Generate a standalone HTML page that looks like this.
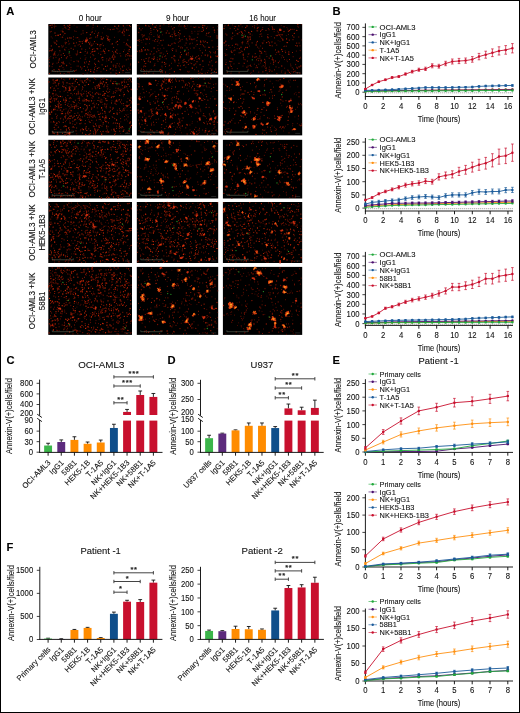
<!DOCTYPE html>
<html><head><meta charset="utf-8"><style>
html,body{margin:0;padding:0;background:#fff;}
body{width:520px;height:713px;overflow:hidden;}
.wrap{position:relative;width:520px;height:713px;box-sizing:border-box;border:1px solid #000;background:#fff;}
svg{position:absolute;left:-1px;top:-1px;will-change:transform;}
svg text{font-family:"Liberation Sans", sans-serif;stroke:#111;stroke-width:0.1px;}
</style></head><body><div class="wrap">
<svg width="520" height="713" viewBox="0 0 520 713" font-family='"Liberation Sans", sans-serif'>
<text x="6.30" y="15.00" font-size="11.2" text-anchor="start" font-weight="bold" fill="#000" >A</text>
<text x="332.60" y="15.30" font-size="11.2" text-anchor="start" font-weight="bold" fill="#000" >B</text>
<text x="6.40" y="363.80" font-size="11.2" text-anchor="start" font-weight="bold" fill="#000" >C</text>
<text x="167.40" y="364.20" font-size="11.2" text-anchor="start" font-weight="bold" fill="#000" >D</text>
<text x="332.60" y="363.80" font-size="11.2" text-anchor="start" font-weight="bold" fill="#000" >E</text>
<text x="6.60" y="550.80" font-size="11.2" text-anchor="start" font-weight="bold" fill="#000" >F</text>
<text x="90.15" y="21.00" font-size="8.4" text-anchor="middle" font-weight="normal" fill="#111" textLength="23.0" lengthAdjust="spacingAndGlyphs">0 hour</text>
<text x="177.50" y="21.00" font-size="8.4" text-anchor="middle" font-weight="normal" fill="#111" textLength="23.1" lengthAdjust="spacingAndGlyphs">9 hour</text>
<text x="262.55" y="21.00" font-size="8.4" text-anchor="middle" font-weight="normal" fill="#111" textLength="26.8" lengthAdjust="spacingAndGlyphs">16 hour</text>
<text x="0" y="0" font-size="9.6" text-anchor="middle" fill="#111" textLength="38.2" lengthAdjust="spacingAndGlyphs" transform="translate(36.1,49.30) rotate(-90)">OCI-AML3</text>
<text x="0" y="0" font-size="9.6" text-anchor="middle" fill="#111" textLength="56.5" lengthAdjust="spacingAndGlyphs" transform="translate(35.0,106.45) rotate(-90)">OCI-AML3 +NK</text>
<text x="0" y="0" font-size="9.6" text-anchor="middle" fill="#111" textLength="17.0" lengthAdjust="spacingAndGlyphs" transform="translate(45.2,106.45) rotate(-90)">IgG1</text>
<text x="0" y="0" font-size="9.6" text-anchor="middle" fill="#111" textLength="56.5" lengthAdjust="spacingAndGlyphs" transform="translate(35.0,169.15) rotate(-90)">OCI-AML3 +NK</text>
<text x="0" y="0" font-size="9.6" text-anchor="middle" fill="#111" textLength="20.3" lengthAdjust="spacingAndGlyphs" transform="translate(45.2,169.15) rotate(-90)">T-1A5</text>
<text x="0" y="0" font-size="9.6" text-anchor="middle" fill="#111" textLength="56.5" lengthAdjust="spacingAndGlyphs" transform="translate(35.0,232.50) rotate(-90)">OCI-AML3 +NK</text>
<text x="0" y="0" font-size="9.6" text-anchor="middle" fill="#111" textLength="36.2" lengthAdjust="spacingAndGlyphs" transform="translate(45.2,232.50) rotate(-90)">HEK5-1B3</text>
<text x="0" y="0" font-size="9.6" text-anchor="middle" fill="#111" textLength="56.5" lengthAdjust="spacingAndGlyphs" transform="translate(35.0,300.90) rotate(-90)">OCI-AML3 +NK</text>
<text x="0" y="0" font-size="9.6" text-anchor="middle" fill="#111" textLength="18.6" lengthAdjust="spacingAndGlyphs" transform="translate(45.2,300.90) rotate(-90)">58B1</text>
<rect x="48.30" y="24.00" width="83.70" height="50.60" fill="#000"/>
<g fill="none"><path d="M59.9 66.5h0M82.2 41.6h0M62.6 37.2h0M66.4 58.0h0M124.1 35.1h0M86.7 38.2h0M115.5 51.4h0M52.1 25.0h0M130.1 46.7h0M76.7 54.8h0M129.2 35.4h0M62.0 62.5h0M104.9 53.2h0M89.5 61.5h0M77.7 37.6h0M102.8 59.9h0M63.1 63.7h0M75.0 45.9h0M52.6 64.1h0M92.3 31.9h0M113.6 59.4h0M116.8 49.9h0M127.3 45.0h0M91.9 45.2h0M49.5 73.6h0M102.1 64.8h0M55.8 35.6h0M88.8 64.2h0M51.3 45.9h0M112.2 57.6h0M130.0 69.5h0M89.8 38.3h0M103.5 50.2h0M74.0 61.6h0M54.2 54.6h0M116.7 73.9h0M51.9 27.6h0M55.0 33.0h0M65.0 27.2h0M64.9 33.5h0M127.8 53.3h0M95.4 64.5h0M80.5 46.2h0M59.4 58.8h0M111.3 62.0h0M108.4 39.3h0M126.5 30.0h0M58.3 35.4h0" stroke="rgb(145,24,4)" stroke-width="1.3" stroke-linecap="round"/><path d="M58.6 62.2h0M114.0 29.2h0M84.6 62.3h0M126.5 43.4h0M97.5 26.2h0M88.6 42.6h0M88.0 25.7h0M80.1 41.7h0M73.3 49.3h0M115.9 52.4h0M79.2 41.4h0M117.1 63.7h0M108.9 40.4h0M49.7 66.0h0M60.3 73.3h0M89.7 48.2h0M59.0 60.1h0M61.4 65.8h0M91.0 37.9h0M78.2 61.2h0M64.5 55.5h0M108.2 39.7h0M105.3 49.0h0M56.7 44.3h0M123.6 51.6h0M130.2 26.5h0M127.9 53.5h0M65.3 43.8h0M91.1 45.9h0M49.5 50.9h0M55.1 55.0h0M110.0 58.8h0M67.8 25.8h0M113.8 58.1h0M92.9 54.7h0M71.1 48.3h0M98.9 67.7h0M69.5 37.9h0M113.7 47.4h0M63.3 53.5h0M127.8 40.0h0M108.0 36.4h0M61.5 57.6h0M127.9 55.7h0M101.2 36.7h0M94.5 69.6h0M110.8 68.5h0M50.7 25.5h0M117.2 53.4h0M65.0 50.0h0M48.9 59.4h0M113.7 54.8h0" stroke="rgb(175,32,6)" stroke-width="1.0" stroke-linecap="round"/><path d="M70.8 64.3h0M123.3 26.0h0M127.6 70.5h0M91.9 44.0h0M102.3 32.9h0M86.8 37.9h0M91.7 52.3h0M51.5 71.3h0M57.9 55.5h0M128.8 67.9h0M95.5 31.0h0M60.0 51.8h0M79.0 39.2h0M49.8 57.8h0M69.1 25.5h0M130.3 65.2h0M50.8 56.6h0M106.8 61.0h0M92.1 29.0h0M58.7 54.3h0M103.4 38.3h0M128.2 50.7h0M96.0 43.5h0M123.6 25.7h0M90.4 42.2h0M76.9 60.8h0M102.4 43.2h0M86.0 57.7h0M114.4 26.0h0M52.3 38.1h0M77.7 54.5h0M124.9 28.0h0M119.5 66.8h0M124.3 49.9h0M83.3 40.3h0M123.8 33.7h0M65.7 27.8h0M69.7 25.0h0M94.3 51.0h0M131.1 58.5h0M53.5 55.5h0M61.1 37.2h0M71.1 60.2h0M105.1 26.5h0M101.1 51.7h0M63.3 35.2h0M102.9 51.5h0M100.0 46.6h0M118.2 31.9h0M124.7 32.2h0M69.3 63.2h0M69.7 43.6h0M66.1 47.5h0M99.7 61.9h0M103.6 51.5h0M81.4 69.4h0M111.2 44.2h0M125.5 55.0h0M50.0 48.7h0M68.9 49.6h0M120.9 69.9h0M74.1 25.2h0M66.0 28.6h0M66.8 57.9h0M122.3 33.6h0" stroke="rgb(85,10,2)" stroke-width="1.0" stroke-linecap="round"/><path d="M108.8 50.7h0M94.5 41.6h0M110.3 68.9h0M97.4 68.3h0M87.6 39.8h0M102.4 39.1h0M129.6 55.8h0M74.5 71.1h0M97.6 35.3h0M97.7 48.9h0M117.3 41.4h0M110.3 29.6h0M54.0 69.8h0M58.0 35.2h0M101.3 38.9h0M69.7 27.7h0M94.2 51.4h0M92.5 49.3h0M89.7 44.0h0M85.6 70.3h0M55.0 43.0h0M130.4 47.4h0M100.9 44.7h0M90.7 71.4h0M118.6 26.0h0M86.8 32.6h0M105.6 66.4h0M103.7 68.9h0M90.4 34.7h0M88.5 69.8h0M107.5 38.6h0M92.3 51.4h0M123.1 70.4h0M71.0 38.0h0M112.4 43.8h0M66.6 65.6h0M59.0 46.7h0M67.7 38.1h0M63.4 62.1h0M122.3 32.4h0M80.2 52.4h0M129.4 25.6h0M102.7 57.4h0M114.9 56.9h0M80.8 52.3h0M112.5 56.1h0M54.6 53.2h0M104.4 51.6h0M60.3 34.5h0M58.9 69.4h0M108.8 60.1h0M119.5 72.5h0M64.2 25.3h0M122.5 66.8h0M52.4 49.4h0M97.0 48.6h0M97.6 44.5h0M114.9 26.3h0M129.3 49.6h0M98.4 61.1h0M69.9 25.2h0M73.8 43.2h0M115.8 67.1h0M62.9 31.8h0M84.3 66.3h0" stroke="rgb(175,32,6)" stroke-width="1.3" stroke-linecap="round"/><path d="M64.2 73.7h0M63.0 67.5h0M65.3 42.4h0M69.1 29.5h0M71.0 67.5h0M122.7 31.5h0M61.7 45.7h0M91.4 32.7h0M129.0 55.1h0M120.0 53.5h0M113.5 66.5h0M75.4 70.6h0M76.1 53.9h0M74.7 30.9h0M92.1 52.2h0M116.3 70.4h0M115.9 73.0h0M93.8 71.4h0M128.2 59.0h0M79.3 44.4h0M117.8 28.9h0M109.5 58.2h0M123.6 30.3h0M114.0 55.4h0M106.6 35.7h0M59.2 59.7h0M71.1 57.6h0M126.0 44.8h0M57.0 63.1h0M57.5 71.7h0M69.8 55.5h0M93.7 55.5h0M106.7 58.8h0M52.5 50.2h0M95.7 66.4h0M81.2 34.2h0M123.9 29.2h0M65.1 42.3h0M83.1 74.0h0M68.2 29.4h0M59.5 70.3h0" stroke="rgb(85,10,2)" stroke-width="1.3" stroke-linecap="round"/><path d="M90.8 69.6h0M83.1 33.1h0M88.9 42.2h0M94.3 33.5h0M86.3 61.9h0M67.3 56.7h0M123.2 25.4h0M55.1 51.8h0M107.7 40.1h0M103.5 37.4h0M126.6 43.9h0M64.2 63.8h0M87.6 67.1h0M125.7 56.2h0M126.5 69.3h0M63.1 31.9h0M68.4 41.1h0M87.5 52.2h0M96.9 70.8h0M110.9 72.8h0M87.1 53.3h0M95.5 37.1h0M64.5 49.3h0M50.8 50.5h0M55.9 26.2h0M77.4 53.0h0M113.7 52.9h0M59.9 50.5h0M130.7 64.0h0M120.4 68.8h0M129.1 51.4h0M116.1 42.7h0M66.5 42.7h0M90.4 57.2h0M73.6 36.8h0M56.6 40.8h0M116.0 65.8h0M94.4 63.3h0M113.0 70.0h0M99.8 45.1h0M85.2 51.4h0M62.6 31.1h0M109.3 41.2h0M77.6 51.1h0M66.5 65.3h0M98.0 33.9h0M56.4 44.3h0M51.9 50.8h0M76.6 42.8h0M83.0 30.8h0M116.8 28.2h0M119.9 31.1h0M51.7 50.7h0M98.7 32.7h0M94.6 67.9h0M54.3 24.9h0M65.3 39.2h0" stroke="rgb(145,24,4)" stroke-width="1.0" stroke-linecap="round"/><path d="M56.0 57.4h0M86.7 25.9h0M114.6 37.3h0M85.7 49.6h0M124.4 66.0h0M54.2 26.5h0M55.2 71.6h0M63.5 46.0h0M54.0 42.1h0M63.0 28.9h0M73.5 39.4h0M122.9 72.1h0M85.0 55.4h0M54.6 27.8h0M101.4 38.2h0M78.7 61.8h0M77.1 66.1h0M122.3 66.6h0M123.7 26.3h0M76.1 37.8h0M69.6 72.9h0M119.6 39.6h0M123.0 65.7h0M87.2 73.1h0M51.2 36.9h0M119.5 63.9h0M116.1 74.0h0M52.1 66.7h0M98.6 53.3h0M90.7 53.6h0M78.1 45.1h0M108.0 29.0h0M93.0 27.4h0M100.3 48.3h0M95.4 58.5h0M49.2 25.5h0M76.1 31.4h0M51.4 31.4h0M95.5 51.1h0M115.1 65.2h0M101.0 71.8h0M127.1 25.4h0M93.3 43.9h0M103.6 28.3h0M68.3 26.5h0M61.1 31.0h0M80.4 58.3h0M78.3 66.1h0M53.1 63.3h0M118.8 65.9h0M77.0 27.1h0M76.5 70.1h0M124.0 42.4h0M64.0 69.3h0M49.6 62.4h0M86.6 42.1h0M68.9 44.1h0M84.9 63.4h0" stroke="rgb(115,16,3)" stroke-width="1.0" stroke-linecap="round"/><path d="M112.5 51.3h0M80.5 67.0h0M128.7 45.9h0M50.3 31.8h0M103.4 45.6h0M82.4 43.4h0M62.2 46.9h0M107.5 65.9h0M113.3 65.2h0M70.9 69.8h0M100.7 54.5h0M97.2 36.9h0M93.9 48.8h0M93.9 72.4h0M131.1 56.0h0M126.3 59.8h0M108.0 37.3h0M53.4 54.1h0M81.9 68.1h0M69.1 53.7h0M112.9 29.4h0M61.1 54.9h0M120.7 55.9h0M128.1 30.1h0M124.3 31.5h0M117.7 44.6h0M93.2 25.0h0M85.3 59.2h0M53.4 57.9h0M57.0 41.1h0M94.6 59.2h0M101.6 57.8h0M81.8 49.0h0M109.8 39.4h0M106.6 70.4h0M68.0 72.2h0M126.3 54.6h0" stroke="rgb(115,16,3)" stroke-width="1.3" stroke-linecap="round"/><path d="M69.3 51.9h0" stroke="rgb(40,150,40)" stroke-width="1.3" stroke-linecap="round"/><path d="M86.1 40.1h0M85.7 41.4h0M86.8 40.5h0" stroke="rgb(200,45,15)" stroke-width="1.9" stroke-linecap="round"/></g>
<path d="M52.3 70.0V71.4H73.3V70.0" fill="none" stroke="#6f7a68" stroke-width="0.5"/>
<line x1="125.0" y1="72.6" x2="130.0" y2="72.6" stroke="#444" stroke-width="0.5"/>
<rect x="136.80" y="24.00" width="81.40" height="50.60" fill="#000"/>
<g fill="none"><path d="M214.2 71.5h0M181.1 46.6h0M162.4 34.8h0M217.5 29.8h0M141.9 42.4h0M144.0 71.8h0M149.5 26.3h0M160.3 48.7h0M157.9 45.5h0M149.4 43.6h0M195.9 46.0h0M208.2 70.6h0M190.6 48.3h0M162.1 67.9h0M194.9 31.4h0M149.9 54.1h0M149.8 38.5h0M213.6 52.3h0M199.9 31.1h0M157.6 57.7h0M168.8 26.4h0M197.0 59.4h0M185.4 26.4h0M191.0 26.2h0M203.4 28.1h0M179.4 36.1h0M189.3 71.3h0M165.4 72.9h0M171.8 36.4h0M169.7 69.6h0M187.3 25.9h0M191.2 57.6h0M173.1 29.2h0M211.1 73.8h0M169.1 66.0h0M161.8 52.8h0M149.8 70.2h0M156.0 41.6h0M155.0 63.5h0M153.0 40.6h0M145.6 24.9h0M149.8 39.1h0M217.7 26.6h0M142.5 28.5h0M153.9 66.1h0M153.1 54.7h0M208.1 36.6h0M207.6 26.9h0M170.9 69.2h0" stroke="rgb(85,10,2)" stroke-width="1.0" stroke-linecap="round"/><path d="M166.3 32.9h0M217.7 56.2h0M175.3 35.7h0M143.8 35.8h0M186.4 38.9h0M157.7 30.6h0M145.0 50.1h0M194.0 47.9h0M198.4 71.1h0M141.6 49.3h0M197.0 61.7h0M169.1 33.2h0M172.7 28.8h0M180.8 47.8h0M142.0 51.0h0M138.6 62.2h0M186.8 62.5h0M174.0 56.2h0M180.5 69.7h0M174.2 27.6h0M162.2 62.2h0M148.3 61.1h0M202.4 52.8h0M179.4 38.3h0M171.9 57.7h0M160.1 28.7h0M189.8 39.0h0M217.1 38.0h0M172.9 48.6h0M200.1 64.7h0M142.1 34.8h0M170.1 45.6h0M154.7 65.2h0M197.2 44.4h0M174.3 55.7h0M139.6 50.8h0" stroke="rgb(145,24,4)" stroke-width="1.3" stroke-linecap="round"/><path d="M157.5 35.0h0M171.4 68.3h0M156.3 25.7h0M178.3 42.3h0M176.4 35.5h0M200.4 41.4h0M198.0 31.3h0M179.4 24.6h0M156.7 29.4h0M162.2 56.3h0M212.2 66.0h0M194.6 69.7h0M179.4 69.5h0M210.1 68.4h0M176.1 50.0h0M153.7 58.1h0M178.2 34.9h0M201.4 55.7h0M212.0 40.7h0M162.7 70.4h0M157.4 41.5h0M146.8 70.2h0M164.4 56.6h0M178.4 65.8h0M151.2 34.5h0M139.8 51.9h0M196.5 67.2h0M185.9 67.2h0M160.0 53.0h0M210.8 56.5h0M175.5 43.3h0M159.8 26.0h0M153.9 36.5h0M202.0 68.9h0M143.7 66.8h0M171.6 63.3h0M149.0 37.0h0M175.1 33.8h0M210.7 52.1h0M200.2 50.6h0M207.7 56.2h0M205.3 73.2h0M159.2 43.0h0M175.9 39.1h0M144.5 70.6h0M171.8 49.2h0M192.3 43.2h0M180.5 40.1h0M171.3 26.7h0M212.3 65.7h0M209.5 51.6h0M141.1 40.4h0M212.0 69.1h0M181.0 26.1h0M151.0 30.6h0M149.5 33.9h0M174.9 56.5h0M200.2 72.9h0M145.6 38.8h0M199.2 27.4h0M203.2 29.4h0M163.3 54.2h0M185.0 45.2h0M195.3 58.2h0M172.1 43.7h0M204.1 42.4h0M190.2 63.1h0M190.2 43.3h0M203.9 41.4h0M164.8 64.5h0" stroke="rgb(115,16,3)" stroke-width="1.0" stroke-linecap="round"/><path d="M207.3 42.6h0M200.8 42.0h0M150.3 61.9h0M207.8 55.1h0M162.2 72.0h0M145.8 25.7h0M202.6 27.5h0M174.8 60.2h0M159.3 37.1h0M180.1 33.8h0M202.9 25.4h0M202.0 31.3h0M214.3 30.1h0M150.7 28.3h0M138.0 40.4h0M164.5 62.6h0M155.6 27.2h0M184.6 51.2h0M185.0 61.6h0M199.4 58.9h0M153.6 59.4h0M158.3 36.9h0M174.4 71.7h0M146.7 54.2h0M144.5 61.3h0M202.0 73.6h0M217.1 56.5h0M152.6 24.6h0M202.8 60.9h0M170.4 36.2h0M168.4 45.1h0M210.7 57.6h0M146.9 38.8h0M192.4 68.2h0M186.4 54.7h0M160.9 40.6h0M183.1 62.1h0M216.4 72.3h0M194.1 64.9h0M154.1 48.0h0" stroke="rgb(175,32,6)" stroke-width="1.3" stroke-linecap="round"/><path d="M217.3 46.6h0M179.0 63.2h0M217.3 36.0h0M154.0 53.7h0M160.7 72.1h0M184.4 65.1h0M147.6 39.2h0M158.0 40.0h0M206.2 35.1h0M174.1 32.8h0M169.5 65.3h0M180.1 56.1h0M214.5 30.8h0M200.3 40.9h0M141.2 51.6h0M215.9 69.1h0M214.7 32.3h0M207.4 72.6h0M205.6 41.3h0M192.1 39.8h0M145.2 63.6h0M141.6 59.6h0M162.3 57.3h0M198.7 58.5h0M145.9 63.4h0M150.4 54.0h0M215.5 51.7h0M194.2 60.3h0M210.6 52.8h0M153.9 29.5h0M163.2 40.2h0M183.0 60.5h0M144.2 35.1h0M143.6 69.7h0M174.6 34.3h0M165.6 66.5h0M154.2 56.7h0M191.8 57.9h0M197.3 37.4h0M203.1 66.5h0M161.0 53.1h0M183.5 65.4h0M174.9 33.6h0M158.0 61.4h0M215.1 53.3h0M217.3 49.3h0M172.1 34.5h0M172.4 36.8h0M143.8 59.9h0M146.4 73.2h0M203.1 40.9h0M180.6 65.9h0M142.7 36.9h0M161.0 69.6h0M157.9 48.8h0M186.0 28.6h0M168.9 24.5h0M137.9 25.6h0M198.4 55.7h0M173.8 58.9h0" stroke="rgb(145,24,4)" stroke-width="1.0" stroke-linecap="round"/><path d="M190.0 36.9h0M177.6 65.7h0M209.6 47.4h0M148.9 72.1h0M157.6 31.0h0M198.0 34.0h0M187.0 47.8h0M158.9 50.6h0M172.6 50.5h0M208.2 33.4h0M215.9 56.0h0M159.4 70.2h0M215.5 62.2h0M180.2 57.7h0M211.7 70.2h0M166.8 51.2h0M165.9 63.9h0M206.6 33.3h0M204.9 47.0h0M149.1 57.7h0M141.3 69.1h0M192.1 67.9h0M137.4 51.3h0M154.3 27.1h0M182.5 47.9h0M205.6 50.2h0M154.5 41.0h0M186.8 53.3h0M186.1 43.1h0M203.6 30.4h0M145.4 49.8h0M206.6 28.3h0M156.8 51.8h0M141.5 50.2h0M178.8 46.3h0M188.6 52.8h0M165.7 55.9h0M157.2 59.8h0M146.1 58.5h0M190.7 56.7h0M196.9 40.7h0M178.4 32.5h0M143.4 47.5h0M210.5 56.3h0M162.1 45.2h0M198.9 73.4h0M180.7 52.4h0M208.6 47.3h0M147.4 49.8h0M209.0 32.6h0M181.6 54.5h0M178.5 60.1h0M152.1 58.7h0M154.5 58.2h0M166.2 58.8h0M160.4 69.5h0M144.1 73.7h0M167.6 53.6h0M194.8 27.5h0M159.5 59.2h0M214.4 71.6h0M145.7 66.3h0M211.2 73.5h0M203.6 45.9h0M184.5 25.6h0M192.7 56.2h0M155.7 39.5h0M212.9 47.1h0" stroke="rgb(175,32,6)" stroke-width="1.0" stroke-linecap="round"/><path d="M159.3 35.7h0M213.2 27.5h0M189.8 59.2h0M188.4 49.7h0M161.9 66.2h0M188.8 72.1h0M151.5 51.5h0M201.5 69.7h0M176.2 51.2h0M189.8 44.0h0M195.8 26.8h0M187.1 40.2h0M143.5 39.7h0M148.5 26.0h0M171.7 44.2h0M216.6 35.9h0M148.6 58.9h0M188.5 60.9h0M141.7 50.5h0M191.8 31.3h0M139.4 41.4h0M191.4 39.1h0M161.7 31.4h0M163.8 48.2h0M188.7 60.2h0M188.2 55.0h0M153.3 73.1h0M137.9 45.4h0M198.7 27.2h0M192.0 33.2h0M188.3 52.8h0M211.6 60.7h0M187.7 71.5h0M202.4 44.7h0M184.1 26.1h0M182.1 39.4h0M178.8 25.9h0M199.4 48.6h0M163.9 24.7h0M145.9 44.0h0M194.7 39.0h0M154.8 70.1h0" stroke="rgb(85,10,2)" stroke-width="1.3" stroke-linecap="round"/><path d="M167.3 30.8h0M209.8 62.0h0M204.7 25.7h0M139.2 39.7h0M150.9 32.3h0M169.8 73.9h0M139.5 28.5h0M191.6 63.6h0M174.4 31.1h0M175.0 61.8h0M141.0 29.9h0M149.5 39.3h0M184.0 59.5h0M215.2 52.6h0M174.3 43.0h0M210.3 36.7h0M180.6 56.7h0M184.4 36.3h0M196.8 56.7h0M205.2 55.0h0M160.3 25.9h0M188.4 64.4h0M165.5 72.0h0M214.6 30.2h0M199.7 58.1h0M179.7 30.3h0M144.2 65.9h0M148.7 50.1h0M195.7 63.8h0M193.1 39.2h0M184.4 26.8h0M159.9 58.8h0M208.7 64.8h0M189.3 36.1h0M146.6 39.1h0M151.2 69.7h0M195.6 57.6h0M216.6 61.9h0M191.5 59.5h0M205.3 55.4h0M193.9 27.2h0M138.7 32.5h0M191.6 39.3h0M144.0 66.1h0M179.9 41.2h0M200.3 44.3h0" stroke="rgb(115,16,3)" stroke-width="1.3" stroke-linecap="round"/><path d="M185.0 50.2h0M160.8 32.2h0M160.1 55.9h0" stroke="rgb(40,150,40)" stroke-width="1.3" stroke-linecap="round"/><path d="M191.1 58.8h0M192.4 58.6h0M192.1 58.9h0" stroke="rgb(200,45,15)" stroke-width="1.9" stroke-linecap="round"/></g>
<path d="M140.8 70.0V71.4H161.8V70.0" fill="none" stroke="#6f7a68" stroke-width="0.5"/>
<line x1="211.2" y1="72.6" x2="216.2" y2="72.6" stroke="#444" stroke-width="0.5"/>
<rect x="222.90" y="24.00" width="79.30" height="50.60" fill="#000"/>
<g fill="none"><path d="M242.0 51.5h0M272.4 27.8h0M270.0 70.1h0M256.4 65.8h0M272.0 71.2h0M285.1 73.5h0M274.6 37.9h0M229.7 61.3h0M259.8 56.0h0M226.2 45.0h0M284.1 26.8h0M299.7 66.9h0M248.1 40.1h0M257.0 30.8h0M285.7 52.6h0M272.2 45.9h0M242.4 33.4h0M299.1 43.1h0M289.5 72.5h0M293.0 39.7h0M239.1 52.8h0M266.0 30.4h0M237.9 33.9h0M248.1 69.4h0M299.9 58.6h0M283.7 57.3h0M239.0 63.3h0M225.4 55.2h0M289.6 59.5h0M278.2 51.2h0M252.1 42.9h0M228.1 25.6h0M239.1 72.8h0M265.4 63.1h0M286.2 46.2h0M250.4 65.2h0M282.1 34.8h0M294.1 71.6h0M293.6 69.4h0M276.9 73.7h0M257.5 28.3h0M227.2 72.2h0M224.0 42.9h0M265.0 66.9h0M259.7 51.2h0M264.5 62.5h0M248.9 53.8h0M224.3 43.0h0M258.0 58.3h0M260.4 31.4h0M228.6 25.0h0M292.4 35.7h0M268.3 28.7h0M286.9 42.6h0M261.8 53.2h0M236.9 44.1h0M288.3 31.5h0M244.5 49.7h0M226.9 35.0h0M255.2 53.7h0M275.3 61.0h0M273.3 64.2h0M262.5 48.3h0M256.4 59.8h0M247.3 61.1h0M274.6 69.8h0M292.6 52.5h0" stroke="rgb(175,32,6)" stroke-width="1.0" stroke-linecap="round"/><path d="M243.7 36.1h0M241.6 32.0h0M247.0 26.0h0M245.7 27.6h0M251.6 31.4h0M273.1 60.0h0M297.3 68.1h0M250.1 37.0h0M282.9 40.1h0M232.9 58.8h0M289.3 30.5h0M243.2 54.2h0M230.9 61.6h0M284.0 31.6h0M261.1 60.2h0M231.9 52.3h0M225.8 64.3h0M247.3 47.5h0M286.6 38.9h0M297.2 45.9h0M297.8 24.6h0M288.8 54.4h0M247.8 36.8h0M298.1 61.4h0M247.8 41.7h0M256.1 45.0h0M297.2 72.8h0M294.3 33.3h0M242.7 42.1h0M252.6 56.8h0M232.6 33.1h0M272.8 29.2h0M296.8 30.4h0M258.0 27.3h0M277.1 35.5h0M260.8 51.3h0M248.8 32.5h0M266.7 42.6h0M281.7 49.5h0M224.0 28.6h0M278.8 51.9h0M296.7 60.3h0M268.0 37.7h0M250.4 39.2h0M287.5 42.6h0" stroke="rgb(175,32,6)" stroke-width="1.3" stroke-linecap="round"/><path d="M265.8 51.8h0M254.3 64.2h0M292.2 29.3h0M230.3 64.2h0M266.5 70.2h0M299.5 58.4h0M244.6 63.5h0M232.8 36.6h0M261.1 30.5h0M286.9 60.0h0M226.2 62.6h0M269.3 67.1h0M284.7 68.2h0M298.5 66.9h0M249.6 46.1h0M273.8 61.3h0M276.5 52.6h0M284.6 59.5h0M231.2 37.9h0M287.3 61.6h0M290.7 64.1h0M279.5 61.2h0M296.4 67.2h0M234.6 47.3h0M234.3 54.7h0M249.9 39.9h0M242.2 26.9h0M269.2 25.1h0M285.2 51.0h0M243.0 66.1h0M257.1 28.7h0M296.3 51.1h0M262.8 27.5h0M233.7 50.8h0M234.3 26.4h0M248.2 54.1h0M248.3 44.0h0M237.1 48.6h0M274.1 31.6h0M247.8 56.7h0M245.4 31.0h0M288.6 34.4h0M258.9 48.2h0M241.0 31.4h0M225.6 41.9h0M298.4 27.1h0M300.3 57.3h0M280.7 34.8h0M250.5 73.9h0M252.7 26.6h0M260.7 46.0h0M269.3 43.7h0M275.8 54.4h0M258.8 64.2h0M255.2 56.7h0M242.0 32.4h0M281.6 72.0h0" stroke="rgb(115,16,3)" stroke-width="1.0" stroke-linecap="round"/><path d="M281.4 57.8h0M278.1 40.7h0M225.0 45.7h0M301.6 39.9h0M300.0 50.3h0M281.2 25.6h0M293.6 69.1h0M275.3 50.5h0M286.9 27.5h0M242.8 55.2h0M260.4 63.0h0M270.7 63.3h0M259.5 36.7h0M286.3 35.6h0M275.7 60.9h0M284.0 26.7h0M288.9 71.7h0M266.5 67.6h0M278.3 34.7h0M258.8 60.9h0M231.8 71.3h0M291.9 71.4h0M269.6 58.3h0M261.4 29.9h0M225.1 53.5h0M226.0 59.9h0M272.1 41.7h0M231.6 58.3h0M297.7 26.6h0M301.5 24.6h0M230.1 47.6h0M232.6 24.9h0M260.2 53.6h0M231.5 39.3h0M281.9 70.6h0M251.2 72.4h0M280.0 41.3h0M224.7 26.7h0M252.5 55.9h0M241.4 34.4h0M244.4 48.4h0M284.4 46.0h0M244.2 34.5h0M255.4 67.8h0M300.6 50.7h0M228.0 66.9h0M252.1 35.1h0M234.8 35.4h0M262.0 66.8h0M278.0 52.4h0M241.4 37.4h0M235.7 44.0h0M266.1 54.1h0M241.1 50.6h0M246.9 39.6h0M262.2 42.5h0M271.2 36.5h0" stroke="rgb(85,10,2)" stroke-width="1.0" stroke-linecap="round"/><path d="M243.6 57.8h0M279.3 35.0h0M235.6 26.6h0M237.3 33.7h0M274.3 29.3h0M281.8 66.0h0M266.0 68.6h0M296.7 43.1h0M275.0 43.1h0M234.9 50.1h0M293.9 37.1h0M264.7 59.3h0M282.7 39.2h0M282.5 51.4h0M225.8 41.2h0M288.8 51.9h0M290.7 29.5h0M273.7 62.3h0M254.9 57.3h0M250.1 34.0h0M237.9 29.3h0M239.5 48.7h0M299.9 73.1h0M245.7 47.5h0M248.2 37.9h0M246.9 67.1h0M278.4 62.7h0M228.8 45.6h0M257.2 67.5h0M238.8 25.9h0M228.4 68.0h0M289.3 40.1h0M243.0 37.6h0M272.2 59.3h0M300.8 66.0h0M231.3 51.2h0M241.0 47.2h0M262.9 71.8h0M257.4 41.5h0" stroke="rgb(145,24,4)" stroke-width="1.3" stroke-linecap="round"/><path d="M269.1 69.3h0M259.5 50.3h0M246.9 43.2h0M267.2 73.4h0M295.6 64.5h0M231.8 61.6h0M293.2 56.7h0M284.1 31.3h0M237.7 29.0h0M232.2 68.5h0M237.4 68.6h0M225.8 33.9h0M234.0 63.8h0M277.8 31.2h0M230.7 58.3h0M287.8 29.1h0M248.5 54.3h0M272.1 26.5h0M288.2 70.7h0M245.3 59.7h0M281.6 66.1h0M231.0 73.1h0M262.5 43.6h0M278.4 32.7h0M294.1 29.4h0M239.3 32.4h0M230.2 28.5h0M264.0 40.8h0M225.0 25.6h0M278.9 67.6h0M272.8 28.6h0M279.8 54.3h0" stroke="rgb(85,10,2)" stroke-width="1.3" stroke-linecap="round"/><path d="M290.5 73.7h0M276.2 35.6h0M235.6 44.4h0M232.1 38.5h0M254.5 25.8h0M288.8 54.0h0M256.5 56.7h0M260.1 34.3h0M272.5 58.0h0M293.5 72.1h0M253.4 71.0h0M265.2 61.1h0M271.9 42.1h0M258.4 60.3h0M267.6 36.7h0M232.4 45.3h0M244.1 63.2h0M257.2 24.6h0M262.6 29.4h0M257.7 30.8h0" stroke="rgb(115,16,3)" stroke-width="1.3" stroke-linecap="round"/><path d="M226.9 55.0h0M297.7 72.7h0M271.6 55.9h0M259.9 58.2h0M298.8 37.0h0M248.1 66.0h0M250.0 65.6h0M269.6 45.4h0M265.3 65.0h0M261.6 52.8h0M269.3 42.4h0M276.0 66.9h0M230.7 65.9h0M275.6 49.7h0M266.9 56.6h0M226.7 49.5h0M251.0 66.5h0M267.9 34.5h0M265.6 70.6h0M257.7 47.1h0M240.9 24.6h0M242.3 43.8h0M285.2 72.2h0M261.1 33.9h0M295.2 71.1h0M282.2 55.8h0M237.8 45.0h0M292.2 67.8h0M240.6 52.4h0M281.7 38.2h0M264.6 51.4h0M261.8 36.3h0M263.2 65.7h0M284.0 46.5h0M258.8 72.1h0M231.5 66.5h0M235.8 30.6h0M263.1 43.0h0M290.9 65.9h0M244.5 30.6h0M280.5 36.8h0M234.3 28.5h0M269.3 71.6h0M287.9 70.0h0M268.3 41.5h0M241.9 42.7h0M270.3 45.6h0M269.1 29.8h0M269.1 58.1h0M295.7 45.5h0M256.5 42.9h0M254.5 27.8h0M242.7 37.3h0M300.0 45.8h0M243.5 55.7h0M261.3 61.1h0M244.0 59.3h0M276.8 45.1h0M282.0 34.7h0" stroke="rgb(145,24,4)" stroke-width="1.0" stroke-linecap="round"/><path d="M252.3 59.8h0M245.4 36.2h0M242.1 35.2h0M270.5 55.9h0" stroke="rgb(40,150,40)" stroke-width="1.3" stroke-linecap="round"/><path d="M280.7 30.0h0M279.9 30.0h0M280.0 29.4h0" stroke="rgb(200,45,15)" stroke-width="1.9" stroke-linecap="round"/></g>
<path d="M226.9 70.0V71.4H247.9V70.0" fill="none" stroke="#6f7a68" stroke-width="0.5"/>
<line x1="295.2" y1="72.6" x2="300.2" y2="72.6" stroke="#444" stroke-width="0.5"/>
<rect x="48.30" y="77.50" width="83.70" height="57.90" fill="#000"/>
<g fill="none"><path d="M86.2 109.9h0M49.6 112.7h0M120.2 110.6h0M128.0 84.4h0M65.6 87.7h0M58.1 104.8h0M102.5 110.1h0M86.3 113.6h0M92.9 117.1h0M61.1 107.4h0M86.8 130.4h0M131.4 125.4h0M106.3 121.7h0M94.2 116.0h0M98.7 84.5h0M59.1 103.2h0M95.7 133.0h0M119.4 123.9h0M112.6 83.3h0M52.9 131.9h0M119.7 95.3h0M64.8 116.8h0M57.1 79.8h0M82.4 82.1h0M74.2 116.2h0M89.0 134.6h0M75.3 81.1h0M68.8 127.7h0M74.3 106.4h0M101.7 83.1h0M87.1 100.4h0M81.9 111.8h0M85.8 134.5h0M104.1 95.2h0M99.4 86.0h0M78.3 108.6h0M94.8 129.0h0M131.3 89.5h0M115.8 123.1h0M126.2 105.4h0M74.7 119.9h0M53.1 133.1h0M54.9 109.6h0M101.0 102.2h0M104.8 103.9h0M113.8 129.6h0M99.4 127.2h0M67.0 82.8h0M80.0 123.7h0M48.9 81.9h0M79.5 98.3h0M53.1 79.9h0M61.0 104.7h0M102.6 117.0h0M71.1 110.7h0M90.4 130.7h0M87.7 114.6h0M95.9 131.7h0M57.5 132.3h0M70.1 123.0h0M86.4 99.4h0M108.7 132.0h0M62.6 113.6h0M106.0 117.3h0M105.3 117.4h0" stroke="rgb(175,32,6)" stroke-width="1.3" stroke-linecap="round"/><path d="M86.2 126.7h0M98.0 100.5h0M55.3 80.7h0M83.6 129.5h0M87.1 108.8h0M70.0 78.6h0M86.2 82.2h0M77.6 82.7h0M111.5 103.0h0M58.9 83.3h0M69.0 106.4h0M117.0 113.0h0M57.6 80.1h0M112.0 96.6h0M82.3 89.1h0M87.6 78.6h0M76.7 115.5h0M127.0 101.9h0M79.3 100.2h0M74.6 89.2h0M101.5 134.5h0M85.8 99.8h0M102.6 84.0h0M123.6 108.9h0M98.4 104.7h0M117.0 84.7h0M57.0 123.1h0M116.2 100.6h0M90.3 94.8h0M98.4 94.2h0M130.5 79.9h0M103.2 122.6h0M63.2 122.4h0M85.9 128.1h0M119.5 99.7h0M93.0 103.6h0M70.1 90.5h0M129.8 78.2h0M62.0 113.4h0M73.1 101.6h0M91.2 116.6h0M64.0 126.7h0M58.8 96.4h0M51.5 98.0h0M104.6 93.4h0M69.5 129.8h0M50.5 87.9h0M67.8 112.2h0M93.2 96.7h0M77.4 118.0h0M80.9 93.8h0M56.1 98.7h0M114.2 131.0h0M56.7 123.2h0M60.7 110.1h0M109.5 118.5h0M100.0 101.0h0M82.4 133.0h0M53.5 121.4h0M99.8 116.9h0M96.3 125.9h0M80.0 118.8h0M54.2 88.2h0M86.5 105.7h0M126.8 86.7h0M122.0 82.3h0M60.4 101.5h0M55.3 105.7h0M114.6 134.7h0M113.6 96.9h0M104.7 85.0h0M59.0 108.0h0M62.6 133.3h0M62.6 86.2h0M119.3 128.2h0M53.0 93.9h0M117.4 123.4h0M89.3 105.4h0M90.1 133.7h0M56.8 118.1h0M105.5 121.4h0M94.3 78.1h0M85.0 85.3h0M105.1 113.0h0M110.5 110.9h0M82.5 86.9h0M56.9 80.7h0M84.6 80.9h0M107.1 86.3h0M72.1 106.7h0M87.6 107.1h0M100.1 94.2h0M56.3 106.5h0" stroke="rgb(205,42,8)" stroke-width="1.0" stroke-linecap="round"/><path d="M88.1 112.9h0M66.5 130.7h0M69.2 83.7h0M130.3 121.8h0M128.1 105.5h0M114.4 130.1h0M80.9 119.8h0M128.1 116.9h0M82.7 128.8h0M71.1 104.9h0M106.8 128.0h0M122.3 85.5h0M114.3 96.4h0M58.3 84.1h0M82.0 80.9h0M119.6 108.8h0M54.9 129.5h0M55.3 82.7h0M55.8 114.1h0M103.2 91.5h0M123.7 103.6h0M77.9 113.0h0M127.1 132.8h0M78.5 117.1h0M102.9 78.7h0M116.7 100.0h0M76.0 130.9h0M65.3 104.6h0M108.5 122.8h0M121.8 127.9h0M50.8 87.8h0M65.0 125.7h0M120.7 118.6h0M113.8 123.0h0M50.3 106.2h0M90.0 115.0h0M68.7 128.6h0M91.6 109.2h0M68.2 114.0h0M72.3 118.0h0M124.0 129.9h0M100.7 113.3h0M54.1 81.9h0M105.3 93.5h0M116.4 128.4h0M71.0 93.4h0M76.1 79.5h0M103.1 124.1h0M113.1 107.9h0M129.0 130.6h0M127.8 90.5h0M53.8 90.6h0M131.3 81.8h0M66.1 99.0h0M102.0 126.2h0M73.6 90.2h0M74.5 108.2h0M87.9 79.8h0M65.4 118.0h0M106.5 91.3h0M131.0 98.0h0M119.8 131.2h0M124.4 86.2h0M68.4 117.9h0M101.8 133.2h0M83.1 101.1h0M124.6 82.5h0M65.9 115.7h0M93.4 133.8h0M90.0 80.9h0M76.7 128.0h0M56.7 80.5h0M73.6 78.9h0M83.0 100.2h0" stroke="rgb(175,32,6)" stroke-width="1.0" stroke-linecap="round"/><path d="M73.9 83.2h0M102.6 113.5h0M86.6 93.8h0M118.8 100.0h0M88.4 115.2h0M113.2 123.3h0M81.3 123.1h0M127.0 106.0h0M65.4 113.7h0M65.7 125.8h0M96.7 85.7h0M106.8 121.3h0M116.2 104.4h0M55.1 90.1h0M54.1 109.1h0M73.9 86.8h0M129.5 123.2h0M116.7 126.1h0M104.7 120.5h0M95.7 79.5h0M121.5 89.5h0M83.1 87.6h0M124.6 82.2h0M110.4 107.7h0M94.8 104.9h0M76.7 133.8h0M60.1 91.7h0M124.7 120.0h0M131.0 103.2h0M74.3 108.2h0M58.5 85.0h0M104.1 97.6h0M79.5 98.8h0M116.8 91.0h0M118.3 89.9h0M82.1 94.3h0M85.6 129.1h0M127.9 98.3h0M105.8 100.1h0M57.3 95.4h0M99.1 125.3h0M93.7 102.9h0M52.6 100.8h0M53.5 96.2h0M58.5 105.1h0M92.4 88.8h0M108.9 96.2h0M130.4 127.7h0M131.0 89.2h0M89.6 116.1h0M112.2 116.7h0" stroke="rgb(85,10,2)" stroke-width="1.3" stroke-linecap="round"/><path d="M53.7 88.8h0M91.7 114.4h0M51.3 110.0h0M120.3 133.5h0M72.0 130.2h0M54.5 101.4h0M106.8 132.8h0M88.7 119.6h0M123.3 127.6h0M80.2 78.7h0M66.2 85.7h0M87.1 115.1h0M93.2 123.0h0M71.4 106.3h0M90.4 112.4h0M123.7 105.4h0M78.1 90.0h0M118.8 83.7h0M69.6 121.0h0M90.3 115.2h0M100.8 78.5h0M100.4 83.8h0M76.8 106.1h0M104.4 106.1h0M128.0 114.4h0M129.0 81.4h0M111.1 79.0h0M55.1 95.4h0M68.4 110.1h0M127.7 121.0h0M64.8 80.1h0M117.5 88.6h0M70.6 110.3h0M76.1 107.6h0M102.5 102.0h0M65.5 114.0h0M108.6 126.7h0M50.5 96.3h0M52.2 86.6h0M51.4 118.2h0M72.2 127.3h0M63.3 79.5h0M63.9 79.3h0M91.6 97.8h0M121.3 82.1h0M106.2 104.5h0M120.8 121.8h0M71.9 85.6h0M65.2 101.6h0M84.6 91.1h0M113.0 84.8h0M57.8 101.5h0M59.1 110.3h0M127.1 110.3h0M78.4 102.5h0M94.1 100.7h0M81.6 90.8h0M55.7 85.9h0M49.3 119.9h0M80.0 103.5h0M61.0 118.0h0M126.6 115.4h0M74.4 127.6h0M105.7 107.6h0M81.2 129.1h0M70.3 107.7h0M95.3 131.7h0M85.4 123.7h0M102.8 104.5h0M57.3 98.1h0M130.3 113.4h0M84.9 101.2h0M105.6 131.6h0M73.9 104.4h0M71.9 107.7h0M123.4 92.3h0M107.2 104.0h0M127.5 89.0h0M59.4 81.1h0M84.8 115.2h0M69.5 88.1h0M101.5 79.5h0M98.4 127.1h0M53.2 122.4h0M97.8 93.3h0M72.4 94.9h0" stroke="rgb(85,10,2)" stroke-width="1.0" stroke-linecap="round"/><path d="M113.1 96.6h0M129.9 100.6h0M63.5 109.8h0M54.9 83.1h0M63.3 119.0h0M63.4 99.0h0M103.1 117.3h0M51.3 112.2h0M107.6 132.1h0M93.4 131.9h0M59.5 122.3h0M59.0 107.0h0M123.5 96.0h0M56.8 125.4h0M55.2 107.3h0M125.7 87.1h0M51.0 122.0h0M126.3 119.1h0M58.6 127.0h0M101.2 120.9h0M111.3 129.9h0M101.0 99.2h0M85.5 120.5h0M115.9 90.6h0M115.1 102.0h0M68.3 118.8h0M53.2 110.5h0M66.0 108.9h0M125.5 85.9h0M76.3 94.7h0M69.8 108.7h0M78.0 106.5h0M58.6 101.1h0M107.6 89.2h0M122.9 88.3h0M63.6 119.8h0M80.6 130.9h0M123.8 110.4h0M67.8 92.4h0M80.1 80.8h0M64.0 109.3h0M78.8 93.6h0M110.1 107.1h0M66.0 101.4h0M65.5 121.7h0M122.5 110.2h0M80.4 129.8h0M129.6 86.5h0M70.6 83.9h0M90.0 114.8h0M117.3 110.3h0M65.4 113.3h0M80.8 116.7h0M67.3 119.1h0M104.2 78.2h0M69.7 88.7h0M74.4 107.3h0M97.9 93.1h0M66.3 120.3h0M82.2 96.3h0M57.8 134.2h0M120.4 89.2h0M87.3 105.8h0M57.4 115.4h0M104.0 86.9h0M91.0 95.6h0M69.2 101.6h0M97.5 87.7h0M107.8 79.8h0M119.5 112.7h0M68.1 103.8h0M92.4 98.2h0M121.5 83.8h0M56.2 129.2h0M128.0 79.4h0M65.4 90.0h0M109.9 89.6h0M85.3 80.6h0M128.2 131.0h0M98.7 126.1h0M111.9 100.8h0M125.9 114.7h0M67.4 118.5h0M69.5 89.3h0M122.1 82.3h0M72.7 123.9h0M114.0 128.5h0M120.9 90.9h0" stroke="rgb(115,16,3)" stroke-width="1.0" stroke-linecap="round"/><path d="M107.3 95.9h0M113.2 93.4h0M58.4 101.9h0M57.1 134.3h0M56.4 85.9h0M97.6 130.6h0M90.0 91.7h0M121.6 99.9h0M52.2 118.3h0M107.9 88.2h0M94.3 115.1h0M61.7 78.7h0M118.6 88.3h0M95.9 88.9h0M49.7 92.7h0M74.6 108.2h0M82.6 116.9h0M109.5 91.6h0M113.7 113.6h0M84.2 99.0h0M72.2 86.1h0M85.0 123.7h0M69.3 98.6h0M76.5 93.6h0M76.8 104.1h0M107.4 130.1h0M75.3 100.2h0M85.3 128.9h0M100.6 131.6h0M98.9 86.9h0M74.4 93.6h0M92.6 92.8h0M60.1 105.2h0M124.3 110.1h0M106.3 107.9h0M96.4 103.8h0M67.9 95.4h0M121.9 111.6h0M84.8 116.0h0M100.3 81.1h0M113.9 81.5h0M83.4 82.9h0M65.7 99.8h0M71.0 98.5h0M103.9 86.4h0M120.4 90.9h0M58.7 106.0h0M106.7 79.3h0M89.8 111.3h0M122.1 82.1h0M101.9 99.9h0M120.4 127.5h0M107.8 84.7h0M63.0 81.8h0M95.8 93.6h0M67.6 105.4h0M95.0 86.6h0M63.5 84.0h0M124.9 108.1h0M117.4 123.4h0M115.9 88.2h0M95.1 134.6h0M79.2 97.0h0M50.1 99.3h0M74.9 106.3h0M53.2 83.3h0M58.2 127.4h0M93.2 125.8h0M65.5 97.7h0M96.4 92.6h0M58.8 121.5h0M69.4 79.2h0M104.0 94.3h0M88.9 93.5h0M126.8 106.8h0M57.2 110.2h0M128.1 79.8h0M117.7 101.2h0M97.2 107.9h0M64.1 91.2h0M76.8 123.0h0M126.4 82.1h0M55.5 90.7h0M62.1 96.8h0M88.8 128.8h0M95.3 117.1h0M83.3 108.7h0M68.2 111.2h0M124.8 79.3h0M112.9 117.5h0M87.4 117.3h0M84.7 100.7h0M74.9 113.5h0M89.2 117.6h0M67.2 113.3h0M124.5 116.5h0M78.2 98.5h0" stroke="rgb(145,24,4)" stroke-width="1.0" stroke-linecap="round"/><path d="M50.1 101.3h0M50.1 99.0h0M55.0 109.1h0M65.2 102.5h0M86.4 79.4h0M83.7 93.7h0M115.7 81.6h0M66.8 134.8h0M115.4 92.7h0M99.2 119.3h0M115.1 103.5h0M72.9 121.2h0M69.1 87.2h0M60.8 129.7h0M56.6 116.6h0M130.4 107.4h0M121.8 103.7h0M86.4 101.0h0M99.7 114.4h0M120.5 102.0h0M56.0 94.2h0M106.6 118.0h0M89.3 121.3h0M95.7 129.9h0M91.8 120.3h0M106.3 117.1h0M100.3 125.3h0M129.3 104.8h0M54.6 100.2h0M97.9 111.8h0M58.0 88.6h0M112.5 109.3h0M92.8 96.0h0M66.0 89.9h0M73.0 117.5h0M119.2 83.9h0M63.1 82.7h0M115.4 83.6h0M106.9 131.4h0M75.0 87.6h0M86.4 91.3h0M93.5 82.5h0M131.5 101.8h0M60.5 118.7h0M79.2 119.4h0M129.5 131.2h0M115.2 133.7h0M114.7 118.5h0M113.7 91.9h0M96.5 120.1h0M50.8 99.3h0M114.9 103.3h0M85.5 110.7h0" stroke="rgb(115,16,3)" stroke-width="1.3" stroke-linecap="round"/><path d="M66.2 100.4h0M63.9 86.8h0M69.4 88.8h0M65.1 132.1h0M80.4 107.6h0M70.0 118.6h0M101.6 107.7h0M70.0 116.2h0M66.0 126.4h0M91.5 100.8h0M123.3 131.2h0M101.6 108.1h0M58.3 106.8h0M116.2 101.1h0M94.3 106.9h0M79.1 84.7h0M67.1 133.1h0M104.8 111.3h0M69.1 90.5h0M88.9 100.9h0M106.2 82.7h0M119.6 126.1h0M130.0 122.9h0M50.1 114.2h0M117.2 114.1h0M51.7 112.0h0M116.6 120.0h0M69.9 87.1h0M105.0 118.8h0M103.4 81.8h0M129.9 100.2h0M53.6 109.3h0M60.4 96.4h0M122.2 126.7h0M84.9 104.6h0M63.8 100.1h0M106.7 126.1h0M87.2 96.0h0M113.0 83.4h0M76.0 105.8h0M106.9 100.6h0M74.1 102.3h0M50.8 102.1h0M127.3 106.0h0M88.5 84.4h0M124.2 94.5h0M73.2 126.9h0M99.7 88.4h0M80.5 120.3h0M76.6 79.3h0M100.2 83.1h0M114.0 113.6h0M106.8 79.6h0M83.3 129.7h0" stroke="rgb(205,42,8)" stroke-width="1.3" stroke-linecap="round"/><path d="M128.4 91.6h0M101.7 134.5h0M85.7 113.8h0M66.4 129.2h0M75.0 88.9h0M97.3 85.8h0M65.4 116.8h0M65.9 88.5h0M52.9 93.5h0M95.2 94.1h0M110.7 80.9h0M98.5 114.4h0M113.1 108.2h0M79.3 115.2h0M106.3 106.2h0M98.0 129.3h0M95.3 88.0h0M61.4 113.7h0M70.0 89.4h0M100.3 119.4h0M124.5 87.6h0M98.5 85.0h0M105.5 98.7h0M109.3 112.0h0M103.1 131.5h0M102.6 95.4h0M54.1 122.2h0M93.8 126.5h0M62.1 111.3h0M95.6 124.0h0M105.8 115.9h0M88.4 92.6h0M55.3 124.9h0M81.7 120.1h0M108.0 92.3h0M54.1 98.7h0M78.1 93.9h0M90.1 122.4h0M124.1 81.1h0M54.2 127.5h0M70.2 97.6h0M65.0 134.6h0M81.4 95.0h0M91.8 108.0h0M78.3 92.0h0M115.6 131.7h0M75.0 124.6h0M94.2 126.6h0M76.3 86.6h0M130.3 127.0h0M105.8 98.7h0M93.0 115.6h0M95.2 130.3h0M72.3 83.5h0M57.8 133.9h0M69.8 112.7h0M50.2 101.7h0M56.3 99.6h0M54.3 133.6h0M75.7 119.3h0M111.4 97.5h0M130.8 110.4h0M119.9 90.0h0M98.8 97.8h0M71.3 116.0h0" stroke="rgb(145,24,4)" stroke-width="1.3" stroke-linecap="round"/><path d="M129.3 128.9h0M116.9 83.5h0" stroke="rgb(40,150,40)" stroke-width="1.3" stroke-linecap="round"/><path d="M69.6 132.8h0M69.1 133.5h0M69.5 133.8h0" stroke="rgb(200,45,15)" stroke-width="1.9" stroke-linecap="round"/></g>
<path d="M52.3 130.8V132.2H73.3V130.8" fill="none" stroke="#6f7a68" stroke-width="0.5"/>
<line x1="125.0" y1="133.4" x2="130.0" y2="133.4" stroke="#444" stroke-width="0.5"/>
<rect x="136.80" y="77.50" width="81.40" height="57.90" fill="#000"/>
<g fill="none"><path d="M175.5 115.4h0M187.1 134.0h0M150.4 104.4h0M199.1 106.0h0M182.0 80.4h0M186.1 83.8h0M171.3 123.9h0M185.0 111.4h0M168.7 133.0h0M142.4 86.6h0M151.5 125.0h0M208.4 83.0h0M150.1 83.0h0M171.6 80.4h0M214.8 113.9h0M189.4 105.4h0M185.8 127.8h0M186.3 102.7h0M203.6 113.7h0M158.9 105.3h0M151.3 116.7h0M177.1 93.3h0M170.9 108.9h0M192.0 106.3h0M177.2 102.1h0M164.8 79.8h0M202.7 100.3h0M163.9 81.7h0M175.6 129.2h0M151.8 94.7h0M205.1 132.2h0M153.7 114.8h0M207.9 100.2h0M168.8 88.1h0M200.1 117.9h0M165.5 89.7h0M206.0 94.3h0M196.3 93.7h0M167.0 90.6h0M196.2 108.4h0M152.3 115.4h0M145.3 123.5h0M139.0 84.1h0" stroke="rgb(115,16,3)" stroke-width="1.3" stroke-linecap="round"/><path d="M168.0 134.7h0M203.2 115.7h0M181.9 106.9h0M178.6 99.0h0M188.7 91.1h0M159.7 131.7h0M198.4 101.8h0M194.4 88.8h0M187.3 85.1h0M166.7 79.7h0M176.3 81.2h0M165.5 119.7h0M209.3 114.0h0M149.2 92.8h0M170.5 113.2h0M177.9 114.2h0M191.1 78.7h0M157.6 101.8h0M213.2 112.0h0M206.3 86.1h0M188.6 114.3h0M197.1 95.6h0M147.1 125.3h0M200.9 92.8h0M205.0 82.8h0M216.9 90.5h0M204.2 79.1h0M166.1 83.3h0M209.4 131.0h0M172.6 123.4h0M150.0 102.9h0M144.7 128.6h0M170.6 82.5h0M205.3 130.5h0M171.7 88.6h0M213.8 87.4h0M206.7 96.7h0M157.0 130.6h0M167.1 106.7h0M186.8 124.4h0M145.3 120.9h0M199.1 130.1h0M174.2 134.8h0M204.8 99.5h0M175.7 79.8h0M210.1 115.8h0M214.0 122.3h0M148.0 134.0h0M189.5 83.7h0M146.0 118.1h0M204.5 123.2h0M140.3 127.0h0M216.3 105.2h0M203.1 85.8h0M153.6 122.2h0M181.2 107.2h0M149.2 116.2h0M156.8 85.2h0M179.5 120.0h0M151.4 111.1h0M172.6 118.1h0M183.5 80.9h0M194.0 84.1h0M165.7 89.3h0M197.3 84.5h0M216.5 105.4h0" stroke="rgb(175,32,6)" stroke-width="1.0" stroke-linecap="round"/><path d="M192.8 112.2h0M215.9 98.9h0M213.4 84.4h0M146.5 91.4h0M175.6 132.6h0M174.7 109.2h0M151.7 123.2h0M188.6 99.9h0M174.3 122.7h0M150.4 118.7h0M148.7 85.0h0M142.5 97.4h0M168.8 104.5h0M192.8 107.6h0M173.7 108.2h0M162.0 83.3h0M181.0 126.2h0M189.9 125.0h0M211.1 91.6h0M190.4 105.3h0M180.2 100.2h0M205.3 116.6h0M172.2 100.3h0M189.6 86.2h0M156.0 119.6h0M149.2 133.6h0M196.3 86.0h0M178.4 123.1h0M158.5 119.0h0M164.5 79.2h0M196.7 90.9h0M212.9 122.0h0M162.9 87.8h0M139.0 130.8h0M180.4 108.8h0M206.5 118.3h0M142.5 120.8h0M186.6 107.7h0M183.5 94.0h0M143.7 92.7h0M210.3 98.7h0M177.6 102.1h0M198.6 78.2h0M156.5 122.5h0M149.0 110.9h0M177.9 94.0h0M138.0 83.6h0M199.2 87.3h0M142.7 117.4h0M197.4 86.7h0M151.7 112.5h0M217.1 116.1h0M210.5 124.2h0M202.7 130.0h0M206.4 104.4h0M157.9 109.5h0M167.8 107.1h0M196.4 131.6h0M166.6 126.3h0M157.9 83.6h0M212.2 130.4h0M138.5 120.1h0M172.0 86.7h0M172.4 82.2h0M184.2 87.0h0" stroke="rgb(115,16,3)" stroke-width="1.0" stroke-linecap="round"/><path d="M142.0 124.6h0M188.8 82.7h0M197.9 90.6h0M210.6 78.4h0M194.0 90.2h0M139.6 78.2h0M200.8 111.0h0M192.4 86.1h0M161.1 107.4h0M190.6 133.3h0M171.8 98.8h0M151.0 89.7h0M205.9 128.8h0M172.3 97.4h0M204.7 115.9h0M151.2 109.2h0M167.7 95.6h0M191.5 87.8h0M142.7 117.1h0M165.9 95.4h0M167.8 108.1h0M172.4 79.2h0M139.3 123.3h0M217.6 122.3h0M209.1 107.4h0M149.4 82.5h0M203.5 122.6h0M210.8 134.8h0M137.5 89.2h0M137.8 104.3h0M175.2 114.5h0M205.2 131.1h0M142.1 132.0h0M167.7 88.7h0M158.7 105.6h0M198.1 112.8h0M215.9 83.9h0M195.4 101.0h0M163.4 104.3h0M178.1 102.6h0M165.8 117.9h0M168.1 133.8h0M158.3 95.0h0M166.7 116.1h0M209.9 83.5h0M160.8 115.7h0M181.6 101.9h0M182.0 120.7h0M192.5 86.3h0M211.6 88.6h0M177.2 127.1h0M194.6 129.4h0M162.6 109.2h0M150.6 95.2h0M190.5 78.1h0M214.9 127.0h0M193.6 131.4h0M165.8 122.3h0M162.0 84.4h0M178.4 99.0h0M161.4 86.8h0M143.1 89.2h0M178.4 118.9h0M143.6 131.9h0M176.4 96.4h0M159.9 109.7h0M199.6 128.3h0M139.0 86.1h0" stroke="rgb(145,24,4)" stroke-width="1.0" stroke-linecap="round"/><path d="M192.1 123.4h0M180.7 128.2h0M139.6 124.8h0M155.2 102.3h0M140.3 93.7h0M209.2 87.2h0M171.1 91.7h0M180.3 122.9h0M184.0 82.1h0M155.4 109.0h0M216.2 122.0h0M181.4 132.8h0M204.8 85.4h0M139.8 117.1h0M140.7 96.7h0M206.9 87.3h0M158.1 101.5h0M200.4 85.2h0M146.0 113.1h0M189.6 98.7h0M165.9 80.3h0M161.3 127.6h0M153.5 101.4h0M157.4 100.4h0M191.3 116.3h0M210.9 79.4h0M175.6 78.2h0M208.5 121.5h0M158.7 81.4h0M198.0 130.2h0M202.5 94.0h0M173.7 113.7h0M180.1 130.2h0M198.7 113.6h0M151.6 124.4h0M197.3 121.7h0M194.9 93.7h0M192.3 121.7h0M203.3 98.5h0M164.6 106.9h0M182.3 78.7h0M213.0 96.3h0M162.0 113.9h0M158.3 98.8h0M154.9 91.8h0M164.7 78.2h0M187.5 109.9h0M217.0 131.5h0M173.8 126.6h0M203.7 95.7h0M153.0 108.8h0M214.3 121.6h0M144.7 92.9h0M187.0 88.3h0M199.3 132.3h0M180.0 121.7h0M206.5 121.8h0" stroke="rgb(85,10,2)" stroke-width="1.0" stroke-linecap="round"/><path d="M191.0 104.7h0M156.5 96.6h0M204.3 90.0h0M179.9 118.8h0M163.7 134.2h0M195.5 113.6h0M144.5 115.0h0M162.4 95.0h0M198.1 133.6h0M154.2 133.1h0M141.4 119.8h0M216.3 116.4h0M181.3 101.0h0M154.0 124.9h0M193.2 78.3h0M162.4 131.1h0M138.1 110.8h0M197.1 112.1h0M148.9 116.5h0M196.0 93.0h0M150.0 96.6h0M195.3 108.0h0M180.0 102.5h0M162.2 92.8h0M172.2 110.4h0M156.0 98.5h0M144.4 113.4h0M179.6 127.3h0M144.1 131.7h0M143.0 107.7h0M213.9 128.3h0M144.6 96.9h0M195.9 127.3h0M158.6 109.8h0M154.0 124.9h0M152.9 93.5h0M200.3 109.2h0M190.0 129.8h0" stroke="rgb(85,10,2)" stroke-width="1.3" stroke-linecap="round"/><path d="M166.0 98.7h0M139.2 96.3h0M182.3 113.5h0M168.6 127.7h0M179.3 81.0h0M216.1 130.1h0M139.0 86.8h0M174.4 97.2h0M201.6 100.2h0M213.9 134.1h0M164.8 128.6h0M208.8 131.5h0M156.5 107.9h0M179.4 122.2h0M183.1 117.9h0M153.9 132.3h0M197.0 134.5h0M162.8 80.9h0M139.0 99.0h0M152.2 113.7h0M200.7 92.6h0M206.1 107.3h0M158.6 94.5h0M179.0 91.1h0M207.4 123.9h0M138.9 104.1h0M138.1 110.0h0M175.5 87.0h0M177.7 123.5h0M152.1 111.2h0M162.1 84.1h0M178.7 125.0h0M152.2 130.8h0M155.1 103.2h0M194.8 90.3h0M171.5 115.9h0M191.8 131.6h0" stroke="rgb(145,24,4)" stroke-width="1.3" stroke-linecap="round"/><path d="M176.7 98.1h0M210.0 123.4h0M162.3 88.2h0M214.8 98.9h0M170.1 117.8h0M173.4 108.0h0M192.8 132.4h0M164.6 99.7h0M182.5 125.9h0M197.7 94.2h0M187.2 125.0h0M155.8 96.5h0M150.8 134.3h0M151.0 109.8h0M207.4 134.1h0M150.5 129.8h0M172.1 102.9h0M199.6 86.4h0M160.3 89.7h0M155.8 80.5h0M161.2 85.7h0M163.3 101.7h0M161.8 124.6h0M214.1 124.5h0M182.4 87.1h0M205.7 130.7h0M161.4 130.8h0M214.3 120.9h0M213.6 110.9h0M185.5 85.0h0M163.4 120.8h0M147.6 101.0h0M193.1 81.6h0M172.8 115.0h0M138.8 112.9h0M163.7 81.9h0M177.8 91.6h0M169.2 109.3h0" stroke="rgb(175,32,6)" stroke-width="1.3" stroke-linecap="round"/><path d="M205.2 83.3h0M162.6 102.5h0" stroke="rgb(40,150,40)" stroke-width="1.3" stroke-linecap="round"/><path d="M185.3 102.7h0M185.0 103.9h0M185.8 103.4h0M162.9 132.3h0M162.9 132.8h0M162.5 132.4h0M199.9 119.7h0M199.9 119.4h0M199.5 118.5h0M211.3 118.9h0M211.3 119.6h0M211.2 118.5h0M160.8 132.9h0M160.1 132.4h0M161.1 132.5h0M145.3 120.3h0M145.1 119.9h0M145.5 121.2h0M175.5 106.4h0M176.1 105.0h0M175.3 106.1h0M139.7 99.2h0M139.3 98.2h0M140.3 99.1h0M193.6 133.6h0M194.2 133.7h0M193.7 133.2h0M215.5 117.4h0M215.3 118.5h0M215.0 118.3h0" stroke="rgb(200,45,15)" stroke-width="1.9" stroke-linecap="round"/><path d="M170.1 81.3h0M168.7 79.5h0M169.1 81.6h0M170.1 79.1h0M168.8 81.7h0M168.6 80.3h0M168.8 80.7h0M169.6 80.7h0M169.2 79.0h0M150.5 83.6h0M149.3 84.5h0M148.8 83.2h0M150.2 84.2h0M151.3 84.4h0M150.7 83.6h0M149.9 84.4h0M149.2 83.0h0M149.3 83.4h0M170.1 125.2h0M169.1 127.0h0M170.6 127.4h0M169.8 126.0h0M169.5 126.7h0M169.3 126.8h0M170.4 126.7h0M170.9 127.0h0M169.8 126.7h0" stroke="rgb(190,38,12)" stroke-width="1.2" stroke-linecap="round"/><path d="M169.4 80.4h0M169.6 79.5h0M169.3 80.7h0M149.7 83.7h0M149.6 83.6h0M150.3 84.5h0M169.7 126.3h0M170.5 127.1h0M169.6 126.2h0" stroke="rgb(225,62,18)" stroke-width="1.1" stroke-linecap="round"/><path d="M199.6 86.3h0M199.4 85.0h0M200.8 85.6h0M199.2 84.8h0M200.2 86.6h0M200.0 85.5h0M200.6 85.3h0M200.5 86.3h0M193.4 100.8h0M193.4 101.5h0M193.7 100.7h0M193.2 101.8h0M193.1 101.9h0M192.3 101.1h0M192.4 102.1h0M192.3 101.0h0M200.6 98.5h0M199.1 97.4h0M199.9 97.7h0M198.8 98.7h0M200.0 97.7h0M199.2 98.6h0M199.9 98.7h0M199.6 97.7h0M157.8 113.2h0M156.2 113.0h0M157.4 114.4h0M156.2 113.0h0M157.3 112.7h0M156.3 113.6h0M157.0 111.7h0M157.3 114.2h0M140.3 111.5h0M140.2 111.4h0M141.6 111.7h0M141.0 111.9h0M141.6 110.8h0M141.1 110.3h0M141.7 112.1h0M141.3 111.3h0M166.2 115.4h0M164.7 114.6h0M165.9 114.9h0M165.4 114.8h0M165.5 113.4h0M165.8 113.8h0M165.1 114.0h0M165.7 114.5h0" stroke="rgb(190,38,12)" stroke-width="1.1" stroke-linecap="round"/><path d="M199.1 86.9h0M199.2 86.7h0M199.7 85.8h0M193.5 100.9h0M192.5 101.5h0M192.4 101.6h0M199.8 98.8h0M199.8 98.9h0M199.5 98.4h0M156.9 113.2h0M157.3 112.5h0M157.1 112.8h0M141.2 111.3h0M140.3 110.6h0M140.9 111.1h0M165.5 114.9h0M165.2 114.4h0M165.4 114.7h0" stroke="rgb(225,62,18)" stroke-width="1.0" stroke-linecap="round"/><path d="M180.2 105.7h0M181.0 106.5h0M178.3 108.0h0M179.5 105.7h0M178.2 105.8h0M180.6 106.0h0M180.5 106.6h0M179.9 104.9h0M178.6 108.0h0M190.2 104.9h0M190.8 105.5h0M189.6 105.4h0M190.9 106.6h0M191.8 107.2h0M191.3 107.8h0M190.0 107.1h0M191.3 105.9h0M190.7 104.9h0" stroke="rgb(190,38,12)" stroke-width="1.4" stroke-linecap="round"/><path d="M178.4 106.9h0M178.8 106.7h0M178.4 106.9h0M190.6 106.6h0M190.6 106.6h0M190.7 106.7h0" stroke="rgb(225,62,18)" stroke-width="1.2" stroke-linecap="round"/><path d="M210.3 119.5h0M209.4 119.3h0M211.0 119.2h0M210.2 118.4h0M210.1 118.9h0M210.4 118.7h0M209.8 119.9h0M209.4 119.9h0M170.7 116.5h0M171.0 117.3h0M171.8 117.0h0M171.6 116.9h0M170.7 115.6h0M170.1 117.0h0M170.4 117.2h0M172.2 117.3h0M165.1 95.5h0M164.5 96.3h0M165.0 96.7h0M164.0 95.9h0M164.6 95.6h0M164.3 95.6h0M164.6 95.4h0M164.1 96.1h0" stroke="rgb(190,38,12)" stroke-width="1.0" stroke-linecap="round"/><path d="M210.3 119.1h0M210.5 119.0h0M210.4 119.1h0M170.5 116.4h0M170.6 116.5h0M170.6 116.5h0M164.7 96.5h0M164.2 95.3h0M164.4 95.9h0" stroke="rgb(225,62,18)" stroke-width="0.9" stroke-linecap="round"/></g>
<path d="M140.8 130.8V132.2H161.8V130.8" fill="none" stroke="#6f7a68" stroke-width="0.5"/>
<line x1="211.2" y1="133.4" x2="216.2" y2="133.4" stroke="#444" stroke-width="0.5"/>
<rect x="222.90" y="77.50" width="79.30" height="57.90" fill="#000"/>
<g fill="none"><path d="M243.7 117.0h0M274.5 115.9h0M277.5 109.5h0M264.1 115.4h0M294.1 128.9h0M286.2 90.2h0M243.8 99.2h0M225.5 108.3h0M272.6 95.8h0M264.0 107.6h0M299.0 92.5h0M228.1 123.4h0M280.1 79.6h0M259.8 80.0h0M230.0 121.5h0M283.2 126.8h0M282.6 92.7h0M280.0 127.4h0M226.8 131.3h0M231.1 131.9h0M235.8 110.9h0" stroke="rgb(115,16,3)" stroke-width="1.3" stroke-linecap="round"/><path d="M233.6 108.2h0M301.1 125.5h0M257.9 119.5h0M273.4 87.1h0M292.8 123.7h0M251.5 119.4h0M233.3 95.7h0M269.4 98.2h0M256.9 114.5h0M230.4 131.0h0M301.7 124.0h0M258.6 78.2h0M229.7 90.3h0M230.6 122.1h0M279.0 91.3h0M225.5 133.3h0M275.2 130.4h0M228.9 128.7h0M234.2 101.7h0M238.3 107.3h0M229.3 110.3h0M289.0 132.9h0M261.0 112.3h0M280.7 126.7h0M287.9 124.6h0M229.4 102.2h0M264.2 86.1h0M241.2 94.1h0M276.6 129.8h0M235.1 114.1h0M224.1 107.5h0" stroke="rgb(145,24,4)" stroke-width="1.0" stroke-linecap="round"/><path d="M225.7 85.2h0M275.9 128.6h0M253.9 118.9h0M280.0 90.0h0M299.4 125.0h0M254.5 82.9h0M272.0 125.8h0M280.3 84.1h0M293.2 129.6h0M270.1 81.2h0M294.4 93.9h0M242.5 86.6h0M229.8 108.4h0M235.0 123.2h0M270.8 129.9h0M288.5 81.1h0M283.0 101.2h0M281.0 116.0h0M223.7 84.1h0M254.0 92.3h0M277.4 107.8h0" stroke="rgb(85,10,2)" stroke-width="1.3" stroke-linecap="round"/><path d="M288.1 120.4h0M250.5 111.8h0M266.5 110.2h0M267.6 117.8h0M262.7 129.8h0M271.4 131.6h0M265.2 95.0h0M245.0 90.9h0M231.3 130.0h0M288.5 116.8h0M241.8 116.2h0M225.0 121.8h0M242.3 103.1h0M259.9 118.8h0M260.5 95.4h0M248.0 92.5h0M282.5 127.2h0M282.3 96.9h0M245.2 114.1h0" stroke="rgb(145,24,4)" stroke-width="1.3" stroke-linecap="round"/><path d="M251.3 91.3h0M243.9 93.9h0M233.7 102.5h0M241.0 106.3h0M240.9 89.8h0M256.0 134.5h0M240.2 120.4h0M246.7 113.2h0M282.1 115.3h0M275.0 118.3h0M261.9 109.4h0M257.9 108.5h0M262.9 102.4h0M283.8 78.4h0M223.5 102.1h0M227.3 86.7h0M240.6 98.3h0M270.9 89.7h0M255.5 116.3h0M224.0 125.0h0M234.5 114.6h0M232.1 84.5h0M277.5 116.3h0" stroke="rgb(175,32,6)" stroke-width="1.3" stroke-linecap="round"/><path d="M239.3 107.7h0M262.3 133.2h0M256.7 124.9h0M274.6 95.4h0M250.6 83.7h0M264.1 130.4h0M295.3 80.3h0M255.4 86.8h0M242.5 108.2h0M284.1 127.9h0M286.4 107.2h0M300.9 125.8h0M242.6 94.0h0M231.8 120.2h0M286.0 100.7h0M288.7 111.8h0M293.8 80.4h0M257.2 110.3h0M240.8 115.7h0M239.4 80.1h0M254.9 127.8h0M230.1 133.1h0M237.3 81.8h0M280.7 99.7h0M271.8 92.0h0M266.7 132.8h0M253.8 94.6h0M287.3 106.3h0M264.7 80.2h0M298.9 104.6h0M272.4 98.2h0M267.7 127.1h0M268.3 104.4h0M299.0 96.8h0M264.5 84.8h0M270.6 127.7h0M263.0 94.8h0M292.2 129.9h0M298.6 116.0h0M249.1 107.5h0M240.5 87.6h0" stroke="rgb(175,32,6)" stroke-width="1.0" stroke-linecap="round"/><path d="M238.5 122.8h0M290.1 80.0h0M249.5 94.5h0M235.0 81.0h0M248.7 128.8h0M301.4 104.8h0M238.6 99.4h0M225.7 129.5h0M269.7 92.6h0M278.1 80.8h0M227.0 128.9h0M256.4 85.9h0M251.3 96.7h0M254.7 82.6h0M281.6 128.7h0M254.7 113.0h0M245.1 123.6h0M298.7 115.9h0M276.4 134.7h0M247.0 82.4h0M224.2 131.8h0M242.9 127.3h0M225.2 95.9h0M289.3 113.9h0M274.3 127.2h0M231.7 89.7h0M276.5 133.2h0M281.8 100.0h0M290.9 98.8h0M255.9 87.8h0M280.7 103.2h0M295.7 109.4h0M266.7 79.1h0M298.3 103.3h0M266.1 79.5h0M229.4 88.0h0M243.0 131.0h0M243.3 101.8h0M297.6 107.2h0M269.2 118.4h0M227.0 90.5h0" stroke="rgb(115,16,3)" stroke-width="1.0" stroke-linecap="round"/><path d="M236.5 102.4h0M240.5 95.3h0M226.8 108.4h0M233.2 78.3h0M292.7 106.3h0M295.9 92.6h0M264.5 134.5h0M264.7 94.0h0M294.9 116.9h0M283.4 131.0h0M300.6 103.5h0M296.5 94.8h0M290.2 86.8h0M289.1 82.8h0M272.3 83.7h0M233.2 118.5h0M283.6 126.7h0M297.3 123.4h0M228.7 122.4h0M253.8 117.7h0M292.5 125.8h0M231.3 80.0h0M281.8 105.7h0M297.8 86.8h0M260.4 116.9h0M246.6 117.3h0M265.0 129.8h0M298.2 119.0h0M285.5 126.2h0M293.5 110.4h0M250.4 113.0h0M276.2 80.6h0" stroke="rgb(85,10,2)" stroke-width="1.0" stroke-linecap="round"/><path d="M281.7 94.5h0M264.6 90.5h0" stroke="rgb(40,150,40)" stroke-width="1.3" stroke-linecap="round"/><path d="M262.8 124.7h0M261.4 123.4h0M261.5 123.9h0M259.4 91.3h0M259.1 91.1h0M258.3 91.1h0M253.2 98.4h0M252.6 97.6h0M254.1 98.5h0M289.2 101.3h0M290.8 100.4h0M289.2 101.4h0" stroke="rgb(200,45,15)" stroke-width="1.9" stroke-linecap="round"/><path d="M236.8 84.6h0M237.0 82.1h0M237.7 82.1h0M236.6 82.0h0M239.1 84.1h0M236.4 85.2h0M237.6 83.2h0M238.0 81.9h0M236.6 84.6h0M238.6 85.2h0M236.9 84.2h0M268.7 103.2h0M267.5 101.8h0M266.8 103.6h0M267.4 103.3h0M269.0 103.7h0M268.0 105.3h0M269.2 103.4h0M267.0 102.4h0M267.1 104.7h0M267.1 103.6h0M269.8 102.8h0M243.9 112.7h0M243.2 113.0h0M243.8 111.3h0M244.5 111.4h0M245.3 114.7h0M244.1 111.0h0M244.6 112.7h0M243.4 112.8h0M242.4 112.5h0M244.5 112.5h0M244.0 112.3h0" stroke="rgb(205,50,14)" stroke-width="1.8" stroke-linecap="round"/><path d="M238.0 84.0h0M237.9 84.7h0M238.0 83.6h0M267.8 103.5h0M268.2 102.9h0M268.4 102.5h0M243.9 112.2h0M243.9 112.2h0M243.9 112.3h0" stroke="rgb(240,95,20)" stroke-width="1.6" stroke-linecap="round"/><path d="M237.6 84.3h0M268.4 103.0h0M244.6 112.4h0" stroke="rgb(255,160,35)" stroke-width="1.1" stroke-linecap="round"/><path d="M257.4 80.6h0M257.6 79.4h0M258.9 78.9h0M257.8 79.8h0M258.6 79.3h0M259.0 79.6h0M257.9 79.7h0M258.4 78.5h0M256.8 79.8h0M230.0 98.5h0M231.0 100.3h0M231.5 98.5h0M231.2 100.3h0M231.4 97.9h0M230.2 98.2h0M230.6 99.5h0M228.8 98.2h0M231.3 99.8h0M291.7 112.3h0M291.6 110.1h0M292.1 112.0h0M291.1 111.9h0M291.1 110.7h0M291.4 111.3h0M290.5 110.6h0M292.4 111.0h0M290.3 112.2h0M254.2 119.1h0M254.2 119.8h0M253.2 118.5h0M253.8 117.6h0M255.1 119.2h0M253.6 119.0h0M254.4 117.8h0M255.3 118.3h0M253.7 118.6h0" stroke="rgb(205,50,14)" stroke-width="1.4" stroke-linecap="round"/><path d="M257.2 79.9h0M257.4 79.7h0M258.1 78.9h0M231.1 99.1h0M231.1 99.1h0M230.1 98.9h0M291.2 111.6h0M291.0 111.8h0M291.2 111.6h0M253.3 120.0h0M253.4 119.8h0M254.0 119.0h0" stroke="rgb(240,95,20)" stroke-width="1.3" stroke-linecap="round"/><path d="M257.4 78.9h0M281.2 86.5h0M230.4 99.0h0M291.6 112.0h0M253.8 119.0h0" stroke="rgb(255,160,35)" stroke-width="0.9" stroke-linecap="round"/><path d="M282.0 87.0h0M282.8 85.9h0M282.5 85.5h0M280.9 87.7h0M280.9 86.2h0M282.5 87.2h0M283.1 86.2h0M279.6 86.9h0M281.7 85.2h0M283.0 85.6h0" stroke="rgb(205,50,14)" stroke-width="1.5" stroke-linecap="round"/><path d="M282.3 86.3h0M281.7 86.7h0M281.3 87.0h0M289.9 107.3h0M289.8 107.2h0M291.1 108.3h0M279.3 118.3h0M278.9 119.5h0M279.5 117.7h0M254.6 126.7h0M254.6 126.7h0M254.8 126.7h0" stroke="rgb(240,95,20)" stroke-width="1.4" stroke-linecap="round"/><path d="M289.7 107.7h0M290.5 109.3h0M289.7 108.0h0M291.6 108.8h0M290.1 107.6h0M292.3 108.0h0M290.6 109.0h0M289.6 107.2h0M289.8 105.7h0M290.1 107.9h0M279.9 119.3h0M279.2 116.9h0M279.5 120.6h0M278.9 117.2h0M280.9 117.4h0M278.8 120.3h0M279.7 118.1h0M277.6 119.6h0M278.5 118.0h0M278.6 117.1h0M253.0 126.3h0M254.8 125.9h0M254.4 127.8h0M253.9 125.8h0M253.1 125.5h0M253.6 126.0h0M253.4 128.0h0M254.1 127.0h0M254.4 127.8h0M253.2 126.9h0" stroke="rgb(205,50,14)" stroke-width="1.6" stroke-linecap="round"/><path d="M290.1 107.6h0M279.3 118.2h0M254.7 126.7h0" stroke="rgb(255,160,35)" stroke-width="1.0" stroke-linecap="round"/><path d="M246.1 126.3h0M246.5 127.2h0M244.8 128.2h0M245.4 126.7h0M245.6 127.3h0M246.0 126.2h0M244.8 128.3h0M246.3 127.6h0M245.7 126.3h0" stroke="rgb(205,50,14)" stroke-width="1.3" stroke-linecap="round"/><path d="M246.4 126.8h0M245.9 127.3h0M245.4 127.7h0" stroke="rgb(240,95,20)" stroke-width="1.1" stroke-linecap="round"/><path d="M245.7 126.9h0" stroke="rgb(255,160,35)" stroke-width="0.8" stroke-linecap="round"/><path d="M267.4 123.5h0M267.1 123.2h0M266.2 124.3h0M268.2 123.4h0M267.3 123.7h0M267.5 124.2h0M266.6 124.4h0M268.3 122.8h0M295.4 129.5h0M295.4 129.4h0M293.0 129.6h0M294.7 129.7h0M295.6 129.2h0M293.8 128.5h0M293.6 129.4h0M293.7 129.3h0" stroke="rgb(205,50,14)" stroke-width="1.2" stroke-linecap="round"/><path d="M266.8 123.9h0M267.8 123.7h0M267.4 123.8h0M294.8 129.0h0M294.3 129.0h0M294.8 129.0h0" stroke="rgb(240,95,20)" stroke-width="1.0" stroke-linecap="round"/><path d="M267.5 123.8h0M294.0 129.1h0" stroke="rgb(255,160,35)" stroke-width="0.7" stroke-linecap="round"/></g>
<path d="M226.9 130.8V132.2H247.9V130.8" fill="none" stroke="#6f7a68" stroke-width="0.5"/>
<line x1="295.2" y1="133.4" x2="300.2" y2="133.4" stroke="#444" stroke-width="0.5"/>
<rect x="48.30" y="139.80" width="83.70" height="58.70" fill="#000"/>
<g fill="none"><path d="M62.4 180.1h0M60.3 177.8h0M102.7 176.5h0M90.6 194.9h0M109.7 182.5h0M67.6 182.7h0M106.1 157.6h0M115.5 179.9h0M76.1 151.1h0M95.1 187.7h0M131.2 145.1h0M124.2 145.2h0M96.3 161.3h0M105.5 158.5h0M106.6 197.8h0M125.8 176.6h0M84.1 185.4h0M56.0 176.0h0M51.5 168.3h0M114.8 181.1h0M119.9 172.1h0M101.4 150.3h0M50.2 144.8h0M86.2 157.9h0M59.5 193.1h0M118.1 157.6h0M49.1 182.1h0M98.6 180.0h0M129.6 159.0h0M107.7 164.6h0M111.3 159.2h0M73.0 172.0h0M63.7 164.2h0M111.3 194.7h0M125.3 186.9h0M94.2 148.0h0M109.9 170.4h0M96.0 151.3h0M71.2 156.0h0M79.7 182.9h0M75.4 148.4h0M82.1 184.5h0M92.7 156.6h0M70.3 189.6h0M64.8 142.7h0M55.6 176.6h0M66.2 152.2h0M128.4 175.3h0M62.0 166.2h0M50.3 185.3h0M105.6 179.7h0M124.3 147.6h0M118.0 195.7h0M123.0 156.4h0M79.0 188.1h0M109.7 168.4h0M59.1 176.4h0" stroke="rgb(175,32,6)" stroke-width="1.3" stroke-linecap="round"/><path d="M118.5 197.4h0M130.6 144.4h0M121.7 175.0h0M123.4 167.8h0M80.9 190.2h0M63.3 181.4h0M56.3 150.4h0M50.4 169.2h0M121.8 154.4h0M125.3 191.3h0M61.4 169.0h0M122.4 144.4h0M69.5 151.8h0M83.8 159.0h0M90.2 164.1h0M70.5 187.9h0M107.1 168.5h0M93.4 145.2h0M95.8 154.4h0M92.5 162.0h0M52.8 177.0h0M114.0 168.5h0M122.3 166.8h0M118.9 172.8h0M69.6 195.7h0M63.0 173.8h0M115.9 193.1h0M82.8 177.5h0M70.7 167.6h0M117.3 169.8h0M84.6 177.1h0M67.0 174.8h0M61.8 179.1h0M77.0 147.2h0M64.3 175.1h0M78.0 149.0h0M106.3 193.6h0M101.5 166.8h0M110.9 147.4h0M86.5 193.7h0M51.5 181.6h0M86.3 176.3h0M49.3 186.6h0M74.2 163.6h0M101.4 168.8h0M63.4 143.7h0M117.3 143.4h0M60.8 176.3h0M129.4 195.6h0M83.7 166.3h0M81.9 143.4h0M125.8 169.5h0M71.6 161.4h0M55.1 147.2h0M84.1 149.2h0M89.8 183.9h0M124.1 172.5h0M87.0 161.4h0M88.7 178.2h0M67.8 196.0h0M112.3 169.4h0M72.0 156.6h0M99.5 196.6h0M92.8 152.1h0M116.0 180.3h0M108.2 141.9h0M72.8 193.6h0M129.0 160.6h0M82.6 161.1h0M79.1 174.9h0M72.9 153.8h0M101.9 176.9h0M55.8 185.7h0M115.2 162.8h0M100.8 150.1h0M82.2 182.8h0M55.5 176.1h0M68.9 167.3h0M97.8 190.2h0M130.4 184.4h0M88.8 186.8h0M100.2 154.9h0M118.0 179.3h0M58.0 174.7h0M92.1 155.9h0M75.2 154.0h0M123.0 164.4h0M120.6 186.3h0M70.1 141.2h0M97.5 191.3h0M122.9 190.4h0M79.0 186.3h0M108.1 143.1h0M79.2 177.3h0M109.0 174.8h0" stroke="rgb(205,42,8)" stroke-width="1.0" stroke-linecap="round"/><path d="M64.0 170.7h0M106.2 177.7h0M61.9 181.6h0M96.1 158.7h0M107.6 190.7h0M87.7 169.9h0M67.6 193.1h0M80.7 175.8h0M131.0 192.9h0M98.3 180.3h0M79.8 154.7h0M125.6 151.8h0M71.1 179.4h0M72.6 183.6h0M114.5 175.6h0M83.0 162.9h0M123.6 194.1h0M120.9 197.2h0M56.0 175.2h0M116.3 184.2h0M124.5 190.9h0M74.9 181.0h0M96.8 155.9h0M123.3 151.7h0M55.4 185.9h0M116.2 170.8h0M68.4 140.9h0M90.0 154.4h0M50.5 145.3h0M87.7 143.8h0M90.5 167.2h0M83.0 196.9h0M79.8 175.2h0M85.4 172.7h0M89.9 173.4h0M120.9 154.5h0M97.1 170.6h0M90.4 187.6h0M82.9 195.9h0M102.2 149.4h0M114.9 182.9h0M124.6 181.2h0M94.5 195.2h0M94.8 181.2h0M117.7 197.9h0M102.2 155.9h0M86.4 173.1h0M105.9 165.5h0M58.7 178.4h0M76.7 182.8h0M54.6 163.4h0M96.0 167.4h0M96.5 176.8h0M56.1 180.0h0M95.0 192.5h0M129.9 150.8h0M76.8 147.6h0M131.0 155.1h0M85.1 193.3h0" stroke="rgb(85,10,2)" stroke-width="1.3" stroke-linecap="round"/><path d="M79.5 174.1h0M61.3 178.7h0M50.0 160.3h0M71.6 184.6h0M127.7 141.7h0M111.0 187.2h0M67.4 143.1h0M127.5 158.9h0M84.9 175.9h0M104.0 176.2h0M52.1 160.6h0M93.4 187.3h0M108.3 174.1h0M50.4 177.4h0M100.8 147.4h0M113.0 181.8h0M90.4 149.7h0M123.1 150.8h0M90.1 180.8h0M65.7 149.6h0M63.1 173.4h0M118.8 176.2h0M118.0 178.3h0M65.6 150.7h0M87.2 142.7h0M82.2 195.9h0M81.9 146.4h0M64.6 186.3h0M110.2 156.0h0M69.0 178.7h0M129.8 194.5h0M61.6 196.0h0M123.1 155.4h0M105.5 182.1h0M60.7 143.8h0M90.9 155.3h0M64.9 175.9h0M96.8 162.4h0M61.1 195.0h0M92.9 174.4h0M52.7 166.1h0M72.4 150.7h0M112.2 175.7h0M59.2 189.8h0M50.5 155.7h0M125.0 188.2h0M108.3 174.8h0M54.2 166.5h0M70.6 174.4h0M114.6 169.2h0M58.4 150.8h0M127.9 194.1h0M78.6 169.4h0M71.5 144.4h0M117.2 149.4h0M86.0 147.1h0M122.7 153.4h0M81.1 149.2h0M81.1 196.5h0M87.1 195.2h0M130.3 163.7h0M86.5 156.2h0M127.7 148.5h0M111.9 189.3h0M51.4 147.5h0M128.0 145.1h0M77.9 170.9h0M113.4 179.9h0M103.9 151.9h0M51.6 184.8h0M130.7 154.8h0M104.8 185.1h0M101.0 176.1h0M85.1 152.2h0M122.1 158.7h0M88.9 166.2h0M94.3 145.5h0M114.1 191.8h0M94.8 156.6h0M80.0 197.4h0M66.2 144.8h0M104.6 185.9h0M97.0 162.7h0M102.7 146.7h0M53.4 173.6h0M77.7 192.5h0" stroke="rgb(115,16,3)" stroke-width="1.0" stroke-linecap="round"/><path d="M125.0 180.3h0M99.7 142.3h0M86.3 172.2h0M82.7 161.4h0M62.8 193.6h0M126.2 154.5h0M53.1 155.2h0M119.2 174.0h0M56.6 145.7h0M59.3 171.4h0M122.2 176.1h0M71.6 174.3h0M86.5 153.9h0M106.6 179.7h0M108.0 149.4h0M122.8 161.7h0M92.6 143.1h0M53.7 142.4h0M50.5 161.6h0M123.9 196.3h0M63.1 155.6h0M69.7 165.1h0M73.3 188.3h0M90.1 166.9h0M60.6 163.5h0M111.2 149.9h0M108.3 165.6h0M56.6 182.0h0M129.0 185.4h0M75.2 146.2h0M54.6 147.1h0M75.2 189.0h0M105.7 188.4h0M114.7 164.7h0M127.2 149.8h0M120.3 147.8h0M92.5 177.0h0M49.5 175.3h0M105.1 149.5h0M82.4 142.3h0M56.7 150.5h0M67.2 143.3h0M49.5 197.4h0M60.7 196.6h0M84.8 184.5h0M55.9 186.4h0M130.9 193.6h0M127.1 193.2h0M50.4 189.7h0M61.3 193.7h0M128.7 166.2h0M109.9 162.8h0M77.2 165.0h0M106.6 189.9h0M54.1 191.0h0M125.3 161.1h0M85.8 162.3h0M104.2 193.3h0M94.7 146.2h0M90.0 156.9h0M128.3 158.2h0M100.0 190.8h0M79.1 159.8h0M93.1 174.7h0M76.8 185.5h0M70.4 190.0h0M131.0 147.6h0M74.2 193.6h0M71.2 152.0h0M117.9 141.1h0M121.2 178.4h0M57.5 161.0h0M100.6 142.8h0M60.8 146.6h0M53.5 144.3h0M122.3 193.9h0M78.3 181.0h0M117.3 175.8h0M80.9 195.3h0M104.5 188.0h0M54.8 193.4h0M59.0 166.7h0M110.4 154.6h0M126.5 163.5h0M116.6 152.2h0M126.7 144.6h0M119.9 143.8h0M112.4 146.6h0M49.5 160.3h0M55.7 152.8h0M83.6 173.1h0M115.7 149.4h0M88.6 159.6h0M104.2 142.3h0M66.9 159.4h0M90.2 181.9h0M65.9 160.9h0M63.8 150.1h0M122.2 197.6h0M102.4 183.9h0M48.9 162.4h0M89.1 154.6h0M121.4 194.5h0" stroke="rgb(175,32,6)" stroke-width="1.0" stroke-linecap="round"/><path d="M61.6 187.5h0M75.1 168.3h0M77.5 174.8h0M89.3 173.4h0M54.2 178.3h0M126.8 183.1h0M79.6 173.9h0M61.4 149.2h0M79.2 151.5h0M67.1 146.7h0M111.1 148.9h0M79.7 190.2h0M112.5 170.3h0M106.1 169.4h0M91.9 181.9h0M73.5 184.4h0M95.0 184.7h0M70.4 180.3h0M108.4 179.2h0M94.2 186.2h0M96.4 148.8h0M70.5 158.6h0M59.7 174.8h0M65.5 161.4h0M61.0 190.7h0M89.3 175.5h0M77.7 181.4h0M115.9 160.4h0M100.1 155.8h0M124.7 196.8h0M95.5 189.8h0M104.0 168.6h0M104.0 181.9h0M87.4 146.1h0M87.5 156.7h0M114.8 186.0h0M103.3 170.7h0M77.2 160.1h0M106.0 192.2h0M60.2 197.2h0M116.5 195.8h0M112.5 162.3h0M53.0 175.3h0M100.1 148.1h0M110.3 183.1h0M83.9 150.7h0M81.3 158.8h0M58.0 197.2h0M119.0 186.6h0M115.7 165.1h0M129.9 195.1h0M123.4 156.1h0M95.2 176.7h0M61.3 145.0h0M89.0 189.0h0M102.0 166.7h0M75.2 188.3h0M93.4 180.7h0M130.1 157.9h0M102.9 194.3h0M101.4 155.0h0M105.1 152.6h0M104.5 186.8h0M84.5 141.4h0M119.6 141.3h0M128.7 160.8h0M126.4 151.3h0M110.5 170.0h0M75.1 197.5h0M62.3 196.6h0M72.8 164.3h0M107.6 159.4h0M118.9 140.4h0M102.0 157.4h0M70.6 140.8h0M65.8 196.9h0M79.6 186.3h0M52.4 167.9h0M117.5 143.5h0M85.2 177.2h0M76.6 185.4h0" stroke="rgb(85,10,2)" stroke-width="1.0" stroke-linecap="round"/><path d="M55.0 151.7h0M117.2 151.9h0M82.5 197.4h0M65.5 183.2h0M108.9 197.5h0M113.3 176.5h0M85.3 166.2h0M61.9 146.3h0M105.1 177.7h0M102.3 149.6h0M125.5 170.5h0M73.3 149.6h0M60.6 142.2h0M57.4 175.9h0M51.5 192.3h0M103.0 141.5h0M51.6 169.1h0M108.8 143.0h0M62.9 140.9h0M118.9 168.1h0M100.8 170.9h0M98.3 174.8h0M58.0 163.5h0M70.3 142.6h0M106.3 168.2h0M79.7 179.4h0M59.5 151.7h0M54.4 174.4h0M126.8 192.8h0M88.0 172.6h0M71.1 167.6h0M65.4 162.8h0M78.4 167.8h0M97.9 146.7h0M84.4 170.7h0M103.2 154.1h0M114.9 171.3h0M89.7 171.6h0M70.7 172.7h0M71.3 196.0h0M98.5 152.3h0M126.5 183.9h0M109.3 165.7h0M66.7 178.3h0M67.0 170.6h0M115.2 147.4h0M76.8 167.4h0M125.8 151.3h0M107.6 149.1h0M60.1 182.0h0M80.9 192.5h0M85.1 193.3h0M62.9 149.6h0M117.2 162.3h0M105.9 162.5h0M127.9 170.6h0M101.3 152.0h0M74.0 195.8h0M113.6 141.3h0M113.5 196.9h0M92.7 185.3h0M123.6 186.3h0M67.9 170.9h0M93.5 181.3h0M97.5 185.9h0M111.1 187.0h0M67.0 171.9h0M78.8 192.8h0M68.2 152.9h0M79.4 183.9h0" stroke="rgb(205,42,8)" stroke-width="1.3" stroke-linecap="round"/><path d="M89.5 172.1h0M79.8 179.7h0M69.4 163.1h0M51.1 152.5h0M72.9 176.3h0M88.5 168.7h0M62.2 152.0h0M54.8 165.4h0M115.5 192.6h0M130.2 183.0h0M101.8 184.8h0M88.3 142.6h0M104.4 141.9h0M65.9 169.0h0M64.2 149.1h0M97.2 168.4h0M120.6 159.7h0M76.0 191.7h0M51.1 173.6h0M120.9 191.9h0M67.6 187.7h0M86.9 180.3h0M79.2 169.8h0M53.5 179.5h0M120.2 146.3h0M126.2 162.2h0M80.2 160.1h0M67.6 155.3h0M67.3 193.5h0M120.9 142.2h0M73.8 146.9h0M50.2 191.9h0M63.7 156.7h0M121.1 186.2h0M65.7 192.4h0M61.2 157.5h0M72.7 175.0h0M82.3 165.2h0M113.3 147.0h0M94.5 190.3h0M58.7 193.3h0M74.0 190.6h0M90.0 153.4h0M67.2 145.4h0M51.0 152.0h0M61.5 152.4h0M121.2 163.2h0M128.0 187.8h0M93.1 152.1h0M58.9 190.3h0M64.5 167.9h0M79.0 188.6h0M125.4 146.5h0M58.3 177.4h0M124.0 144.4h0M86.8 143.1h0M78.6 187.2h0M61.3 142.9h0M97.1 186.8h0M128.0 174.8h0M106.0 173.1h0M106.4 171.8h0M65.2 174.5h0M67.7 172.2h0M120.5 160.3h0M88.4 154.4h0M118.4 173.8h0M69.0 157.0h0M50.1 184.3h0M115.3 166.2h0M68.2 148.7h0M64.8 161.8h0M89.8 143.6h0" stroke="rgb(115,16,3)" stroke-width="1.3" stroke-linecap="round"/><path d="M63.7 150.1h0M115.4 185.0h0M130.1 183.3h0M113.8 144.4h0M74.7 142.7h0M130.7 149.9h0M123.2 169.6h0M61.0 196.4h0M56.9 188.1h0M126.3 186.1h0M124.1 154.1h0M51.7 187.8h0M110.5 154.7h0M106.6 187.2h0M72.7 161.7h0M81.0 186.5h0M100.7 167.6h0M119.1 195.9h0M71.9 140.6h0M118.8 148.1h0M49.1 159.9h0M56.9 193.9h0M75.8 182.3h0M110.5 182.4h0M83.8 171.2h0M107.6 196.2h0M72.2 182.6h0M63.9 195.7h0M102.1 188.1h0M74.7 188.8h0M63.4 183.6h0M50.3 177.7h0M104.3 156.5h0M65.9 187.6h0M80.6 158.5h0M96.0 187.5h0M98.4 142.4h0M66.5 153.6h0M117.1 166.1h0M49.5 186.1h0M106.8 186.7h0M65.6 159.6h0M131.1 144.4h0M108.9 167.3h0M57.4 149.5h0M113.3 171.6h0M49.7 154.3h0M131.1 180.8h0M88.4 181.1h0M75.6 179.6h0M65.6 151.0h0M111.8 189.4h0M75.0 140.8h0M125.1 145.5h0M55.6 185.9h0M67.3 186.6h0M112.0 161.4h0M123.7 159.6h0M52.2 186.3h0M79.5 166.4h0M73.8 160.2h0M58.8 166.4h0M83.1 140.6h0M71.7 151.8h0M107.0 188.1h0M82.2 185.5h0M57.2 141.4h0M97.5 183.4h0M49.7 166.8h0M98.4 164.7h0M101.4 153.2h0M65.7 180.2h0M125.7 150.4h0M65.2 142.3h0M87.3 145.3h0M117.2 158.5h0M111.5 165.7h0M125.6 163.5h0M92.7 180.3h0M76.2 146.4h0" stroke="rgb(145,24,4)" stroke-width="1.0" stroke-linecap="round"/><path d="M90.8 182.7h0M54.1 187.3h0M51.6 187.1h0M100.1 167.5h0M94.7 185.1h0M79.7 177.0h0M112.9 192.4h0M89.3 149.8h0M88.7 142.5h0M121.5 154.5h0M103.0 165.1h0M97.0 178.0h0M87.1 192.7h0M99.8 140.8h0M125.5 148.5h0M93.0 183.7h0M52.1 196.0h0M105.4 141.8h0M92.0 185.9h0M77.5 167.7h0M54.6 196.2h0M84.1 155.6h0M54.3 159.6h0M85.5 197.0h0M130.9 172.9h0M111.8 190.8h0M50.7 190.4h0M59.1 172.9h0M54.2 140.5h0M115.4 151.6h0M124.4 182.7h0M128.3 174.3h0M110.0 177.3h0M126.8 164.8h0M88.6 195.8h0M98.2 153.3h0M101.4 198.0h0M127.2 160.7h0M51.0 182.4h0M93.8 141.2h0M123.6 162.5h0M71.8 155.2h0M111.9 193.9h0M126.5 170.9h0M89.6 150.7h0M79.5 178.5h0M89.9 159.4h0M91.6 178.5h0M97.6 171.2h0M114.1 181.3h0M128.9 172.2h0M67.2 150.7h0M112.6 185.3h0M90.9 160.4h0M51.9 177.3h0M122.2 184.3h0M119.4 145.5h0M66.2 146.1h0M73.2 189.5h0M108.9 171.4h0M66.5 183.2h0M121.6 163.5h0M94.1 188.3h0" stroke="rgb(145,24,4)" stroke-width="1.3" stroke-linecap="round"/><path d="M78.1 143.2h0M63.3 186.0h0M105.1 179.8h0" stroke="rgb(40,150,40)" stroke-width="1.3" stroke-linecap="round"/><path d="M83.6 176.1h0M85.3 176.1h0M84.6 176.3h0M112.5 164.4h0M113.5 165.0h0M112.3 164.3h0" stroke="rgb(200,45,15)" stroke-width="1.9" stroke-linecap="round"/></g>
<path d="M52.3 193.9V195.3H73.3V193.9" fill="none" stroke="#6f7a68" stroke-width="0.5"/>
<line x1="125.0" y1="196.5" x2="130.0" y2="196.5" stroke="#444" stroke-width="0.5"/>
<rect x="136.80" y="139.80" width="81.40" height="58.70" fill="#000"/>
<g fill="none"><path d="M214.3 148.4h0M163.5 159.6h0M171.0 154.8h0M151.1 171.8h0M158.1 147.2h0M140.0 152.0h0M141.3 180.0h0M162.9 142.0h0M156.1 171.1h0M158.5 155.3h0M166.4 195.3h0M142.7 150.6h0M141.5 153.8h0M211.7 157.5h0M214.4 161.9h0M197.7 172.4h0M217.3 187.6h0M209.3 165.3h0M139.0 193.4h0M180.5 174.1h0M185.7 154.2h0M150.6 197.8h0M144.1 169.2h0M213.9 184.5h0M146.1 167.1h0M175.0 153.1h0M210.8 179.7h0M198.2 184.4h0M172.9 186.6h0M145.2 146.8h0M156.2 165.2h0M174.9 177.8h0M144.3 160.7h0M186.3 165.7h0M185.3 174.6h0M159.0 159.7h0M165.8 153.3h0M216.6 187.9h0M154.1 168.0h0M209.3 158.8h0M193.0 165.4h0M144.5 180.0h0M179.9 145.5h0M165.4 167.9h0M147.3 181.7h0M202.1 152.1h0M139.8 158.3h0M153.3 165.1h0M142.6 188.0h0M158.4 182.6h0M148.4 151.3h0M186.3 188.9h0M206.5 193.4h0M179.4 191.6h0M151.3 169.5h0M185.1 187.9h0M154.0 197.9h0M199.5 164.7h0M142.4 179.7h0M208.1 167.0h0M189.2 179.2h0" stroke="rgb(115,16,3)" stroke-width="1.0" stroke-linecap="round"/><path d="M152.1 147.3h0M192.5 186.9h0M196.7 166.2h0M191.0 166.3h0M180.5 159.1h0M180.8 193.6h0M158.5 173.2h0M150.0 195.3h0M149.5 187.1h0M196.6 140.9h0M176.0 165.1h0M139.3 158.0h0M217.0 143.5h0M214.5 159.8h0M159.0 144.5h0M146.0 196.0h0M211.5 174.4h0M149.9 192.2h0M202.1 184.2h0M145.9 164.9h0M204.8 148.9h0M204.2 188.7h0M208.3 167.9h0M150.7 173.4h0M150.0 147.8h0M162.4 188.2h0M140.1 176.4h0M138.1 167.2h0" stroke="rgb(115,16,3)" stroke-width="1.3" stroke-linecap="round"/><path d="M201.0 144.9h0M208.2 174.3h0M152.2 143.1h0M171.7 145.5h0M178.5 163.4h0M210.4 176.6h0M190.0 146.1h0M203.9 193.4h0M185.3 180.7h0M215.1 160.6h0M180.3 168.4h0M159.5 145.9h0M157.3 153.6h0M140.7 168.4h0M215.6 151.3h0M168.4 178.1h0M144.2 193.4h0M191.9 140.5h0M150.1 156.7h0M178.6 152.9h0M182.6 186.0h0M189.0 155.9h0M184.0 153.4h0M178.2 193.3h0M167.3 177.7h0M212.9 169.6h0M145.1 142.0h0M190.2 164.8h0M204.2 166.5h0M179.5 191.3h0M154.3 182.7h0M204.0 147.1h0M210.5 151.8h0M160.9 147.2h0M176.4 167.1h0M163.5 155.7h0M145.2 149.4h0M156.8 167.8h0M207.1 163.7h0M168.0 197.1h0M179.3 143.0h0M162.3 190.1h0M155.8 173.6h0M196.9 174.1h0M168.7 195.1h0M212.1 163.5h0M215.0 149.8h0M157.6 174.5h0M155.6 169.4h0M213.8 169.7h0M142.7 154.3h0M208.4 192.5h0M174.5 181.4h0M212.3 142.8h0M179.4 184.1h0M150.8 180.6h0M148.2 171.3h0M201.6 161.9h0M170.8 158.0h0M215.9 176.4h0M163.2 188.6h0M180.2 166.0h0M162.6 143.8h0" stroke="rgb(85,10,2)" stroke-width="1.0" stroke-linecap="round"/><path d="M163.0 175.0h0M196.2 165.1h0M162.4 185.4h0M182.4 170.7h0M197.1 167.6h0M169.7 147.1h0M158.1 196.3h0M181.6 161.2h0M199.0 141.6h0M210.4 164.1h0M181.4 158.9h0M164.6 162.3h0M149.1 192.5h0M182.5 192.4h0M186.8 178.9h0M196.9 141.5h0M201.1 164.1h0M195.8 195.4h0M160.9 179.2h0M144.8 167.8h0M161.5 142.9h0M200.5 169.1h0M194.8 150.9h0M153.1 175.1h0M180.0 176.7h0M177.1 151.3h0M186.8 194.3h0M205.9 194.0h0M165.4 192.5h0M201.0 185.1h0M173.4 143.0h0M156.2 161.2h0" stroke="rgb(145,24,4)" stroke-width="1.3" stroke-linecap="round"/><path d="M151.8 146.7h0M199.5 195.8h0M178.7 156.4h0M169.2 193.6h0M167.4 173.9h0M177.4 170.5h0M194.7 195.4h0M188.3 160.0h0M204.4 142.5h0M212.1 173.0h0M154.6 187.1h0M167.8 177.2h0M178.9 196.2h0M141.4 176.8h0M202.7 158.0h0M163.5 149.9h0M214.9 148.3h0M162.1 185.1h0M158.3 147.3h0M186.7 161.3h0M206.0 162.7h0M217.1 151.4h0M201.1 176.7h0M166.1 155.9h0M149.4 178.2h0M163.0 147.9h0M155.6 143.2h0M140.9 149.4h0M156.0 147.6h0M215.6 142.9h0M168.4 160.8h0M161.3 156.4h0M198.1 164.5h0M178.3 174.0h0M180.4 150.4h0M165.3 176.9h0M173.2 152.6h0M207.8 141.3h0M161.3 173.3h0M176.2 186.4h0M205.0 150.5h0M212.4 141.5h0M146.7 176.5h0M160.8 140.4h0M203.0 171.1h0M187.3 155.6h0M208.6 177.3h0M173.4 195.7h0M163.7 176.0h0M140.3 141.6h0M137.3 176.8h0M139.6 156.7h0M216.5 162.0h0M189.1 159.0h0" stroke="rgb(145,24,4)" stroke-width="1.0" stroke-linecap="round"/><path d="M172.0 163.5h0M180.4 186.2h0M204.7 169.7h0M146.4 192.6h0M154.1 180.0h0M149.7 166.5h0M158.4 190.4h0M174.3 186.9h0M155.7 150.7h0M188.6 195.4h0M148.2 148.1h0M168.7 154.6h0M197.7 182.0h0M176.2 195.0h0M178.7 147.8h0M196.7 190.2h0M191.4 154.7h0M188.1 171.0h0M142.2 180.5h0M140.5 176.9h0M140.8 190.1h0M189.1 165.9h0M206.3 149.3h0M190.7 178.0h0M144.9 141.6h0M163.6 177.8h0M157.1 182.4h0M139.0 157.3h0M211.8 153.3h0M152.9 194.9h0" stroke="rgb(85,10,2)" stroke-width="1.3" stroke-linecap="round"/><path d="M173.0 190.6h0M172.2 187.2h0M212.5 156.8h0M172.7 165.0h0" stroke="rgb(40,150,40)" stroke-width="1.3" stroke-linecap="round"/><path d="M193.1 189.9h0M193.3 190.4h0M194.1 190.1h0M158.0 192.7h0M157.8 191.4h0M157.7 191.6h0M176.9 151.5h0M178.3 149.9h0M176.5 149.8h0M145.6 143.3h0M146.5 141.9h0M146.1 143.0h0" stroke="rgb(200,45,15)" stroke-width="1.9" stroke-linecap="round"/><path d="M148.6 141.2h0M146.1 141.1h0M146.5 140.0h0M148.7 141.3h0M148.2 142.3h0M148.3 140.8h0M148.1 143.2h0M146.9 140.9h0M147.8 141.8h0M147.4 139.9h0M158.2 145.4h0M157.9 146.4h0M159.2 145.3h0M157.0 146.7h0M157.2 146.8h0M158.9 147.0h0M157.4 147.7h0M156.5 146.7h0M157.6 145.9h0M158.2 147.5h0M187.0 166.1h0M186.0 163.7h0M186.9 165.3h0M184.3 165.1h0M184.3 165.4h0M185.2 165.6h0M184.2 166.2h0M184.1 164.1h0M185.8 164.6h0M185.7 164.4h0M150.4 188.9h0M147.6 189.3h0M148.2 188.9h0M150.8 189.4h0M149.8 188.7h0M149.1 189.6h0M147.7 189.6h0M148.5 188.2h0M149.4 189.0h0M149.5 187.9h0" stroke="rgb(215,62,14)" stroke-width="1.5" stroke-linecap="round"/><path d="M147.6 141.8h0M148.0 142.3h0M146.8 140.8h0M169.2 142.9h0M169.5 141.6h0M169.2 142.7h0M157.8 146.5h0M158.5 145.5h0M157.3 147.1h0M175.7 167.7h0M176.1 168.4h0M175.6 167.3h0M186.6 164.9h0M184.5 165.2h0M185.7 165.0h0M183.8 182.0h0M185.1 182.2h0M183.8 182.0h0M186.7 185.7h0M187.7 187.5h0M187.5 187.2h0M204.4 181.7h0M204.4 182.7h0M204.4 182.9h0M149.6 189.4h0M148.3 188.7h0M149.5 189.4h0" stroke="rgb(248,125,24)" stroke-width="1.4" stroke-linecap="round"/><path d="M147.3 141.3h0M157.7 146.4h0M166.5 161.2h0M185.9 165.1h0M149.1 188.7h0" stroke="rgb(255,195,55)" stroke-width="0.9" stroke-linecap="round"/><path d="M169.5 142.6h0M169.1 141.2h0M170.0 144.1h0M169.4 140.8h0M169.5 142.2h0M169.6 140.9h0M169.4 143.6h0M169.3 140.3h0M170.5 142.1h0M168.9 143.0h0M175.4 168.4h0M176.2 169.7h0M176.0 169.0h0M175.4 169.2h0M176.3 165.9h0M175.3 168.4h0M175.1 168.3h0M175.0 166.8h0M175.0 168.2h0M175.6 167.0h0M184.7 181.1h0M184.0 181.6h0M186.0 181.4h0M184.6 180.8h0M184.4 181.2h0M183.4 182.9h0M183.3 182.7h0M185.2 181.5h0M184.7 182.6h0M185.7 181.3h0M187.3 187.1h0M186.9 186.8h0M188.3 188.1h0M187.2 185.2h0M187.4 188.0h0M186.9 186.8h0M186.7 185.2h0M186.8 186.7h0M188.2 186.3h0M188.6 187.2h0M203.3 182.9h0M203.1 183.8h0M204.4 182.7h0M205.7 181.0h0M203.2 183.5h0M204.6 184.0h0M205.6 182.9h0M204.1 182.8h0M203.4 183.0h0M204.5 180.8h0" stroke="rgb(215,62,14)" stroke-width="1.6" stroke-linecap="round"/><path d="M169.3 141.9h0M176.3 168.3h0M184.5 182.5h0M187.5 186.9h0M204.5 182.7h0" stroke="rgb(255,195,55)" stroke-width="1.0" stroke-linecap="round"/><path d="M146.9 159.6h0M146.4 159.4h0M145.6 158.1h0M147.1 159.1h0M148.0 160.5h0M147.8 160.2h0M146.9 159.3h0M146.2 159.9h0M145.4 159.7h0M147.9 158.8h0M149.2 158.8h0M209.3 162.2h0M207.2 163.8h0M206.1 164.5h0M208.2 162.0h0M208.9 164.2h0M207.1 162.6h0M208.3 163.4h0M208.2 162.6h0M207.5 162.8h0M207.9 162.5h0M207.7 164.3h0M210.8 169.2h0M210.3 171.1h0M212.0 169.6h0M210.9 171.2h0M212.7 170.6h0M212.8 170.2h0M211.4 169.6h0M213.5 169.9h0M212.7 170.6h0M212.2 169.2h0M213.1 169.0h0M162.3 181.4h0M161.4 180.6h0M161.1 181.9h0M161.2 182.9h0M161.4 182.4h0M163.0 180.9h0M163.2 181.2h0M163.5 181.7h0M161.0 179.4h0M160.9 178.9h0M159.9 180.3h0" stroke="rgb(215,62,14)" stroke-width="1.8" stroke-linecap="round"/><path d="M148.4 159.5h0M146.8 159.0h0M147.1 159.1h0M207.9 163.2h0M207.3 163.4h0M206.9 163.5h0M210.8 170.7h0M211.7 170.3h0M210.8 170.7h0M161.8 181.6h0M161.5 181.3h0M161.0 180.7h0" stroke="rgb(248,125,24)" stroke-width="1.6" stroke-linecap="round"/><path d="M147.5 158.9h0M207.5 163.1h0M212.1 170.1h0M161.1 180.9h0" stroke="rgb(255,195,55)" stroke-width="1.1" stroke-linecap="round"/><path d="M165.1 162.2h0M165.9 161.4h0M166.1 160.4h0M167.5 161.9h0M166.0 162.3h0M165.3 161.5h0M167.6 161.6h0M166.5 162.6h0M166.8 161.3h0M174.1 165.8h0M173.9 166.0h0M173.8 163.8h0M175.2 165.0h0M174.9 164.8h0M175.9 164.0h0M174.0 164.7h0M174.7 164.2h0M173.8 163.5h0" stroke="rgb(215,62,14)" stroke-width="1.4" stroke-linecap="round"/><path d="M165.7 161.7h0M166.4 161.4h0M167.1 161.1h0" stroke="rgb(248,125,24)" stroke-width="1.3" stroke-linecap="round"/><path d="M174.7 163.8h0M173.7 165.1h0M173.7 165.2h0" stroke="rgb(248,125,24)" stroke-width="1.2" stroke-linecap="round"/><path d="M174.3 164.6h0M186.8 158.2h0" stroke="rgb(255,195,55)" stroke-width="0.8" stroke-linecap="round"/><path d="M186.5 157.9h0M186.9 158.6h0M186.9 158.2h0M186.1 157.9h0M187.6 158.3h0M186.5 157.7h0M185.9 158.2h0M186.9 158.8h0M187.6 157.7h0" stroke="rgb(215,62,14)" stroke-width="1.3" stroke-linecap="round"/><path d="M187.2 158.5h0M186.9 158.2h0M187.7 159.1h0" stroke="rgb(248,125,24)" stroke-width="1.1" stroke-linecap="round"/><path d="M213.2 147.0h0M214.0 146.8h0M214.0 145.3h0M214.3 147.2h0M215.6 146.1h0M212.8 146.8h0M213.9 146.9h0M214.0 146.3h0M140.5 146.4h0M139.0 146.6h0M139.8 146.2h0M138.2 147.1h0M139.4 145.9h0M139.7 146.5h0M139.3 147.9h0M140.7 146.6h0" stroke="rgb(215,62,14)" stroke-width="1.2" stroke-linecap="round"/><path d="M214.2 146.2h0M213.8 146.6h0M214.7 145.7h0M139.5 146.5h0M139.1 147.0h0M139.0 147.1h0" stroke="rgb(248,125,24)" stroke-width="1.0" stroke-linecap="round"/><path d="M213.8 146.0h0M139.3 146.9h0" stroke="rgb(255,195,55)" stroke-width="0.7" stroke-linecap="round"/></g>
<path d="M140.8 193.9V195.3H161.8V193.9" fill="none" stroke="#6f7a68" stroke-width="0.5"/>
<line x1="211.2" y1="196.5" x2="216.2" y2="196.5" stroke="#444" stroke-width="0.5"/>
<rect x="222.90" y="139.80" width="79.30" height="58.70" fill="#000"/>
<g fill="none"><path d="M295.8 195.0h0M295.3 174.5h0M225.2 187.0h0M238.8 194.2h0M282.1 163.5h0M239.1 172.9h0M237.7 141.4h0M292.8 196.9h0M293.8 176.7h0M280.7 144.4h0M288.8 168.5h0M275.9 175.6h0M279.6 195.2h0M262.6 197.1h0M249.7 172.8h0M286.2 192.8h0M224.7 172.9h0M264.4 155.3h0M299.6 180.0h0M223.6 161.7h0M231.9 198.0h0M266.4 178.7h0M254.5 173.3h0M286.6 150.4h0M242.4 145.6h0M278.3 184.2h0M229.5 195.1h0M266.5 142.9h0M288.4 157.4h0M243.8 168.7h0M284.6 144.4h0" stroke="rgb(85,10,2)" stroke-width="1.3" stroke-linecap="round"/><path d="M224.7 158.0h0M245.4 196.5h0M273.7 150.8h0M245.4 174.3h0M286.4 195.0h0M266.0 187.2h0M281.8 171.8h0M283.8 172.4h0M279.8 150.6h0M252.9 141.3h0M246.2 158.7h0M282.9 146.2h0M230.6 189.7h0M269.5 164.2h0M253.3 143.6h0M270.9 171.0h0M260.7 194.3h0M274.0 194.6h0M224.1 169.0h0M265.8 177.3h0M224.0 179.8h0M277.8 165.7h0M274.4 142.3h0M264.5 190.3h0M293.3 165.0h0M248.4 180.2h0M247.4 156.0h0M237.8 190.6h0M232.5 183.5h0M267.6 148.9h0M251.8 183.5h0M251.1 167.4h0M274.6 178.5h0M231.3 187.8h0M226.9 145.1h0M237.8 185.5h0M286.1 185.7h0M283.0 159.4h0M282.9 168.4h0" stroke="rgb(115,16,3)" stroke-width="1.0" stroke-linecap="round"/><path d="M233.6 151.4h0M276.1 170.3h0M265.9 191.9h0M285.7 168.7h0M229.6 172.7h0M244.7 159.8h0M237.0 166.2h0M244.8 194.0h0M251.3 197.0h0M265.3 152.4h0M226.6 182.8h0M291.8 181.8h0M282.2 187.1h0M282.8 173.1h0M247.5 188.8h0M289.1 183.7h0M264.3 171.3h0M259.4 149.5h0M252.6 142.1h0M236.2 191.7h0M259.7 185.3h0M297.7 180.7h0M282.7 144.9h0M232.5 143.9h0M291.4 156.7h0M238.6 158.1h0M286.5 155.1h0M289.8 197.5h0M232.5 152.2h0M237.5 188.3h0M230.1 150.5h0M286.4 192.2h0M283.4 191.5h0M283.9 148.0h0M263.2 187.1h0M260.6 187.7h0M247.9 185.7h0M268.8 192.1h0M275.4 168.0h0M278.7 196.8h0M235.8 182.3h0M287.2 166.3h0M298.7 179.6h0M230.7 162.4h0M284.8 174.7h0M254.1 167.7h0M273.9 195.3h0M278.5 141.6h0M259.7 169.1h0M286.2 153.2h0M251.5 162.1h0M260.2 140.7h0M245.0 166.5h0M248.2 191.8h0M291.2 148.1h0M250.1 156.7h0M292.6 190.5h0M232.6 180.2h0M267.3 144.2h0" stroke="rgb(85,10,2)" stroke-width="1.0" stroke-linecap="round"/><path d="M272.0 192.3h0M252.3 150.2h0M251.8 184.1h0M231.1 142.5h0M261.8 142.4h0M231.9 176.7h0M280.5 165.1h0M256.3 156.3h0M256.3 187.4h0M270.8 142.7h0M301.1 184.0h0M290.7 165.5h0M261.9 160.5h0M300.2 166.6h0M285.9 147.1h0M249.9 182.9h0M268.0 192.3h0M295.5 196.2h0M232.4 165.1h0M284.2 182.8h0M255.0 178.8h0M250.0 171.6h0M227.4 161.9h0M231.3 179.0h0M239.5 172.9h0M281.8 156.6h0M279.4 180.9h0M263.8 180.7h0M266.8 150.2h0M247.9 173.8h0M256.6 146.7h0M239.4 149.2h0M234.9 193.8h0M270.4 168.1h0M224.7 173.0h0M284.7 161.8h0M233.5 154.6h0M294.6 154.0h0M257.2 173.3h0M270.3 187.1h0M295.3 162.5h0M224.3 158.1h0M263.8 170.6h0M234.5 150.8h0M238.7 185.9h0M259.7 156.8h0M296.9 146.3h0M242.3 169.6h0M252.3 176.4h0" stroke="rgb(145,24,4)" stroke-width="1.0" stroke-linecap="round"/><path d="M262.4 141.4h0M258.6 142.2h0M282.0 160.3h0M293.8 145.3h0M292.6 171.4h0M252.5 176.1h0M267.7 165.8h0M273.1 142.8h0M237.5 169.7h0M296.4 157.3h0M240.6 172.7h0M226.1 157.4h0M295.3 196.9h0M284.7 158.3h0M262.0 171.8h0M243.8 193.8h0M273.2 148.3h0M279.1 148.8h0M254.8 183.0h0M280.2 182.2h0M285.0 172.0h0M271.1 153.4h0M261.9 158.8h0M284.8 182.4h0M291.4 147.3h0M235.7 192.3h0M293.6 159.9h0M282.3 177.2h0M290.3 168.9h0M255.7 191.4h0M229.0 194.4h0M299.8 179.0h0M301.4 159.3h0M226.4 169.7h0M296.0 187.5h0M248.1 192.8h0" stroke="rgb(115,16,3)" stroke-width="1.3" stroke-linecap="round"/><path d="M251.5 143.6h0M237.3 168.2h0M243.6 146.5h0M230.6 172.4h0M236.3 141.0h0M293.3 187.3h0M286.9 144.3h0M292.8 195.6h0M240.4 155.5h0M284.7 146.7h0M246.3 144.8h0M268.0 184.8h0M287.7 173.5h0M250.8 194.7h0M296.1 164.7h0M284.5 148.4h0M229.6 145.0h0M244.7 173.4h0M223.9 193.4h0M234.3 174.0h0M289.1 155.7h0M225.3 189.8h0M234.9 189.4h0M272.4 195.9h0M264.9 170.5h0M286.9 173.2h0M250.9 193.7h0M293.5 188.3h0M291.3 187.1h0M224.4 161.2h0M257.8 153.5h0M261.6 145.4h0M288.1 177.0h0M231.3 160.4h0M291.5 179.3h0M280.4 162.8h0M261.8 182.8h0M244.3 179.5h0M232.5 176.2h0M233.2 153.1h0M250.0 174.0h0M272.9 161.4h0M240.7 160.5h0M261.9 160.9h0M299.5 154.0h0M292.6 174.8h0M251.3 161.9h0" stroke="rgb(145,24,4)" stroke-width="1.3" stroke-linecap="round"/><path d="M270.4 156.7h0M245.7 193.5h0M269.8 171.9h0M277.0 182.9h0" stroke="rgb(40,150,40)" stroke-width="1.3" stroke-linecap="round"/><path d="M237.7 184.5h0M237.4 186.2h0M238.4 186.0h0M262.4 177.3h0M262.7 176.6h0M263.5 176.9h0M226.2 186.5h0M226.9 186.4h0M226.9 186.8h0" stroke="rgb(200,45,15)" stroke-width="1.9" stroke-linecap="round"/><path d="M237.4 145.0h0M238.8 143.0h0M238.5 143.2h0M237.1 144.3h0M237.3 142.7h0M237.5 143.2h0M236.6 145.6h0M239.1 144.9h0M238.2 143.8h0M236.7 145.0h0M278.5 171.0h0M279.9 170.8h0M279.2 173.4h0M279.3 173.7h0M278.1 172.3h0M279.3 171.0h0M278.8 172.2h0M279.5 170.3h0M281.0 172.8h0M279.7 172.8h0" stroke="rgb(215,62,14)" stroke-width="1.5" stroke-linecap="round"/><path d="M237.9 145.4h0M238.1 143.5h0M238.1 143.6h0M249.0 168.1h0M248.0 167.9h0M249.0 168.2h0M279.8 173.0h0M279.6 172.8h0M279.2 172.0h0M287.5 183.0h0M287.5 183.0h0M287.9 183.8h0" stroke="rgb(248,125,24)" stroke-width="1.4" stroke-linecap="round"/><path d="M238.1 144.2h0M279.2 172.3h0M255.9 196.5h0" stroke="rgb(255,195,55)" stroke-width="0.9" stroke-linecap="round"/><path d="M228.3 158.0h0M227.4 157.1h0M229.1 157.3h0M229.4 156.8h0M228.4 156.4h0M229.7 156.3h0M227.1 159.0h0M227.9 157.2h0M227.7 159.1h0M227.6 158.3h0M229.1 157.4h0M258.5 163.9h0M257.3 165.7h0M257.8 164.1h0M257.3 163.7h0M258.2 165.2h0M256.5 162.7h0M257.6 163.4h0M258.4 163.5h0M257.8 164.4h0M259.8 164.3h0M256.9 163.8h0" stroke="rgb(215,62,14)" stroke-width="1.8" stroke-linecap="round"/><path d="M228.6 157.3h0M228.6 157.3h0M228.4 158.0h0M258.2 164.5h0M257.1 164.3h0M257.1 164.3h0" stroke="rgb(248,125,24)" stroke-width="1.6" stroke-linecap="round"/><path d="M228.5 157.7h0M258.0 164.5h0" stroke="rgb(255,195,55)" stroke-width="1.1" stroke-linecap="round"/><path d="M255.0 158.1h0M255.2 159.7h0M258.5 160.3h0M257.8 159.7h0M254.7 160.0h0M258.6 158.9h0M255.9 160.1h0M258.3 158.9h0M256.6 159.2h0M256.9 160.9h0M255.4 158.9h0M259.4 159.2h0" stroke="rgb(215,62,14)" stroke-width="2.2" stroke-linecap="round"/><path d="M256.0 159.5h0M257.9 160.0h0M257.4 159.9h0" stroke="rgb(248,125,24)" stroke-width="1.9" stroke-linecap="round"/><path d="M257.0 159.7h0" stroke="rgb(255,195,55)" stroke-width="1.3" stroke-linecap="round"/><path d="M249.8 167.3h0M247.5 167.9h0M248.0 168.6h0M246.9 168.1h0M247.3 166.7h0M248.8 168.9h0M247.1 166.4h0M247.1 167.9h0M246.3 168.8h0M246.4 168.2h0M287.6 183.0h0M288.3 185.3h0M287.6 183.9h0M286.6 183.8h0M288.3 182.7h0M287.2 184.1h0M288.0 184.9h0M286.4 182.5h0M289.5 184.8h0M288.1 182.5h0" stroke="rgb(215,62,14)" stroke-width="1.6" stroke-linecap="round"/><path d="M248.0 168.3h0M288.1 183.8h0" stroke="rgb(255,195,55)" stroke-width="1.0" stroke-linecap="round"/><path d="M249.8 173.0h0M249.6 172.8h0M251.9 171.6h0M250.4 170.9h0M250.7 172.1h0M251.7 172.3h0M250.2 173.4h0M250.6 172.3h0M250.4 173.3h0M255.8 196.0h0M254.8 196.1h0M255.4 196.6h0M255.4 196.1h0M256.0 196.2h0M257.2 195.9h0M256.9 196.1h0M254.9 195.0h0M255.0 195.2h0" stroke="rgb(215,62,14)" stroke-width="1.4" stroke-linecap="round"/><path d="M250.6 172.2h0M250.5 172.7h0M250.8 171.4h0" stroke="rgb(248,125,24)" stroke-width="1.2" stroke-linecap="round"/><path d="M251.0 172.2h0M299.1 173.5h0" stroke="rgb(255,195,55)" stroke-width="0.8" stroke-linecap="round"/><path d="M241.7 181.0h0M243.8 182.3h0M245.4 180.7h0M243.7 179.6h0M245.0 183.7h0M243.8 180.7h0M245.7 183.0h0M243.7 180.9h0M243.2 180.6h0M243.0 180.1h0M244.2 179.2h0" stroke="rgb(215,62,14)" stroke-width="1.9" stroke-linecap="round"/><path d="M244.8 182.0h0M244.3 181.5h0M243.6 180.7h0" stroke="rgb(248,125,24)" stroke-width="1.7" stroke-linecap="round"/><path d="M244.2 181.9h0" stroke="rgb(255,195,55)" stroke-width="1.2" stroke-linecap="round"/><path d="M298.3 173.7h0M298.4 174.6h0M300.0 173.4h0M299.7 172.7h0M298.4 174.5h0M299.5 172.2h0M298.8 173.0h0M299.2 174.7h0M299.1 173.9h0" stroke="rgb(215,62,14)" stroke-width="1.3" stroke-linecap="round"/><path d="M298.9 174.0h0M299.0 173.3h0M299.0 173.8h0" stroke="rgb(248,125,24)" stroke-width="1.1" stroke-linecap="round"/><path d="M255.1 196.4h0M254.7 196.8h0M255.2 196.4h0" stroke="rgb(248,125,24)" stroke-width="1.3" stroke-linecap="round"/><path d="M222.9 165.0h0M224.0 164.6h0M225.5 165.7h0M224.6 164.1h0M224.6 164.9h0M223.3 164.8h0M223.2 163.9h0M225.2 165.4h0" stroke="rgb(215,62,14)" stroke-width="1.2" stroke-linecap="round"/><path d="M225.1 164.6h0M225.1 164.6h0M224.4 164.4h0" stroke="rgb(248,125,24)" stroke-width="1.0" stroke-linecap="round"/><path d="M224.4 164.4h0" stroke="rgb(255,195,55)" stroke-width="0.7" stroke-linecap="round"/></g>
<path d="M226.9 193.9V195.3H247.9V193.9" fill="none" stroke="#6f7a68" stroke-width="0.5"/>
<line x1="295.2" y1="196.5" x2="300.2" y2="196.5" stroke="#444" stroke-width="0.5"/>
<rect x="48.30" y="202.00" width="83.70" height="61.00" fill="#000"/>
<g fill="none"><path d="M49.8 209.2h0M114.0 236.2h0M130.0 231.9h0M105.9 237.3h0M73.4 230.9h0M67.4 254.2h0M100.0 214.6h0M124.1 228.2h0M98.2 251.7h0M70.8 249.3h0M119.6 261.0h0M89.2 214.5h0M88.8 221.0h0M72.7 212.6h0M118.9 223.4h0M91.3 212.2h0M93.7 226.2h0M65.4 227.4h0M89.4 234.0h0M121.7 209.6h0M65.3 217.9h0M95.4 241.2h0M105.9 226.0h0M56.8 236.1h0M107.6 215.1h0M91.1 217.7h0M109.4 254.5h0M90.4 208.8h0M119.8 255.8h0M53.9 252.1h0M50.4 241.3h0M105.2 240.7h0M55.4 230.2h0M101.6 228.3h0M115.1 228.9h0M104.1 212.7h0M71.3 212.8h0M82.1 221.3h0M84.4 247.1h0M77.3 244.2h0M83.2 205.3h0M124.4 256.7h0M84.5 206.8h0M111.0 209.4h0M83.0 242.3h0M115.8 254.8h0M122.6 258.7h0M128.1 204.1h0M105.4 208.1h0M127.8 245.6h0M49.7 227.2h0M67.4 221.4h0M119.4 217.8h0M61.4 241.6h0M80.7 217.7h0M96.9 242.5h0M74.5 209.5h0M62.9 238.8h0M85.3 210.0h0M88.0 233.0h0M65.4 234.7h0M111.6 210.8h0M97.8 216.0h0M56.1 217.7h0M60.2 255.8h0M96.0 227.5h0M99.1 222.0h0M113.9 249.9h0M113.9 228.0h0M56.3 244.5h0M52.6 230.9h0M103.9 246.6h0M66.3 204.1h0M71.5 221.4h0M73.2 230.5h0M91.2 226.8h0M122.0 226.5h0M101.2 232.5h0M109.7 231.4h0M103.7 219.1h0M117.2 254.7h0M95.0 212.8h0M90.6 253.2h0M113.7 231.2h0M48.8 258.2h0M95.1 210.7h0M103.3 235.7h0M116.6 249.7h0M94.6 207.9h0M129.8 216.3h0M65.5 227.6h0M71.2 206.8h0M129.0 250.2h0M129.9 246.9h0M71.7 253.9h0M118.4 245.8h0M105.7 222.4h0M78.2 222.8h0M77.6 243.3h0M64.3 223.5h0M119.8 239.7h0M73.5 217.4h0M52.0 244.4h0" stroke="rgb(85,10,2)" stroke-width="1.0" stroke-linecap="round"/><path d="M60.3 209.2h0M67.9 246.4h0M103.6 206.1h0M82.0 251.6h0M103.2 227.6h0M71.7 218.8h0M86.3 210.7h0M64.2 216.1h0M88.2 211.1h0M90.1 242.3h0M109.8 238.0h0M81.9 208.4h0M107.6 240.4h0M123.0 219.3h0M111.1 226.3h0M116.4 262.3h0M92.9 243.5h0M118.4 226.6h0M101.9 241.2h0M94.3 242.9h0M72.4 210.9h0M60.0 234.5h0M73.9 253.8h0M129.7 229.0h0M52.5 227.2h0M109.3 203.7h0M115.6 225.5h0M56.3 254.5h0M71.0 224.5h0M89.6 232.1h0M82.7 254.6h0M60.1 258.8h0M119.3 208.2h0M68.0 229.7h0M95.5 221.5h0M90.8 235.9h0M84.0 211.6h0M89.5 236.3h0M88.9 235.0h0M74.8 214.4h0M114.1 220.0h0M54.8 206.7h0M57.4 215.2h0M97.5 207.5h0M127.1 218.4h0M128.5 210.2h0M109.4 227.9h0M92.4 226.1h0M128.2 221.9h0M94.9 256.3h0M49.3 222.3h0M94.8 243.7h0M85.2 221.0h0M122.6 233.0h0M74.8 232.7h0M73.9 261.0h0M119.0 223.0h0M90.4 205.2h0M70.0 207.5h0M53.8 248.2h0M70.8 221.7h0M71.1 228.7h0M88.6 210.9h0M121.6 215.1h0M51.9 223.8h0M96.2 214.4h0M100.7 260.6h0M106.7 243.0h0M102.1 214.5h0M118.5 242.5h0M53.8 236.7h0M87.8 250.7h0M57.0 211.4h0M107.9 242.2h0M49.5 226.7h0M69.8 249.8h0M57.2 255.1h0M71.7 240.7h0M53.1 209.0h0M110.6 219.6h0M75.7 245.9h0M61.6 253.1h0M128.1 210.4h0M95.3 241.4h0" stroke="rgb(115,16,3)" stroke-width="1.0" stroke-linecap="round"/><path d="M61.0 246.9h0M51.3 246.6h0M124.1 241.5h0M121.0 240.7h0M120.4 205.5h0M114.0 259.3h0M93.2 228.6h0M96.7 226.7h0M52.8 236.7h0M69.3 232.0h0M102.2 212.6h0M88.0 234.5h0M67.3 230.7h0M93.8 258.9h0M84.8 221.8h0M57.5 252.2h0M50.7 230.9h0M71.5 216.2h0M86.0 205.9h0M108.7 212.2h0M80.9 206.9h0M94.3 220.2h0M113.0 226.5h0M106.4 216.9h0M99.5 221.0h0M60.5 244.8h0M118.0 207.1h0M88.0 227.5h0M60.8 211.1h0M118.9 220.4h0M112.3 246.4h0M65.4 261.2h0M64.1 239.8h0M74.9 240.5h0M83.3 234.8h0M104.9 240.4h0M120.7 248.6h0M103.3 235.7h0M52.2 237.8h0M55.3 252.5h0M93.1 230.9h0M85.3 257.6h0M121.8 218.3h0M50.7 219.1h0M100.5 256.1h0M91.5 238.6h0M89.3 220.1h0M74.2 209.2h0M57.0 219.1h0M79.4 242.2h0M54.0 234.4h0M64.5 219.4h0M86.0 230.4h0M101.9 212.0h0M70.1 231.4h0M84.5 208.1h0M95.0 239.2h0M81.9 251.4h0M131.5 208.9h0M92.3 255.7h0M57.5 217.8h0M90.3 257.7h0M107.2 220.3h0M118.8 244.4h0M130.8 228.4h0M108.9 252.1h0M83.9 255.2h0M108.3 240.2h0M99.3 247.4h0M108.4 226.6h0M54.6 242.0h0" stroke="rgb(115,16,3)" stroke-width="1.3" stroke-linecap="round"/><path d="M131.2 208.1h0M58.2 214.7h0M129.3 248.6h0M91.7 254.0h0M50.7 250.7h0M105.4 252.8h0M59.8 255.1h0M87.9 249.0h0M61.9 238.7h0M106.3 240.0h0M81.8 230.4h0M56.0 207.0h0M91.7 239.9h0M124.0 251.4h0M97.0 221.0h0M100.0 256.3h0M87.2 230.2h0M104.3 255.8h0M86.7 218.2h0M77.7 233.1h0M63.8 208.2h0M91.8 257.9h0M105.7 204.2h0M108.2 204.5h0M122.2 223.7h0M97.8 232.2h0M127.4 222.8h0M100.4 254.2h0M49.2 254.4h0M65.6 222.8h0M67.4 240.5h0M76.1 254.2h0M51.3 245.3h0M102.4 230.5h0M60.1 221.6h0M92.9 254.4h0M94.7 239.4h0M121.4 214.5h0M88.7 240.0h0M76.3 237.7h0M85.7 233.0h0M78.8 232.3h0M58.2 236.4h0M108.3 260.3h0M97.0 233.0h0M51.0 222.2h0M85.1 231.9h0M100.8 247.6h0M128.0 239.7h0M109.0 213.5h0M52.4 212.9h0M127.3 203.7h0M63.4 216.3h0M72.4 208.3h0M64.0 247.2h0M120.0 225.9h0M123.7 232.6h0M99.7 213.6h0M106.0 243.6h0M53.6 227.1h0M74.6 248.0h0M89.8 203.7h0M102.7 217.9h0M71.6 257.0h0M117.3 205.3h0M121.4 226.8h0M79.3 222.0h0M74.9 207.2h0M83.2 258.4h0M126.1 253.6h0M103.7 249.2h0M125.8 242.2h0M79.7 257.8h0M78.1 261.0h0M101.1 223.0h0M104.1 246.1h0M92.7 227.6h0M56.2 204.1h0M128.1 221.0h0M107.3 242.8h0M61.0 229.9h0M64.9 232.6h0M127.9 214.0h0M75.8 207.6h0M75.2 229.0h0M58.1 206.7h0M89.2 223.4h0M90.4 230.6h0M68.0 226.5h0M87.8 232.7h0" stroke="rgb(175,32,6)" stroke-width="1.0" stroke-linecap="round"/><path d="M77.0 214.9h0M127.8 215.1h0M85.7 262.1h0M94.7 236.0h0M65.7 255.9h0M94.2 248.9h0M116.4 244.4h0M97.8 248.5h0M84.0 260.5h0M50.2 234.5h0M127.4 230.8h0M54.4 215.5h0M80.4 254.6h0M104.1 226.3h0M76.6 248.3h0M85.2 246.4h0M98.2 210.7h0M68.6 230.1h0M123.3 260.8h0M59.9 213.7h0M114.4 225.2h0M113.7 259.0h0M118.4 203.4h0M96.1 240.9h0M85.0 257.3h0M87.8 257.9h0M84.1 213.8h0M101.8 230.6h0M111.8 255.0h0M123.2 259.1h0M123.5 235.3h0M126.3 255.1h0M50.6 206.6h0M125.7 221.8h0M123.2 243.9h0M96.5 235.2h0M118.3 261.0h0M77.9 241.5h0M57.2 205.0h0M77.1 206.3h0M51.5 252.0h0M49.3 204.9h0M122.3 227.6h0M86.4 212.0h0M85.7 208.1h0M121.1 256.3h0M101.5 248.0h0M62.3 209.9h0M111.6 226.4h0M110.0 250.1h0M50.9 210.6h0M94.2 228.8h0M64.3 217.1h0M55.2 214.2h0M126.5 236.2h0M121.7 231.4h0M80.7 225.2h0M51.6 253.0h0M80.5 251.8h0M84.8 250.6h0M73.6 208.0h0M101.1 247.5h0M111.5 230.6h0M126.1 230.7h0M101.3 256.7h0M101.2 254.4h0M124.3 256.2h0M91.0 235.4h0M122.1 238.4h0M114.3 214.4h0M53.5 238.3h0M50.9 254.8h0M85.4 250.5h0M82.8 258.2h0M103.2 230.1h0M106.8 239.4h0M56.4 214.1h0M75.4 249.7h0M126.7 220.3h0" stroke="rgb(205,42,8)" stroke-width="1.0" stroke-linecap="round"/><path d="M78.2 214.7h0M76.5 245.3h0M88.9 250.3h0M82.0 233.9h0M79.7 235.0h0M81.7 215.3h0M112.1 221.0h0M90.9 222.5h0M128.9 230.5h0M106.8 259.4h0M58.4 232.9h0M121.4 253.1h0M79.6 259.6h0M97.0 205.6h0M126.0 214.5h0M91.8 254.1h0M85.9 237.9h0M117.1 220.3h0M131.1 245.3h0M129.1 203.3h0M50.7 224.5h0M68.8 210.7h0M57.9 217.8h0M58.4 206.7h0M103.4 233.0h0M70.0 258.5h0M61.7 214.7h0M57.9 223.5h0M67.5 204.9h0M65.5 232.1h0M54.5 250.4h0M93.0 223.5h0M111.8 234.7h0M101.0 249.6h0M76.6 213.9h0M71.1 222.6h0M122.6 231.7h0M115.9 257.6h0M120.5 222.3h0M117.5 239.7h0M86.5 243.2h0M125.3 251.2h0M114.3 248.6h0M91.2 221.8h0M52.7 214.1h0M66.6 233.0h0M123.3 242.3h0M105.7 238.6h0M89.7 224.3h0M111.8 209.6h0M129.3 215.8h0M80.5 238.8h0M73.8 222.2h0M79.0 246.8h0M115.2 227.8h0M113.4 243.3h0M88.6 239.1h0M84.5 218.3h0M52.2 257.7h0M75.4 254.1h0M109.4 242.6h0" stroke="rgb(175,32,6)" stroke-width="1.3" stroke-linecap="round"/><path d="M66.0 228.4h0M101.8 215.7h0M73.1 236.8h0M53.6 239.2h0M77.6 203.2h0M74.3 251.7h0M109.4 215.0h0M68.6 221.8h0M106.2 255.8h0M71.4 209.0h0M111.5 242.5h0M68.2 262.1h0M59.2 225.4h0M53.9 238.6h0M74.0 225.8h0M79.4 227.4h0M108.2 255.4h0M77.3 212.1h0M126.4 219.1h0M93.1 223.0h0M112.7 258.5h0M79.5 212.2h0M113.4 261.7h0M111.2 231.4h0M103.5 238.7h0M115.1 244.7h0M106.4 243.5h0M54.8 252.2h0M96.0 262.2h0M101.9 224.3h0M91.0 257.3h0M80.0 211.1h0M64.2 208.6h0M105.0 261.9h0M83.6 225.0h0M99.8 229.1h0M58.7 214.9h0M61.9 213.7h0M115.9 228.4h0M88.6 218.0h0M123.7 225.9h0M114.7 250.3h0M78.1 204.8h0M88.8 213.8h0M58.5 251.6h0M67.1 234.5h0M54.3 260.1h0M108.2 243.7h0M87.7 206.3h0M117.6 228.0h0M96.4 211.0h0M66.8 252.2h0M85.2 215.0h0M111.5 219.6h0M99.7 213.5h0M69.2 217.6h0M79.1 205.5h0M103.4 233.0h0M107.3 232.8h0M93.3 232.1h0M111.3 247.6h0M81.7 262.4h0M100.5 260.9h0M59.8 256.4h0M81.7 220.1h0M67.3 236.9h0M78.5 227.0h0M48.9 232.2h0M63.4 225.0h0M109.2 255.3h0M113.2 214.2h0M55.3 257.6h0M101.7 240.9h0M113.1 239.4h0M86.3 213.0h0M112.1 222.6h0M83.7 205.7h0M49.2 211.1h0M102.8 260.6h0M82.4 214.8h0M49.4 210.7h0M80.6 210.0h0M83.7 253.7h0M111.3 214.6h0M118.5 258.5h0M66.7 260.0h0M113.7 260.0h0M117.9 209.5h0M115.4 232.6h0M89.8 250.6h0M65.4 256.9h0M99.7 216.2h0M57.9 210.5h0M92.4 211.9h0M70.0 231.0h0M106.9 243.0h0M96.5 261.3h0M67.8 243.7h0M74.5 228.5h0M65.9 220.1h0M116.8 218.9h0M108.0 230.0h0M100.6 253.8h0M94.9 216.1h0M106.8 208.2h0M117.0 216.3h0M94.9 208.3h0M113.2 226.8h0M102.8 257.2h0" stroke="rgb(145,24,4)" stroke-width="1.0" stroke-linecap="round"/><path d="M128.3 261.1h0M122.9 236.1h0M79.8 259.9h0M59.0 249.5h0M51.5 239.4h0M68.6 211.0h0M52.8 259.8h0M53.5 236.7h0M77.0 257.6h0M58.4 253.6h0M68.7 243.8h0M128.9 262.3h0M52.7 232.1h0M103.1 252.4h0M78.4 248.9h0M101.9 256.7h0M94.4 262.5h0M112.6 238.0h0M119.2 228.5h0M59.0 235.6h0M104.7 203.4h0M59.2 213.8h0M59.0 261.8h0M127.2 253.5h0M110.9 209.5h0M59.6 231.1h0M64.1 206.0h0M78.0 248.9h0M71.7 260.8h0M89.1 207.3h0M67.4 256.5h0M95.0 209.6h0M120.4 219.5h0M86.7 211.9h0M112.6 229.0h0M77.7 213.8h0M100.6 261.8h0M114.3 254.7h0M103.3 208.0h0M102.6 245.7h0M119.2 233.8h0M86.7 219.1h0M67.2 250.0h0M95.3 256.2h0M126.9 217.3h0M115.1 206.7h0M121.9 228.9h0M82.8 247.5h0M68.9 203.1h0M55.1 256.8h0M131.3 228.5h0M106.4 214.1h0M107.9 230.8h0" stroke="rgb(145,24,4)" stroke-width="1.3" stroke-linecap="round"/><path d="M56.5 214.1h0M58.1 215.5h0M86.1 226.6h0M113.8 206.8h0M75.7 217.5h0M128.0 210.2h0M85.1 217.7h0M106.4 252.2h0M59.9 249.1h0M91.9 253.8h0M84.8 237.9h0M51.4 240.2h0M69.1 245.6h0M95.9 250.2h0M102.6 207.0h0M57.9 216.8h0M75.7 229.7h0M81.2 242.1h0M95.3 247.8h0M60.2 228.0h0M114.0 220.8h0M106.3 259.5h0M90.0 232.5h0M53.9 209.3h0M61.6 218.4h0M120.5 229.5h0M123.4 209.5h0M113.2 253.9h0M58.7 257.0h0M63.6 255.0h0M111.6 208.9h0M81.8 221.3h0M107.6 259.4h0M92.8 209.5h0M54.1 255.2h0M120.0 250.5h0M127.2 235.7h0M100.1 217.0h0M111.4 245.2h0M64.7 226.8h0M101.4 210.6h0M100.4 229.8h0M61.2 219.0h0M79.5 250.5h0M89.3 216.7h0M97.5 245.0h0M76.6 218.1h0M115.6 209.7h0M114.9 260.4h0M61.2 254.8h0M54.7 242.1h0M69.4 244.6h0M129.3 228.6h0M99.6 234.4h0M94.7 251.1h0M130.9 230.3h0M80.0 211.6h0M86.3 224.1h0M110.7 246.7h0M85.3 247.3h0M54.9 223.1h0M64.9 218.2h0M105.0 216.0h0M108.9 248.3h0M77.7 248.6h0M112.6 259.4h0" stroke="rgb(205,42,8)" stroke-width="1.3" stroke-linecap="round"/><path d="M68.9 249.2h0M119.1 242.7h0M95.8 211.4h0M124.8 236.8h0M95.0 245.5h0M84.3 224.0h0M116.4 243.2h0M78.2 236.9h0M49.7 223.9h0M79.9 218.6h0M74.9 251.6h0M118.6 205.7h0M71.3 202.9h0M102.9 217.0h0M49.6 233.8h0M75.8 205.7h0M62.0 230.0h0M76.3 225.5h0M86.8 235.6h0M127.0 213.1h0M70.7 245.7h0M56.5 230.1h0M121.5 210.5h0M127.7 261.2h0M68.9 248.6h0M125.6 220.7h0M78.4 212.7h0M108.0 260.2h0M113.4 253.8h0M94.3 209.4h0M54.5 262.1h0M73.0 237.2h0M94.9 246.9h0M68.3 206.9h0M73.1 243.4h0M112.7 219.3h0M128.6 231.4h0M108.4 223.1h0M127.4 259.5h0M84.6 205.9h0M85.3 224.8h0M100.9 216.7h0M120.5 239.6h0M86.4 214.8h0M95.3 232.2h0M72.8 223.3h0M68.9 260.5h0M83.3 243.1h0M51.9 216.9h0" stroke="rgb(85,10,2)" stroke-width="1.3" stroke-linecap="round"/><path d="M122.6 224.2h0M80.8 243.3h0" stroke="rgb(40,150,40)" stroke-width="1.3" stroke-linecap="round"/><path d="M94.9 226.8h0M93.9 226.7h0M93.3 225.0h0M86.2 215.7h0M86.8 214.8h0M87.5 214.9h0" stroke="rgb(200,45,15)" stroke-width="1.9" stroke-linecap="round"/></g>
<path d="M52.3 258.4V259.8H73.3V258.4" fill="none" stroke="#6f7a68" stroke-width="0.5"/>
<line x1="125.0" y1="261.0" x2="130.0" y2="261.0" stroke="#444" stroke-width="0.5"/>
<rect x="136.80" y="202.00" width="81.40" height="61.00" fill="#000"/>
<g fill="none"><path d="M143.5 215.3h0M164.2 204.6h0M187.0 234.0h0M174.0 207.5h0M208.4 205.4h0M138.2 236.2h0M148.4 260.4h0M137.5 229.3h0M192.3 248.5h0M138.6 260.9h0M195.4 252.5h0M185.1 254.4h0M196.1 218.6h0M166.1 227.2h0M153.2 230.4h0M177.5 208.0h0M137.7 242.7h0M182.1 250.8h0M210.7 211.2h0M148.9 228.8h0M146.0 214.3h0M180.8 257.6h0M207.5 240.3h0M166.9 256.3h0M145.2 222.8h0M208.9 220.9h0M169.9 239.1h0M166.5 225.8h0M205.5 251.9h0M195.6 207.1h0M191.5 243.2h0M178.5 236.7h0M169.5 214.1h0M173.2 203.0h0M190.6 230.5h0M166.0 213.9h0M212.9 229.0h0M184.1 214.4h0M142.8 253.8h0M166.4 216.1h0M167.3 220.0h0M186.3 243.8h0M137.5 210.0h0M209.7 203.6h0M137.6 261.4h0M168.9 241.3h0M183.0 230.0h0M151.0 233.0h0M180.2 233.5h0M145.3 221.4h0M201.4 252.1h0M182.7 250.9h0M141.6 250.0h0M183.8 245.0h0M187.1 233.5h0M195.9 246.2h0M198.7 250.9h0M183.0 226.6h0M165.6 216.2h0M183.8 233.4h0M157.5 253.3h0M201.3 208.9h0M183.7 220.1h0M170.7 212.3h0M163.4 221.2h0M150.9 218.5h0M206.9 224.1h0M169.7 239.8h0M147.3 225.7h0M156.5 217.9h0M181.6 235.4h0" stroke="rgb(115,16,3)" stroke-width="1.0" stroke-linecap="round"/><path d="M177.2 245.7h0M206.7 210.4h0M168.1 237.3h0M137.7 252.3h0M207.4 244.2h0M174.6 242.7h0M170.2 208.6h0M190.8 206.8h0M140.4 256.0h0M149.2 248.9h0M215.9 220.0h0M176.9 246.7h0M140.3 228.1h0M200.6 233.8h0M170.7 224.2h0M169.8 215.4h0M173.3 241.6h0M214.9 211.2h0M174.0 207.8h0M196.3 245.3h0M179.0 244.6h0M205.4 213.6h0M199.4 207.5h0M203.7 247.7h0M191.0 260.4h0M191.3 252.8h0M216.4 229.0h0M194.1 255.5h0M201.7 240.0h0M158.5 261.6h0M147.3 204.3h0M205.0 212.5h0M200.0 244.1h0M197.9 254.4h0M140.5 223.4h0M145.4 247.3h0M214.2 226.3h0M217.2 248.5h0M201.2 212.2h0M178.3 239.0h0M186.2 208.2h0M164.3 230.4h0M168.8 255.9h0M185.0 239.6h0M144.5 227.8h0M152.2 241.1h0M203.0 246.3h0M194.4 258.3h0M180.4 205.4h0M138.3 235.4h0M195.6 250.4h0M186.9 222.1h0M201.6 224.6h0M150.6 227.5h0M152.5 252.2h0M180.7 219.1h0M188.1 233.3h0M161.8 238.4h0M187.6 235.6h0M162.3 237.8h0M145.3 236.1h0M137.3 205.7h0" stroke="rgb(205,42,8)" stroke-width="1.0" stroke-linecap="round"/><path d="M163.9 205.9h0M204.9 219.9h0M182.9 236.3h0M216.9 213.7h0M144.1 233.6h0M160.9 217.4h0M158.3 213.1h0M202.8 230.2h0M184.8 221.7h0M145.5 219.2h0M163.7 238.2h0M213.5 247.3h0M161.0 235.9h0M177.0 211.4h0M197.0 213.4h0M170.3 247.0h0M175.9 254.2h0M207.7 244.2h0M201.9 228.3h0M216.4 241.5h0M160.2 244.8h0M157.4 248.0h0M149.3 248.6h0M201.6 217.8h0M200.3 233.3h0M204.2 206.0h0M180.5 235.4h0M171.0 250.9h0M205.9 237.6h0M170.3 230.2h0M174.4 246.6h0M204.5 224.2h0M150.6 249.8h0M159.6 204.1h0M214.7 251.3h0M179.5 255.9h0M170.0 253.2h0M166.1 238.9h0M186.8 219.3h0M211.2 246.4h0M169.8 228.2h0M188.4 262.4h0M148.2 240.4h0M178.7 227.6h0" stroke="rgb(175,32,6)" stroke-width="1.3" stroke-linecap="round"/><path d="M167.1 202.5h0M179.5 231.6h0M213.8 232.0h0M146.0 202.6h0M200.1 221.4h0M203.3 204.6h0M169.5 213.9h0M146.0 243.4h0M208.6 229.3h0M157.9 245.2h0M213.7 259.6h0M167.0 239.6h0M200.9 203.8h0M199.4 262.0h0M154.0 261.2h0M195.4 240.3h0M198.4 261.7h0M201.3 215.0h0M164.4 261.7h0M213.4 216.7h0M193.3 218.8h0M147.0 218.6h0M168.4 225.8h0M204.5 234.9h0M201.4 231.0h0M206.4 260.4h0M177.2 252.6h0M211.7 228.9h0M217.4 202.8h0M202.6 202.6h0M157.5 216.5h0M145.6 248.4h0M158.5 214.5h0M148.1 234.8h0M141.0 210.0h0M214.5 241.3h0M201.4 213.8h0M158.6 242.5h0M174.1 259.2h0M204.0 245.6h0M199.6 228.5h0M187.8 221.6h0M207.7 231.4h0M139.9 248.2h0M200.2 203.5h0M155.5 220.7h0M157.6 225.6h0M154.3 215.2h0M165.3 241.9h0M195.0 215.0h0M178.7 243.1h0M191.6 233.3h0M156.5 249.7h0M162.6 206.5h0M186.4 204.3h0M156.7 258.7h0M195.0 221.1h0M213.6 245.9h0M196.6 249.3h0" stroke="rgb(115,16,3)" stroke-width="1.3" stroke-linecap="round"/><path d="M204.6 259.7h0M138.0 213.3h0M161.6 225.6h0M148.4 217.4h0M158.4 243.3h0M191.6 248.5h0M155.8 229.0h0M161.8 213.4h0M145.4 259.8h0M165.1 210.8h0M187.7 220.7h0M148.3 229.0h0M213.6 216.0h0M174.0 225.7h0M178.3 213.0h0M202.1 233.6h0M191.2 246.5h0M170.1 203.9h0M141.5 216.1h0M140.5 254.8h0M141.9 228.3h0M185.5 206.8h0M166.3 233.0h0M205.8 242.1h0M170.0 203.4h0M158.7 243.6h0M151.9 210.7h0M149.5 218.3h0M212.3 240.4h0M215.4 218.3h0M213.9 238.0h0M165.4 222.4h0M172.2 246.5h0M212.7 241.4h0M213.9 215.6h0M215.3 230.8h0M182.6 227.9h0M180.3 219.4h0M214.0 229.0h0M189.0 203.4h0M170.3 241.7h0M171.6 250.4h0M174.7 240.4h0M197.8 205.4h0M161.8 240.1h0M139.9 221.7h0M156.2 220.5h0M206.7 239.7h0M143.2 206.9h0M149.8 261.9h0M199.6 218.4h0M190.1 244.5h0M158.2 255.6h0M170.9 235.6h0M197.9 203.2h0M181.1 240.6h0M167.6 227.3h0M151.6 212.5h0M213.1 215.7h0M142.6 223.5h0M146.8 220.9h0M142.3 233.9h0M206.8 248.4h0M142.0 238.9h0M210.5 257.9h0M196.4 213.6h0M179.7 228.2h0M146.9 261.5h0M140.8 255.3h0M171.4 232.1h0M155.5 206.6h0M173.9 226.1h0M206.6 248.5h0" stroke="rgb(85,10,2)" stroke-width="1.0" stroke-linecap="round"/><path d="M172.6 228.4h0M150.8 251.4h0M212.9 220.7h0M216.1 215.1h0M157.2 221.6h0M167.6 230.9h0M171.1 207.6h0M187.9 238.6h0M147.1 246.9h0M175.9 206.6h0M153.4 244.4h0M168.9 203.0h0M208.9 244.7h0M156.8 226.4h0M214.2 229.9h0M196.5 247.4h0M153.4 241.6h0M163.3 243.9h0M181.2 206.2h0M150.4 220.2h0M145.5 214.2h0M177.8 242.7h0M195.3 225.0h0M186.6 238.5h0M214.9 243.9h0M170.3 215.9h0M169.2 215.3h0M183.2 256.9h0M153.4 233.0h0M196.4 216.5h0M192.6 221.8h0M164.7 211.2h0M202.3 220.7h0M139.2 220.1h0M188.0 225.1h0M166.9 211.8h0M145.9 206.4h0M183.4 254.4h0M193.0 212.8h0M158.5 251.3h0M167.3 261.1h0M139.9 223.6h0M210.1 228.5h0M178.7 233.9h0M200.8 208.8h0M197.6 244.6h0M197.6 231.0h0M138.7 238.8h0M157.7 207.9h0M201.8 235.0h0M190.3 258.6h0M170.3 251.6h0M166.5 261.3h0M181.6 221.5h0M171.9 219.4h0M195.3 254.0h0M196.0 242.1h0M184.8 248.4h0M171.4 241.7h0M176.3 252.3h0" stroke="rgb(205,42,8)" stroke-width="1.3" stroke-linecap="round"/><path d="M165.7 212.3h0M155.7 222.3h0M180.3 209.9h0M161.6 233.9h0M171.0 203.5h0M151.6 227.0h0M198.5 222.0h0M150.5 214.1h0M167.0 214.9h0M153.9 248.2h0M171.8 252.9h0M200.0 248.0h0M137.9 261.9h0M191.2 236.7h0M178.7 220.6h0M189.5 232.6h0M179.3 222.7h0M196.1 254.1h0M146.9 259.0h0M206.5 246.4h0M166.4 221.4h0M148.1 247.5h0M173.8 204.1h0M177.5 261.2h0M173.2 232.6h0M160.0 207.0h0M139.7 243.6h0M172.0 244.8h0M195.8 226.9h0M144.7 226.6h0M194.0 224.3h0M153.0 227.6h0M170.9 237.7h0M190.0 219.0h0M175.1 216.8h0M193.1 224.7h0M157.4 256.6h0M148.1 238.9h0M191.0 219.9h0M166.1 233.3h0M186.1 258.7h0M209.1 239.2h0M156.0 255.4h0M189.2 226.8h0M178.7 249.3h0M177.0 207.4h0M152.5 259.5h0M208.7 253.7h0M213.5 214.8h0M188.4 216.2h0M182.4 249.0h0M197.6 234.4h0M212.6 243.2h0M195.2 222.0h0M212.5 210.8h0M163.4 262.3h0M190.4 241.6h0M179.0 261.3h0M180.3 232.3h0M152.5 222.5h0M166.6 252.8h0M198.5 252.2h0M137.4 218.6h0M150.7 205.1h0M165.2 219.1h0M197.8 253.7h0M199.4 204.8h0M180.2 246.7h0M216.6 248.5h0M203.6 205.1h0M192.9 203.4h0M213.6 233.7h0M185.3 242.3h0" stroke="rgb(175,32,6)" stroke-width="1.0" stroke-linecap="round"/><path d="M183.6 207.4h0M176.7 232.8h0M147.6 243.6h0M165.3 239.4h0M189.5 253.0h0M210.3 223.5h0M183.9 253.6h0M157.5 204.9h0M213.5 245.1h0M139.7 209.7h0M174.0 217.2h0M160.6 233.4h0M190.6 246.4h0M149.8 232.4h0M178.8 228.1h0M168.8 209.1h0M196.2 213.8h0M195.5 257.1h0M162.6 260.0h0M160.2 229.4h0M170.3 252.2h0M211.4 220.6h0M200.6 204.1h0M166.7 233.3h0M161.0 243.5h0M142.0 220.6h0M158.9 208.0h0M175.6 240.0h0M175.5 216.6h0M205.7 257.3h0M148.7 236.3h0M170.3 250.7h0M148.7 258.1h0M143.9 222.5h0M199.7 235.6h0M152.0 244.5h0M164.7 208.3h0M146.4 239.8h0M155.9 251.2h0M157.2 240.1h0M204.6 221.8h0M189.5 208.2h0M157.4 224.1h0M181.3 228.4h0M179.4 223.8h0M147.0 221.2h0M176.2 251.7h0M145.3 233.1h0M178.1 251.9h0M181.8 257.7h0M173.8 260.7h0M185.0 228.4h0M152.6 252.3h0M197.4 224.5h0M212.4 256.7h0M200.0 225.2h0M167.9 203.9h0M163.9 255.9h0M152.6 220.8h0M145.7 243.9h0M149.2 225.7h0M149.9 255.1h0M215.6 239.6h0M209.8 235.1h0M211.4 242.6h0M205.3 239.5h0M163.2 207.4h0M209.2 212.3h0M185.9 238.8h0M147.6 218.0h0M187.7 225.5h0M143.9 243.2h0M159.1 232.4h0M202.4 233.4h0M213.0 258.8h0M181.8 227.1h0M216.5 258.1h0M147.5 257.6h0M172.9 214.1h0" stroke="rgb(145,24,4)" stroke-width="1.0" stroke-linecap="round"/><path d="M142.8 223.4h0M177.7 260.8h0M161.8 241.9h0M167.8 214.4h0M194.2 226.8h0M154.6 230.8h0M193.8 229.5h0M173.5 253.1h0M161.2 243.7h0M144.3 238.4h0M211.9 212.9h0M146.0 220.9h0M212.3 239.5h0M158.1 214.1h0M159.0 261.5h0M206.3 239.8h0M172.9 234.4h0M143.5 241.9h0M197.5 254.0h0M180.2 225.1h0M161.0 204.4h0M197.3 244.5h0M143.3 258.4h0M213.6 212.4h0M141.4 235.2h0M142.3 242.4h0M137.8 232.7h0M166.1 249.8h0M189.6 224.2h0M177.9 223.2h0M207.0 214.0h0M191.2 251.6h0M208.3 238.4h0M155.7 241.4h0M196.7 219.6h0M161.8 222.8h0M152.4 239.6h0M143.7 254.3h0M151.6 209.8h0M213.6 246.9h0M197.4 233.9h0M203.7 252.9h0M145.5 207.5h0M194.9 210.1h0M196.7 220.9h0M171.9 257.1h0M160.8 225.6h0M173.1 245.7h0M200.3 234.9h0M177.7 229.7h0M194.9 258.6h0M145.2 233.8h0M138.2 246.0h0M171.0 242.0h0" stroke="rgb(85,10,2)" stroke-width="1.3" stroke-linecap="round"/><path d="M163.2 260.3h0M143.1 239.2h0M198.4 208.0h0M146.6 228.8h0M189.6 256.4h0M197.3 220.4h0M142.2 217.8h0M166.1 246.6h0M172.2 222.6h0M197.5 230.4h0M153.9 231.7h0M148.3 260.1h0M164.7 214.8h0M176.3 252.4h0M165.6 207.3h0M203.3 235.5h0M206.3 215.3h0M158.3 206.9h0M216.1 218.9h0M162.4 250.8h0M158.5 245.9h0M186.0 218.0h0M140.6 206.6h0M147.0 238.9h0M169.2 211.3h0M212.2 206.3h0M210.0 239.8h0M158.1 229.5h0M170.0 246.2h0M169.6 216.1h0M163.9 202.6h0M162.5 236.3h0M177.6 232.9h0M170.0 243.1h0M212.5 222.1h0M172.6 208.7h0M192.5 218.3h0M173.1 218.5h0M206.7 225.9h0M153.1 256.6h0M196.3 211.7h0M191.2 236.8h0M204.7 205.9h0M204.5 207.5h0M206.5 210.4h0" stroke="rgb(145,24,4)" stroke-width="1.3" stroke-linecap="round"/><path d="M177.0 221.5h0M198.9 228.9h0M211.6 212.6h0M173.9 227.8h0" stroke="rgb(40,150,40)" stroke-width="1.3" stroke-linecap="round"/><path d="M209.8 259.0h0M209.2 259.9h0M209.1 258.7h0M188.3 233.7h0M188.6 234.5h0M187.7 235.0h0M181.8 258.0h0M180.5 258.0h0M182.1 257.5h0M173.6 207.8h0M173.8 206.5h0M174.3 207.1h0M196.5 215.3h0M196.9 215.6h0M197.4 215.1h0M169.2 205.9h0M169.5 205.8h0M168.3 205.2h0" stroke="rgb(200,45,15)" stroke-width="1.9" stroke-linecap="round"/><path d="M155.7 220.3h0M155.9 219.8h0M156.5 220.3h0M156.9 221.2h0M156.9 220.3h0M156.3 221.6h0M156.1 221.8h0M155.8 220.1h0M159.9 244.8h0M159.4 245.3h0M159.5 245.1h0M160.0 244.4h0M161.3 244.0h0M160.8 244.6h0M161.1 245.1h0M160.1 245.0h0M183.4 245.6h0M184.1 245.9h0M182.9 245.4h0M184.3 245.3h0M182.6 246.6h0M182.9 246.2h0M183.3 244.8h0M183.1 245.4h0" stroke="rgb(190,38,12)" stroke-width="1.0" stroke-linecap="round"/><path d="M156.4 221.0h0M156.5 221.1h0M156.6 221.2h0M160.3 244.7h0M161.1 244.7h0M160.9 244.7h0M183.5 245.5h0M183.0 246.2h0M183.1 246.1h0" stroke="rgb(225,62,18)" stroke-width="0.9" stroke-linecap="round"/><path d="M186.8 217.9h0M186.4 218.6h0M187.2 218.7h0M186.6 217.7h0M186.5 217.4h0M186.1 218.3h0M185.7 217.2h0M186.6 218.2h0M201.5 225.2h0M200.3 224.0h0M201.8 224.4h0M200.4 224.3h0M200.3 224.6h0M200.1 224.7h0M200.9 224.9h0M204.5 233.6h0M204.8 234.3h0M204.0 235.0h0M204.1 234.4h0M203.7 234.5h0M204.5 233.6h0M204.2 233.8h0" stroke="rgb(190,38,12)" stroke-width="0.9" stroke-linecap="round"/><path d="M187.0 218.0h0M185.9 217.7h0M185.9 217.7h0M200.9 224.5h0M200.9 224.5h0M201.5 224.6h0M203.8 234.7h0M204.3 234.4h0M203.9 234.6h0" stroke="rgb(225,62,18)" stroke-width="0.8" stroke-linecap="round"/><path d="M141.9 228.2h0M142.2 229.0h0M142.6 229.4h0M142.6 229.1h0M142.4 228.5h0M143.3 229.1h0M141.9 228.5h0M175.8 254.3h0M174.4 254.2h0M174.3 253.4h0M174.6 253.8h0M175.4 254.6h0M174.1 253.7h0M175.2 253.7h0M210.6 204.0h0M210.2 203.6h0M211.4 203.0h0M210.3 203.1h0M210.9 204.7h0M210.5 204.4h0M210.7 204.0h0M201.3 260.6h0M201.1 259.3h0M201.8 260.1h0M201.5 260.5h0M201.4 259.8h0M201.2 259.2h0M201.3 259.1h0" stroke="rgb(190,38,12)" stroke-width="0.8" stroke-linecap="round"/><path d="M142.7 229.1h0M142.3 228.7h0M142.4 228.7h0M174.5 253.7h0M175.4 253.9h0M175.4 253.9h0M210.9 203.8h0M210.9 203.7h0M210.9 204.2h0M200.7 260.3h0M201.1 260.0h0M201.2 259.8h0" stroke="rgb(225,62,18)" stroke-width="0.7" stroke-linecap="round"/></g>
<path d="M140.8 258.4V259.8H161.8V258.4" fill="none" stroke="#6f7a68" stroke-width="0.5"/>
<line x1="211.2" y1="261.0" x2="216.2" y2="261.0" stroke="#444" stroke-width="0.5"/>
<rect x="222.90" y="202.00" width="79.30" height="61.00" fill="#000"/>
<g fill="none"><path d="M268.1 240.4h0M232.6 205.9h0M257.4 251.1h0M247.1 252.1h0M299.4 237.9h0M266.5 246.8h0M249.5 213.3h0M233.7 213.1h0M287.6 241.2h0M229.6 231.3h0M289.0 225.1h0M226.8 259.0h0M294.8 212.1h0M298.6 244.7h0M231.5 215.0h0M233.2 260.5h0M255.0 250.1h0M265.1 219.7h0M266.2 252.1h0M231.4 228.9h0M299.4 242.6h0M283.4 240.4h0M250.4 240.1h0M238.2 244.1h0M254.9 253.9h0M251.5 209.7h0M233.3 209.3h0M234.3 218.3h0M293.0 216.0h0M228.8 205.4h0M265.0 242.4h0M287.1 260.0h0M287.0 254.1h0M286.9 260.0h0M275.5 247.5h0M245.6 213.5h0M257.0 256.6h0M271.6 255.0h0M224.5 244.9h0M294.5 230.8h0M246.4 260.6h0M243.6 234.8h0M244.5 224.3h0M237.4 236.0h0M240.4 225.1h0M301.0 231.3h0M250.9 237.2h0" stroke="rgb(145,24,4)" stroke-width="1.3" stroke-linecap="round"/><path d="M260.9 255.3h0M232.1 254.9h0M256.4 232.9h0M241.2 208.0h0M297.5 227.4h0M293.8 234.4h0M263.1 221.1h0M250.9 219.9h0M250.9 260.2h0M258.5 220.7h0M250.9 247.5h0M239.5 210.8h0M301.0 241.5h0M279.4 251.5h0M291.7 222.9h0M223.9 202.9h0M278.3 255.8h0M278.5 221.1h0M236.8 258.3h0M291.4 204.3h0M252.1 260.5h0M224.4 228.0h0M275.9 251.2h0M279.9 216.2h0M228.4 261.7h0M301.0 249.7h0M235.4 247.5h0M272.6 205.9h0M263.1 209.7h0M297.1 225.0h0M239.0 218.6h0M298.4 211.4h0M280.9 203.8h0M253.8 232.4h0M294.0 248.2h0M229.1 245.4h0M228.0 240.4h0M300.9 214.1h0M294.2 240.5h0M259.4 214.0h0M271.2 202.8h0M294.2 261.3h0M239.0 205.8h0M230.1 255.4h0M263.6 253.5h0M228.9 229.8h0M287.8 215.8h0M247.0 241.7h0M268.0 255.8h0M259.1 230.5h0M259.3 239.1h0" stroke="rgb(205,42,8)" stroke-width="1.0" stroke-linecap="round"/><path d="M238.0 241.6h0M248.5 223.7h0M295.0 221.7h0M255.9 210.3h0M242.4 246.1h0M281.6 257.3h0M271.3 245.3h0M278.4 214.3h0M294.2 247.7h0M264.7 233.5h0M275.1 247.8h0M271.8 210.8h0M277.5 226.0h0M261.4 203.7h0M284.7 233.8h0M265.3 214.2h0M264.0 228.6h0M301.0 218.4h0M274.7 212.9h0M283.8 216.9h0M280.3 203.5h0M281.7 209.9h0M257.5 228.0h0M290.5 229.2h0M230.1 238.9h0M242.8 254.7h0M264.5 258.8h0M298.3 209.8h0M266.4 223.8h0M259.2 241.4h0M242.1 226.6h0M232.5 250.6h0M232.9 244.8h0M241.6 242.1h0M227.5 217.3h0M271.0 257.7h0M288.4 244.1h0M253.8 215.9h0M255.8 251.5h0M272.6 204.1h0" stroke="rgb(205,42,8)" stroke-width="1.3" stroke-linecap="round"/><path d="M248.5 243.7h0M297.3 240.6h0M301.3 261.9h0M233.0 221.8h0M276.4 225.8h0M228.9 231.4h0M292.7 258.3h0M286.5 232.4h0M249.0 210.2h0M225.2 207.2h0M262.2 238.5h0M243.1 228.5h0M250.9 209.7h0M257.3 233.1h0M224.3 240.5h0M280.4 261.1h0M249.9 232.9h0M279.3 204.3h0M236.3 241.0h0M254.9 213.7h0M298.6 203.6h0M236.0 230.4h0M238.8 212.5h0M284.7 214.3h0M249.8 208.8h0M240.8 218.3h0M250.0 210.0h0M282.8 237.1h0M268.6 202.9h0M285.9 234.6h0M243.4 204.0h0M242.0 233.6h0M276.9 206.3h0M227.9 241.2h0M285.7 239.8h0M260.4 212.2h0M292.7 260.9h0M268.8 258.3h0M247.7 240.6h0M294.2 235.7h0M255.3 214.7h0M274.1 261.4h0M234.1 255.2h0M274.9 240.1h0M240.4 203.4h0M266.5 232.7h0M241.0 229.8h0M244.5 216.5h0M293.8 229.6h0M295.2 238.8h0M271.4 227.8h0M289.6 222.6h0M239.2 258.6h0M268.5 243.5h0M255.9 223.5h0M237.7 212.1h0M248.8 229.8h0M242.5 212.2h0" stroke="rgb(145,24,4)" stroke-width="1.0" stroke-linecap="round"/><path d="M264.0 256.4h0M269.6 229.8h0M249.6 207.8h0M250.5 209.5h0M271.7 247.6h0M238.2 214.5h0M223.5 212.0h0M266.4 219.2h0M293.6 257.1h0M284.3 245.9h0M236.6 206.4h0M294.0 224.8h0M249.7 238.6h0M234.4 238.1h0M232.9 256.7h0M289.6 208.5h0M230.7 226.0h0M231.9 217.2h0M272.4 224.1h0M271.4 209.0h0M245.1 228.4h0M246.6 233.4h0M234.5 225.0h0M292.5 211.3h0M249.5 230.3h0M249.8 202.6h0M263.1 208.6h0M301.1 234.7h0M289.2 253.3h0M266.8 212.5h0M281.8 256.6h0M243.0 238.5h0M252.5 222.8h0M227.2 222.4h0M291.9 254.3h0M254.7 257.9h0M247.8 233.0h0M256.3 241.1h0M290.6 244.7h0M265.0 219.8h0" stroke="rgb(175,32,6)" stroke-width="1.3" stroke-linecap="round"/><path d="M287.2 219.3h0M227.9 219.0h0M248.3 259.9h0M264.7 252.8h0M249.3 251.1h0M231.5 213.7h0M288.7 210.4h0M231.0 260.5h0M286.4 214.2h0M265.3 237.5h0M296.1 241.9h0M235.5 224.8h0M247.1 221.1h0M292.2 252.7h0M251.1 245.3h0M227.7 232.5h0M225.7 249.6h0M270.3 243.4h0M224.0 243.0h0M232.1 249.2h0M284.0 225.3h0M227.2 224.3h0M229.7 258.0h0M232.8 260.9h0M277.6 242.7h0M249.2 221.0h0M246.4 232.4h0M255.6 216.4h0M282.7 215.7h0M272.5 244.0h0M264.0 209.8h0M277.8 241.9h0M258.8 221.8h0M260.8 222.9h0M281.2 223.5h0M252.2 218.1h0M228.5 221.2h0M224.8 247.6h0M226.0 221.9h0M300.5 228.9h0M253.0 206.4h0M238.3 257.6h0M229.7 224.1h0M299.0 206.1h0M284.0 208.3h0M249.1 225.3h0M281.6 224.7h0M235.4 219.2h0M253.1 235.7h0M260.0 226.3h0M267.0 229.6h0M301.1 239.9h0M296.9 215.1h0M241.3 260.9h0M280.1 230.3h0M277.1 242.7h0M258.9 253.3h0M240.4 243.1h0M234.4 219.0h0M287.0 242.8h0" stroke="rgb(115,16,3)" stroke-width="1.0" stroke-linecap="round"/><path d="M254.3 213.6h0M294.6 246.3h0M282.2 237.7h0M290.6 211.8h0M287.1 210.8h0M269.5 215.1h0M253.7 247.6h0M241.0 205.0h0M286.1 229.1h0M252.3 228.9h0M262.6 250.2h0M287.9 233.6h0M279.5 253.9h0M269.8 235.9h0M262.9 233.7h0M225.2 257.3h0M275.1 213.0h0M285.5 223.5h0M225.3 256.3h0M270.8 250.2h0M297.8 215.7h0M235.3 256.4h0M238.6 226.2h0M263.1 223.3h0M263.3 209.8h0M272.6 221.6h0M243.6 214.3h0M293.9 225.0h0M233.0 231.9h0M226.5 247.4h0M241.7 230.6h0M295.9 205.9h0M287.9 205.7h0M243.5 261.8h0M290.7 231.1h0M228.3 218.5h0M256.7 212.3h0M240.9 221.7h0M294.8 224.3h0M261.6 222.6h0M264.4 206.3h0M236.4 262.1h0M253.7 211.2h0M273.6 221.5h0M224.0 233.2h0M243.8 246.0h0M265.2 239.1h0M288.6 221.5h0M249.7 236.8h0M244.7 234.2h0M283.3 234.9h0M246.6 226.7h0M230.9 249.9h0M226.1 251.5h0M235.5 220.2h0M256.6 258.3h0M255.4 216.7h0M252.0 219.2h0M258.9 221.7h0M245.7 218.6h0M264.1 260.0h0M296.8 211.8h0M301.2 226.1h0M252.5 229.8h0M265.1 226.0h0" stroke="rgb(85,10,2)" stroke-width="1.0" stroke-linecap="round"/><path d="M251.9 240.1h0M228.4 208.1h0M297.8 206.8h0M268.3 262.2h0M291.3 260.6h0M259.7 221.9h0M281.0 216.7h0M293.9 204.4h0M265.1 214.5h0M286.2 224.4h0M235.4 218.9h0M287.3 250.0h0M267.3 254.9h0M224.4 225.0h0M253.8 226.0h0M282.3 229.9h0M290.2 207.7h0M290.2 253.8h0M281.8 247.4h0M265.4 234.7h0M248.0 220.7h0M251.5 215.9h0M227.5 220.8h0M289.9 219.5h0M249.1 226.0h0M284.3 242.2h0M232.7 218.0h0M299.5 222.5h0M298.6 211.4h0M275.5 239.1h0M225.5 208.0h0M287.8 208.0h0M284.7 249.0h0M266.9 262.3h0M265.4 261.2h0M234.1 254.9h0M253.7 215.9h0M235.4 262.2h0M237.2 229.7h0M254.3 260.5h0M242.3 232.4h0M244.7 223.2h0M259.5 207.9h0M267.3 253.5h0M290.4 211.2h0M232.8 258.1h0M228.1 248.6h0" stroke="rgb(85,10,2)" stroke-width="1.3" stroke-linecap="round"/><path d="M273.1 245.9h0M229.5 209.5h0M257.3 238.3h0M282.5 223.3h0M281.3 233.5h0M295.7 249.9h0M243.4 224.4h0M227.9 250.4h0M280.9 210.4h0M272.5 248.1h0M291.7 218.7h0M238.1 214.8h0M236.8 226.5h0M277.7 245.2h0M243.7 248.5h0M290.8 222.9h0M237.5 233.6h0M249.6 207.9h0M240.0 215.1h0M274.0 208.0h0M225.3 211.6h0M293.5 230.3h0M275.5 231.2h0M261.9 260.0h0M244.8 260.6h0M234.8 216.5h0M293.2 250.8h0M301.2 257.9h0M299.5 234.4h0M287.2 229.9h0M254.1 243.1h0M248.7 246.5h0M238.6 233.3h0M235.1 247.5h0M269.6 252.1h0M299.4 241.8h0M224.4 254.3h0M265.2 224.1h0M274.5 230.4h0M271.4 240.2h0" stroke="rgb(115,16,3)" stroke-width="1.3" stroke-linecap="round"/><path d="M298.7 231.4h0M236.9 245.9h0M276.1 210.2h0M290.5 245.0h0M294.5 240.1h0M255.8 203.3h0M299.0 254.6h0M275.6 234.9h0M227.0 215.1h0M262.1 243.8h0M279.8 253.7h0M297.4 261.2h0M237.0 222.3h0M296.7 209.4h0M301.1 257.5h0M279.7 217.9h0M274.5 203.5h0M224.4 211.7h0M296.1 226.1h0M281.0 252.0h0M277.5 212.2h0M268.3 239.4h0M225.6 252.6h0M249.6 220.7h0M244.9 242.5h0M225.7 223.4h0M297.7 244.5h0M246.2 261.7h0M286.3 233.4h0M283.6 222.8h0M244.4 228.5h0M269.1 223.1h0M291.6 262.0h0M291.7 210.6h0M268.3 251.2h0M232.4 257.5h0M277.8 212.7h0M277.8 250.0h0M251.0 215.3h0M230.6 239.5h0M245.2 218.2h0M251.0 220.3h0M249.0 234.4h0M259.6 213.6h0M235.1 203.6h0M244.1 217.1h0M250.6 228.6h0M290.1 212.5h0M285.3 219.7h0M292.4 216.8h0M272.1 203.2h0M271.2 233.5h0M250.4 242.9h0M248.4 244.8h0M255.4 230.9h0M229.5 259.4h0M224.8 242.8h0M287.8 220.9h0M291.2 252.4h0M242.5 234.6h0M245.6 258.6h0M249.6 217.6h0M267.7 229.1h0M240.7 235.1h0M286.7 236.8h0" stroke="rgb(175,32,6)" stroke-width="1.0" stroke-linecap="round"/><path d="M247.8 233.7h0M288.5 251.4h0M236.0 250.6h0M284.0 207.7h0" stroke="rgb(40,150,40)" stroke-width="1.3" stroke-linecap="round"/><path d="M293.4 222.7h0M294.5 223.2h0M293.5 221.6h0M244.7 258.2h0M244.7 258.2h0M244.7 257.3h0M282.4 230.4h0M281.2 230.7h0M282.3 230.4h0M265.9 258.7h0M264.9 258.2h0M264.6 258.2h0M227.1 222.8h0M226.6 222.8h0M227.2 222.6h0M280.1 262.6h0M280.1 262.2h0M280.1 261.0h0" stroke="rgb(200,45,15)" stroke-width="1.9" stroke-linecap="round"/><path d="M223.6 209.6h0M224.3 210.5h0M223.9 209.3h0M224.5 209.9h0M223.5 208.9h0M224.1 208.1h0M224.3 209.9h0M224.8 208.9h0M223.8 209.0h0M229.0 234.4h0M229.5 234.9h0M227.1 235.0h0M229.0 234.2h0M227.9 234.5h0M227.9 235.7h0M229.2 234.8h0M229.8 235.0h0M276.4 225.0h0M275.4 223.4h0M275.8 224.1h0M276.1 224.5h0M274.8 223.4h0M275.4 223.6h0M274.6 223.9h0M275.6 222.6h0M239.7 245.3h0M239.0 244.6h0M238.7 244.6h0M238.2 245.0h0M239.2 245.4h0M238.5 245.3h0M237.8 242.9h0M239.1 243.7h0M266.0 244.4h0M267.3 245.4h0M267.6 245.4h0M266.6 245.6h0M266.3 245.0h0M267.1 244.6h0M267.1 244.0h0M265.7 244.6h0" stroke="rgb(205,50,14)" stroke-width="1.2" stroke-linecap="round"/><path d="M224.8 210.1h0M224.8 210.1h0M224.4 209.2h0" stroke="rgb(240,95,20)" stroke-width="1.1" stroke-linecap="round"/><path d="M224.5 209.0h0M228.2 225.5h0M228.3 235.3h0M276.5 223.9h0M238.7 244.5h0M266.5 244.9h0M256.5 251.8h0M289.1 238.9h0" stroke="rgb(255,160,35)" stroke-width="0.7" stroke-linecap="round"/><path d="M227.5 224.6h0M228.6 224.5h0M228.3 225.0h0M227.1 225.1h0M227.7 224.7h0M229.9 225.5h0M227.5 225.1h0M228.9 226.0h0M257.4 253.2h0M256.7 253.1h0M256.3 252.3h0M256.4 250.7h0M257.4 251.0h0M257.6 251.3h0M256.4 251.1h0M257.1 252.6h0M288.9 237.9h0M288.7 238.4h0M289.4 237.7h0M289.7 239.1h0M289.9 238.2h0M290.0 237.9h0M289.1 239.0h0M288.7 237.5h0" stroke="rgb(205,50,14)" stroke-width="1.1" stroke-linecap="round"/><path d="M228.8 225.5h0M228.7 225.4h0M228.8 225.5h0M228.1 235.0h0M228.8 234.9h0M228.7 234.9h0M275.5 223.5h0M275.4 223.5h0M275.4 223.4h0M238.8 243.9h0M238.8 244.5h0M238.8 244.1h0M266.4 244.3h0M266.8 245.5h0M266.6 244.9h0M256.9 252.7h0M257.0 251.8h0M257.0 252.3h0M289.5 238.4h0M289.5 237.9h0M289.5 238.2h0" stroke="rgb(240,95,20)" stroke-width="1.0" stroke-linecap="round"/><path d="M289.7 232.6h0M289.0 232.4h0M288.0 232.9h0M289.0 234.2h0M288.6 233.1h0M289.5 233.2h0M289.4 233.0h0M287.7 233.8h0" stroke="rgb(205,50,14)" stroke-width="1.0" stroke-linecap="round"/><path d="M288.8 233.0h0M288.9 232.8h0M288.4 233.7h0" stroke="rgb(240,95,20)" stroke-width="0.9" stroke-linecap="round"/><path d="M288.8 233.5h0M248.3 215.8h0M271.7 232.0h0M284.2 258.8h0M243.2 212.6h0" stroke="rgb(255,160,35)" stroke-width="0.6" stroke-linecap="round"/><path d="M248.4 215.7h0M248.6 215.0h0M248.4 215.1h0M248.1 216.5h0M248.4 216.1h0M248.2 217.0h0M248.2 216.6h0M248.5 217.0h0M272.1 232.4h0M272.8 231.3h0M272.4 232.9h0M271.9 231.1h0M272.6 231.2h0M271.8 231.0h0M272.6 231.6h0M271.0 232.5h0M283.7 259.6h0M284.7 258.3h0M284.3 259.4h0M284.4 258.5h0M283.4 259.5h0M284.7 258.4h0M284.1 257.6h0M284.6 258.1h0M242.5 212.6h0M242.2 212.7h0M242.4 211.5h0M241.9 212.5h0M241.9 212.4h0M242.3 212.0h0M242.5 211.7h0M242.6 213.5h0" stroke="rgb(205,50,14)" stroke-width="0.9" stroke-linecap="round"/><path d="M248.3 216.2h0M248.3 215.9h0M248.3 216.4h0M271.9 232.2h0M272.2 231.6h0M272.0 232.1h0M283.9 258.8h0M284.0 258.7h0M284.4 258.4h0M242.8 212.5h0M242.7 212.4h0M242.6 212.2h0" stroke="rgb(240,95,20)" stroke-width="0.8" stroke-linecap="round"/></g>
<path d="M226.9 258.4V259.8H247.9V258.4" fill="none" stroke="#6f7a68" stroke-width="0.5"/>
<line x1="295.2" y1="261.0" x2="300.2" y2="261.0" stroke="#444" stroke-width="0.5"/>
<rect x="48.30" y="266.90" width="83.70" height="68.00" fill="#000"/>
<g fill="none"><path d="M80.3 282.9h0M96.6 313.6h0M50.6 276.4h0M91.0 307.3h0M123.5 286.9h0M51.0 318.3h0M93.8 327.2h0M54.7 293.5h0M118.7 334.1h0M52.8 324.0h0M56.0 313.1h0M61.0 290.9h0M55.7 278.2h0M112.0 277.3h0M67.8 274.0h0M101.7 304.3h0M101.0 269.7h0M53.3 279.9h0M73.0 334.0h0M111.0 332.2h0M102.1 310.7h0M107.1 295.7h0M71.3 326.9h0M106.9 283.3h0M58.3 292.8h0M111.9 279.1h0M80.5 314.0h0M124.1 297.6h0M86.8 281.3h0M75.9 288.3h0M91.2 331.8h0M67.1 300.4h0M53.9 296.1h0M91.3 302.3h0M118.5 310.5h0M127.2 279.5h0M112.9 274.4h0M73.5 294.4h0M60.8 309.5h0M82.5 297.1h0M119.2 321.8h0M96.2 275.2h0M78.7 318.6h0M117.1 333.9h0M124.6 287.6h0M60.8 313.1h0M84.5 277.3h0M84.5 300.9h0M82.1 325.5h0M53.6 330.2h0M83.8 269.4h0M105.3 283.3h0M106.7 304.5h0M116.4 278.2h0M86.3 273.5h0M113.9 315.6h0M130.2 275.3h0M53.2 325.3h0M88.3 287.7h0M74.6 325.0h0M106.0 282.7h0M108.6 316.8h0M122.8 312.3h0M90.6 319.9h0M105.4 285.2h0M101.1 313.2h0M106.4 283.3h0M61.4 284.1h0M75.7 294.6h0M113.1 320.0h0M109.6 306.3h0M123.9 329.5h0M100.8 293.6h0M95.0 316.1h0M104.9 280.4h0M106.4 275.5h0M128.5 314.5h0M64.7 284.5h0M62.4 311.7h0M131.0 321.6h0M71.2 315.0h0M74.2 303.2h0M64.1 303.7h0M81.6 314.5h0M75.4 288.6h0M120.4 279.1h0M124.6 302.7h0M65.4 305.0h0M50.4 315.8h0M103.9 278.0h0M57.4 301.5h0M120.4 295.7h0M102.6 285.5h0M100.9 300.1h0M70.3 275.9h0M75.2 312.1h0M91.4 316.5h0M76.4 288.1h0M97.7 327.4h0M114.6 296.4h0M130.3 293.8h0M103.9 288.3h0M121.2 285.7h0M109.4 332.0h0M66.2 326.5h0M92.3 274.4h0M52.7 325.4h0M75.6 310.6h0M111.5 310.7h0M54.5 314.8h0M49.2 323.6h0M103.1 323.8h0M91.7 293.6h0M81.0 314.5h0M103.3 305.4h0" stroke="rgb(175,32,6)" stroke-width="1.0" stroke-linecap="round"/><path d="M119.3 318.5h0M103.5 323.6h0M110.9 316.4h0M66.5 282.5h0M54.1 283.3h0M116.8 269.4h0M125.0 328.1h0M90.2 307.2h0M67.1 325.9h0M51.0 306.9h0M95.8 315.7h0M92.3 330.0h0M106.8 305.8h0M98.4 311.9h0M61.3 296.4h0M115.6 301.2h0M59.1 330.4h0M67.1 331.0h0M89.6 304.2h0M111.4 269.3h0M66.2 298.4h0M77.8 314.1h0M92.6 294.9h0M63.4 329.8h0M97.5 289.8h0M100.5 274.2h0M76.8 287.3h0M81.3 287.4h0M95.8 307.4h0M91.1 286.3h0M123.6 319.6h0M120.7 291.2h0M54.4 307.2h0M105.1 311.0h0M109.4 310.3h0M70.1 290.9h0M104.2 317.2h0M88.2 268.3h0M77.1 330.6h0M80.9 304.3h0M113.7 313.4h0M109.5 280.8h0M106.3 308.5h0M111.1 287.3h0M82.6 297.6h0M51.8 302.8h0M118.3 268.0h0M118.2 331.4h0M118.8 286.0h0M114.3 291.6h0M80.5 268.9h0M77.1 273.4h0M88.8 327.5h0M61.2 269.4h0M56.5 330.2h0M86.6 319.6h0M78.0 304.1h0M113.3 324.1h0M85.0 302.6h0M71.5 291.7h0M127.3 314.3h0M63.4 278.8h0M52.7 274.3h0M125.2 282.8h0M96.9 295.9h0M96.1 276.0h0M72.5 316.1h0M129.4 310.2h0M115.6 299.7h0M122.0 274.5h0M78.2 290.2h0M121.7 303.4h0M70.0 325.0h0M96.0 320.6h0M101.1 311.5h0M128.2 282.6h0M111.7 318.2h0M115.6 313.8h0M129.5 270.7h0M95.3 306.8h0M66.3 272.3h0M100.0 318.8h0M127.0 316.3h0M83.3 304.9h0M70.2 274.6h0M87.6 269.1h0M60.7 281.0h0M98.5 323.6h0M99.2 309.9h0M90.1 287.9h0M123.4 321.0h0M53.3 303.5h0M111.1 305.5h0M53.2 320.5h0M64.7 310.1h0M95.7 280.2h0M64.8 323.9h0M99.0 269.8h0M91.7 277.2h0M92.1 271.5h0" stroke="rgb(115,16,3)" stroke-width="1.0" stroke-linecap="round"/><path d="M130.4 333.1h0M66.3 313.4h0M120.7 286.1h0M64.8 312.0h0M51.9 281.0h0M62.0 313.8h0M115.0 331.4h0M113.4 310.8h0M79.0 331.0h0M68.8 281.6h0M55.7 301.5h0M56.1 272.9h0M72.8 294.0h0M77.8 333.7h0M118.0 320.8h0M55.7 297.1h0M50.3 292.7h0M67.6 328.3h0M97.3 284.2h0M80.2 331.1h0M50.6 303.6h0M97.2 330.1h0M108.2 330.3h0M58.0 279.2h0M51.7 313.0h0M98.2 282.0h0M119.0 316.0h0M49.1 294.8h0M98.0 277.4h0M118.9 311.1h0M68.6 300.3h0M124.8 275.9h0M53.1 316.9h0M124.9 332.9h0M108.8 296.6h0M50.6 325.6h0M106.0 311.3h0M127.4 288.0h0M116.5 303.5h0M83.6 326.9h0M87.5 303.3h0M113.7 289.5h0M118.1 280.3h0M125.5 306.4h0M118.3 311.8h0M95.0 311.9h0M54.7 320.0h0M92.1 277.3h0M59.4 292.3h0M66.9 329.8h0M63.7 291.7h0M82.6 332.6h0M111.6 292.9h0M64.6 322.3h0M61.0 316.5h0M128.1 297.1h0M50.3 270.5h0M113.4 295.3h0M82.7 296.4h0M65.0 334.1h0M68.5 286.8h0M73.8 289.1h0M76.4 332.2h0M54.4 272.8h0M117.6 317.1h0M88.4 281.7h0M65.0 268.1h0M126.4 305.5h0M123.7 291.6h0M55.5 280.9h0M111.7 315.7h0M124.4 302.4h0M78.4 302.7h0M120.2 272.7h0M72.2 320.5h0M116.3 310.1h0M111.4 308.9h0M81.5 314.0h0M84.9 269.2h0M81.5 281.7h0M117.7 285.9h0M73.8 298.6h0M115.1 274.6h0M102.3 283.5h0M112.4 284.5h0M118.0 279.9h0M57.7 321.0h0M68.1 293.4h0M65.9 296.8h0M114.2 293.5h0M63.6 270.5h0M51.0 273.1h0M112.9 279.2h0M70.1 277.7h0M59.1 326.8h0" stroke="rgb(145,24,4)" stroke-width="1.0" stroke-linecap="round"/><path d="M102.9 309.0h0M54.8 291.5h0M126.5 322.7h0M116.9 285.6h0M108.9 293.2h0M80.9 327.4h0M82.3 291.1h0M124.8 327.6h0M91.4 327.7h0M106.9 325.5h0M125.8 281.1h0M130.7 300.4h0M100.3 277.3h0M111.2 310.5h0M127.5 295.2h0M113.1 327.8h0M56.0 311.5h0M52.2 286.6h0M64.1 329.1h0M111.3 274.8h0M105.8 308.0h0M57.1 275.1h0M87.0 291.6h0M54.5 316.0h0M101.8 275.1h0M116.8 322.3h0M52.5 301.5h0M92.5 312.7h0M91.3 276.7h0M61.3 311.2h0M85.1 303.2h0M90.0 291.4h0M70.1 291.9h0M88.5 288.5h0M128.1 294.8h0M77.2 282.3h0M68.5 292.6h0M107.2 316.6h0M55.7 320.5h0M69.9 289.0h0M103.1 287.0h0M82.5 292.0h0M96.8 277.6h0M77.0 274.7h0M123.3 291.8h0M66.1 319.4h0M120.3 273.4h0M57.4 289.9h0M104.9 291.1h0M109.8 304.1h0M126.3 326.0h0M85.3 325.6h0M127.6 287.6h0M73.6 306.5h0M122.4 305.5h0M117.8 305.1h0M57.1 319.2h0M78.5 295.5h0M84.3 288.0h0M101.3 328.4h0M123.2 326.8h0M93.9 308.5h0M122.6 285.3h0M93.0 279.8h0M109.6 304.5h0M126.6 297.3h0M113.9 307.8h0M71.0 314.4h0M82.3 287.7h0M69.7 325.8h0M49.4 290.3h0M58.3 288.2h0M66.6 296.5h0M66.3 284.5h0M89.2 334.0h0M112.8 275.0h0M88.2 330.3h0M67.1 292.0h0M118.2 323.1h0M108.6 269.8h0M101.2 301.3h0M120.3 314.1h0M98.1 281.9h0M70.8 294.0h0M109.4 314.0h0M120.5 282.0h0M88.6 300.3h0M100.0 287.8h0M68.2 279.6h0M128.1 293.3h0M59.0 299.3h0M65.4 319.2h0M122.2 295.0h0M76.8 321.0h0M101.4 284.1h0M58.2 320.2h0" stroke="rgb(205,42,8)" stroke-width="1.0" stroke-linecap="round"/><path d="M51.5 325.5h0M104.2 275.7h0M50.6 311.4h0M98.5 274.1h0M116.8 297.4h0M101.6 301.8h0M114.8 299.9h0M127.1 322.1h0M85.5 297.3h0M104.2 308.4h0M112.1 277.9h0M64.2 297.4h0M109.6 289.1h0M108.7 289.8h0M64.7 271.2h0M69.5 280.3h0M107.0 324.9h0M80.0 314.9h0M109.3 272.7h0M80.0 284.2h0M53.0 275.8h0M77.5 295.4h0M127.5 316.4h0M69.2 270.2h0M127.1 333.6h0M49.1 319.6h0M77.8 283.3h0M93.0 305.2h0M85.8 283.0h0M121.1 329.1h0M66.2 302.6h0M108.0 327.2h0M87.7 282.5h0M117.2 282.1h0M125.3 273.9h0M99.1 332.8h0M110.1 267.6h0M126.8 288.7h0M58.8 323.8h0M111.4 296.5h0M82.5 278.5h0M114.2 267.7h0M125.0 285.2h0M85.6 274.4h0M93.4 279.2h0M101.3 309.9h0M93.6 328.8h0M124.6 273.6h0M112.9 313.1h0M57.5 307.4h0M50.0 324.7h0M95.6 323.1h0M79.2 311.5h0M113.5 309.8h0M81.5 325.3h0M106.0 269.9h0M68.1 318.6h0M80.3 282.0h0M53.7 302.7h0M93.6 293.8h0M111.9 281.9h0M86.2 303.3h0M78.1 289.7h0M103.3 302.0h0M106.0 274.0h0M85.4 293.5h0M69.7 323.9h0M85.2 323.7h0M98.7 289.3h0M118.0 267.8h0M113.4 299.9h0M103.3 295.2h0M120.5 292.7h0M97.6 282.3h0M115.0 289.0h0M123.9 323.3h0M59.4 268.0h0M95.7 299.7h0M128.8 285.4h0" stroke="rgb(115,16,3)" stroke-width="1.3" stroke-linecap="round"/><path d="M53.2 288.7h0M114.0 273.0h0M88.8 284.3h0M50.6 300.6h0M95.6 331.9h0M102.0 329.4h0M85.6 328.4h0M65.4 290.5h0M87.6 295.6h0M61.0 270.8h0M59.3 303.1h0M88.1 307.3h0M83.2 280.5h0M115.4 287.7h0M67.4 320.5h0M116.8 281.8h0M62.8 294.0h0M55.2 324.0h0M98.5 315.7h0M83.2 281.2h0M52.3 320.8h0M50.9 278.6h0M110.0 324.9h0M117.2 315.9h0M78.2 318.8h0M130.1 308.5h0M102.7 323.4h0M67.1 289.0h0M105.1 288.0h0M72.4 317.5h0M72.0 313.9h0M82.4 284.9h0M119.6 278.4h0M81.5 280.9h0M74.5 301.4h0M67.2 269.9h0M53.4 329.8h0M120.2 300.0h0M48.8 286.8h0M100.2 286.8h0M49.5 298.4h0M105.6 332.7h0M86.6 291.3h0M75.6 293.6h0M82.6 289.7h0M124.3 316.3h0M105.0 278.9h0M62.2 305.7h0M68.2 287.3h0M91.3 317.1h0M52.4 325.0h0M74.8 297.8h0M68.8 319.6h0M100.1 330.2h0M91.4 280.2h0M127.9 330.4h0M74.7 320.0h0M80.9 291.7h0M55.7 301.6h0M92.2 267.5h0M74.2 330.1h0M86.5 315.0h0M57.8 268.0h0M75.0 270.3h0M86.0 306.2h0M89.4 271.7h0M64.3 325.4h0M59.2 276.0h0" stroke="rgb(205,42,8)" stroke-width="1.3" stroke-linecap="round"/><path d="M96.6 296.5h0M108.0 315.7h0M82.8 332.6h0M82.1 300.3h0M111.0 292.3h0M64.9 327.9h0M86.6 272.9h0M116.0 331.6h0M92.1 278.1h0M55.5 272.3h0M117.3 289.1h0M92.7 307.3h0M102.7 287.1h0M103.2 331.9h0M85.3 282.8h0M126.8 268.2h0M58.4 283.8h0M115.6 296.1h0M55.3 320.0h0M113.0 328.6h0M60.4 318.9h0M70.8 305.5h0M127.1 296.5h0M89.7 299.1h0M74.0 292.5h0M117.4 290.3h0M88.7 302.3h0M129.1 282.9h0M74.3 296.2h0M106.5 316.4h0M72.9 308.4h0M127.8 299.6h0M83.7 289.3h0M62.5 310.2h0M58.3 277.6h0M104.6 280.5h0M102.6 280.0h0M52.1 267.7h0M54.0 326.0h0M115.9 283.2h0M88.4 297.5h0M101.4 274.7h0M78.4 297.1h0M84.0 270.4h0M79.3 283.8h0M94.7 293.8h0M49.3 291.7h0M55.9 301.7h0M101.9 273.3h0M82.1 281.5h0M96.9 286.4h0M90.5 322.5h0M52.6 271.1h0M117.9 323.2h0M50.4 326.7h0M99.1 319.5h0M79.5 281.9h0M61.2 316.5h0M81.1 272.4h0M60.6 313.2h0M67.8 326.0h0M49.5 283.3h0M50.8 307.6h0M93.6 314.3h0M62.2 325.0h0M57.5 330.5h0M85.8 296.0h0M87.1 292.1h0M73.9 313.5h0M99.7 317.0h0M91.7 301.6h0M131.3 320.5h0M105.1 312.4h0M51.7 284.1h0M117.2 274.9h0M115.1 306.1h0M88.4 269.8h0M53.2 326.7h0M84.7 318.5h0M69.2 298.9h0" stroke="rgb(85,10,2)" stroke-width="1.3" stroke-linecap="round"/><path d="M73.7 277.2h0M130.4 314.6h0M103.0 317.6h0M85.0 316.5h0M71.7 273.3h0M111.1 325.9h0M102.4 283.1h0M84.0 272.0h0M128.5 294.1h0M82.0 321.7h0M101.0 273.6h0M57.6 318.7h0M70.7 318.1h0M61.1 277.7h0M92.4 314.9h0M126.3 281.4h0M123.2 304.9h0M119.7 305.2h0M117.6 308.9h0M66.2 293.6h0M96.2 329.6h0M104.4 319.5h0M114.5 275.6h0M110.4 296.5h0M62.2 279.3h0M71.0 313.0h0M73.8 316.8h0M74.1 284.9h0M69.7 332.0h0M71.4 272.0h0M108.8 308.9h0M128.6 268.8h0M111.3 305.2h0M104.7 273.8h0M131.2 276.2h0M127.0 283.2h0M119.6 315.1h0M110.8 270.0h0M113.7 276.2h0M80.5 281.5h0M98.9 290.2h0M53.9 279.6h0M87.8 326.8h0M53.0 289.2h0M100.9 312.1h0M100.5 307.0h0M77.0 331.0h0M73.4 310.1h0M85.6 311.2h0M68.5 323.4h0M97.2 301.0h0M111.4 316.4h0M116.4 309.6h0M123.8 296.5h0M51.3 285.2h0M112.9 279.5h0M79.8 311.7h0M88.0 300.8h0M73.4 271.5h0M62.5 273.1h0M92.6 288.4h0M75.8 329.9h0M125.3 290.7h0M108.0 300.8h0M99.7 285.4h0M52.5 301.2h0M59.3 286.6h0M114.5 302.4h0M77.9 277.2h0M85.7 301.6h0M105.5 310.8h0M71.3 280.3h0M100.8 292.4h0M99.7 270.8h0M88.8 281.5h0M55.9 269.6h0M99.2 293.4h0M58.4 311.1h0M116.1 329.2h0M49.1 285.3h0M95.2 298.3h0M118.7 315.7h0M73.2 317.6h0M64.3 306.1h0M98.8 313.8h0M67.0 304.8h0M49.1 332.9h0M59.1 305.3h0M99.0 285.7h0M84.7 313.0h0M75.0 310.7h0M115.2 297.7h0M100.6 324.6h0" stroke="rgb(175,32,6)" stroke-width="1.3" stroke-linecap="round"/><path d="M84.0 317.3h0M103.0 289.0h0M89.6 275.6h0M70.2 292.8h0M75.5 292.0h0M75.9 301.6h0M50.2 288.2h0M63.1 278.1h0M74.9 327.9h0M115.2 269.1h0M125.4 287.0h0M70.4 283.5h0M130.3 323.5h0M90.6 299.7h0M94.7 294.2h0M116.8 321.8h0M84.6 294.9h0M98.4 276.8h0M89.6 316.0h0M58.4 304.9h0M55.5 324.6h0M79.8 318.6h0M80.2 305.5h0M56.3 309.4h0M54.5 301.8h0M94.6 331.3h0M121.4 301.3h0M86.1 275.5h0M88.2 332.8h0M121.0 280.3h0M71.8 290.3h0M66.5 282.6h0M72.7 330.2h0M50.2 276.6h0M131.2 287.7h0M128.9 295.5h0M68.1 278.4h0M90.2 319.9h0M82.4 310.3h0M116.6 322.5h0M64.1 325.4h0M50.0 292.8h0M122.2 329.9h0M112.2 320.6h0M115.0 331.6h0M68.9 303.1h0M65.8 267.5h0M51.2 321.7h0M122.1 331.7h0M69.1 274.2h0M111.9 331.5h0M104.0 305.5h0M119.1 297.6h0M94.7 279.6h0M107.2 273.7h0M101.9 294.4h0M52.0 290.1h0M105.5 283.5h0M129.0 294.5h0M55.7 275.1h0M75.5 322.5h0M90.8 313.5h0M68.6 299.4h0M92.5 268.0h0M120.6 301.5h0M131.5 295.8h0M57.5 309.2h0M103.9 298.8h0M86.4 327.9h0M90.5 277.3h0M93.6 291.9h0M65.4 333.6h0M123.5 319.5h0M76.5 302.8h0M125.8 325.0h0M52.6 268.1h0M106.7 310.2h0M71.7 278.9h0M106.7 272.8h0M71.6 288.8h0M78.0 319.6h0M76.9 307.1h0M117.0 295.9h0M91.9 275.1h0M75.3 308.4h0M121.5 301.1h0M71.8 291.5h0M97.8 302.0h0M110.3 272.7h0M113.1 294.8h0M83.3 297.2h0M61.1 268.6h0M72.8 271.7h0M99.6 296.2h0M86.7 308.7h0M131.4 332.7h0M94.6 314.6h0M63.2 272.5h0M63.2 283.9h0M59.1 289.2h0" stroke="rgb(85,10,2)" stroke-width="1.0" stroke-linecap="round"/><path d="M115.6 309.1h0M94.5 300.8h0M122.9 328.7h0M121.3 304.1h0M56.0 327.6h0M97.9 280.4h0M91.9 307.2h0M82.0 272.6h0M108.4 331.9h0M85.7 285.0h0M51.3 286.8h0M53.6 309.1h0M67.9 286.6h0M87.3 333.6h0M88.1 326.5h0M69.8 302.8h0M131.1 285.1h0M125.5 285.0h0M102.9 329.3h0M114.5 302.4h0M91.9 268.7h0M81.2 290.8h0M57.4 288.2h0M58.8 289.1h0M107.0 322.5h0M130.8 303.9h0M126.8 312.8h0M97.5 285.5h0M70.8 278.8h0M61.9 276.5h0M61.4 272.3h0M95.8 329.4h0M129.3 313.4h0M111.8 285.2h0M57.3 283.8h0M124.7 279.0h0M92.0 269.3h0M51.7 302.2h0M120.6 317.8h0M98.3 293.1h0M121.5 276.8h0M53.1 282.7h0M53.4 279.4h0M102.6 312.7h0M124.8 294.7h0M93.2 270.8h0M50.9 282.2h0M56.0 316.3h0M95.6 278.1h0M94.0 313.1h0M124.5 284.9h0M59.5 279.3h0M55.9 282.9h0M83.1 297.7h0M58.6 296.6h0M124.2 296.8h0M88.6 324.3h0M55.2 316.0h0M80.4 326.7h0M126.8 333.3h0M115.4 289.3h0M58.0 302.2h0M89.7 330.6h0" stroke="rgb(145,24,4)" stroke-width="1.3" stroke-linecap="round"/><path d="M125.3 327.9h0M68.2 300.4h0M62.9 282.4h0M69.2 324.3h0" stroke="rgb(40,150,40)" stroke-width="1.3" stroke-linecap="round"/><path d="M59.0 308.5h0M60.0 308.4h0M60.3 308.8h0M95.8 307.6h0M95.5 308.7h0M95.7 307.5h0" stroke="rgb(200,45,15)" stroke-width="1.9" stroke-linecap="round"/></g>
<path d="M52.3 330.3V331.7H73.3V330.3" fill="none" stroke="#6f7a68" stroke-width="0.5"/>
<line x1="125.0" y1="332.9" x2="130.0" y2="332.9" stroke="#444" stroke-width="0.5"/>
<rect x="136.80" y="266.90" width="81.40" height="68.00" fill="#000"/>
<g fill="none"><path d="M188.7 269.1h0M184.8 269.5h0M183.7 314.6h0M198.1 325.1h0M199.1 290.2h0M202.9 332.9h0M172.5 302.1h0M142.4 268.8h0M210.1 325.0h0M197.4 271.2h0M187.2 305.1h0M197.0 277.8h0M181.2 323.3h0M211.7 283.3h0M172.4 333.3h0M157.8 314.9h0M169.9 323.3h0M172.8 312.7h0M155.4 280.7h0M163.0 303.6h0M170.1 303.8h0M164.3 312.9h0M169.2 315.3h0M182.0 302.0h0M165.6 297.8h0M147.0 280.3h0M141.0 271.1h0M183.5 298.8h0M187.6 285.1h0M194.1 314.5h0M187.6 318.3h0M162.3 268.3h0M156.9 304.3h0M194.0 321.8h0M198.4 314.6h0M200.7 269.6h0M210.4 287.6h0M139.9 292.2h0M142.8 318.7h0M137.9 287.6h0M197.4 279.2h0M207.3 317.4h0M143.4 309.8h0M156.3 277.2h0M195.3 270.3h0M160.2 318.5h0" stroke="rgb(115,16,3)" stroke-width="1.0" stroke-linecap="round"/><path d="M148.5 274.3h0M155.0 306.9h0M199.5 333.4h0M206.8 271.0h0M142.2 316.2h0M152.1 298.4h0M149.7 287.3h0M141.9 301.4h0M186.5 333.5h0M191.0 304.6h0M177.9 284.2h0M177.0 283.7h0M204.3 293.5h0M204.9 329.0h0M210.2 307.1h0M217.7 290.8h0M150.8 308.1h0M145.5 319.2h0M190.5 272.0h0M189.2 300.3h0M214.9 284.3h0M149.5 321.7h0M208.8 316.6h0M144.6 331.8h0M160.5 330.7h0M211.9 296.8h0M159.4 305.3h0M184.3 322.5h0M140.9 269.9h0M184.5 316.1h0M144.7 281.6h0M202.7 283.0h0M143.2 272.8h0M205.3 332.7h0M186.3 311.5h0M142.9 317.0h0M208.3 277.8h0M177.5 323.2h0M175.0 309.7h0M205.2 274.2h0M181.9 274.3h0" stroke="rgb(85,10,2)" stroke-width="1.3" stroke-linecap="round"/><path d="M177.9 269.2h0M202.2 316.3h0M201.0 295.7h0M156.7 305.4h0M159.7 299.9h0M145.1 296.3h0M157.3 280.1h0M211.8 324.3h0M167.8 333.4h0M162.7 317.8h0M170.6 309.6h0M168.1 277.6h0M213.1 287.4h0M176.6 285.7h0M201.3 305.3h0M205.8 323.1h0M164.3 300.5h0M151.3 272.4h0M198.7 279.1h0M211.0 279.6h0M191.2 324.9h0M173.9 288.5h0M206.8 322.7h0M170.5 280.0h0M160.0 287.4h0M207.2 333.1h0M156.1 319.4h0M207.2 326.0h0M143.3 319.8h0M160.9 292.5h0M209.8 312.8h0M213.3 333.6h0M192.8 298.0h0M183.5 333.9h0M215.1 321.3h0M210.9 282.2h0M145.1 326.8h0M138.6 285.2h0M174.1 332.0h0M205.4 296.0h0M167.9 307.4h0M171.9 326.9h0M190.8 292.5h0M165.6 306.1h0M146.5 286.1h0M165.5 279.6h0M198.7 286.8h0M169.2 317.1h0M211.4 325.2h0M156.9 306.9h0M198.4 311.3h0M177.9 279.0h0M185.1 330.2h0M162.1 331.1h0M174.4 286.3h0" stroke="rgb(175,32,6)" stroke-width="1.0" stroke-linecap="round"/><path d="M198.3 278.1h0M167.8 291.5h0M197.4 296.1h0M185.5 300.1h0M147.6 299.2h0M187.1 295.5h0M208.0 292.2h0M146.6 332.4h0M140.4 307.4h0M187.4 311.8h0M178.1 312.1h0M144.8 331.2h0M148.0 298.5h0M172.7 315.2h0M158.2 289.3h0M205.6 322.5h0M174.7 322.7h0M154.4 320.9h0M161.0 294.5h0M175.4 303.0h0M152.7 316.9h0M216.1 323.2h0M151.7 268.3h0M192.7 298.9h0M203.8 272.2h0M215.2 298.9h0M206.9 297.3h0M181.7 303.8h0M177.1 269.9h0M207.4 269.8h0M210.7 277.0h0M205.9 274.5h0M138.4 303.4h0M138.5 320.3h0M179.6 317.4h0M147.4 309.2h0M169.4 316.3h0M151.8 314.5h0M197.3 281.8h0M174.6 305.2h0M167.3 286.4h0M164.1 306.4h0M189.2 295.8h0M152.7 334.4h0M207.5 270.9h0" stroke="rgb(145,24,4)" stroke-width="1.0" stroke-linecap="round"/><path d="M149.8 331.5h0M167.1 281.4h0M203.4 321.3h0M154.9 334.2h0M185.2 298.8h0M215.4 318.5h0M149.6 318.5h0M207.9 323.1h0M137.9 314.8h0M156.8 299.1h0M172.9 325.1h0M189.7 303.6h0M185.1 312.6h0M213.0 305.6h0M178.0 276.3h0M212.8 276.4h0M144.7 295.8h0M196.9 304.4h0M171.9 270.2h0M209.6 281.5h0M158.8 320.2h0M139.2 280.3h0M191.9 323.9h0M206.2 318.7h0M189.0 276.5h0M157.6 272.9h0M197.9 331.0h0M187.3 283.4h0M199.8 278.4h0M188.6 317.8h0M203.4 294.2h0M206.5 333.7h0M177.5 300.5h0M217.7 312.4h0M217.1 328.6h0M164.6 320.2h0M217.5 317.4h0M193.1 327.9h0M182.8 320.5h0M197.3 290.1h0M178.6 274.7h0M142.7 323.1h0M197.2 292.4h0M184.5 305.0h0M150.0 288.3h0M186.1 295.2h0M179.7 288.1h0M194.3 295.4h0M204.2 329.0h0M206.8 309.4h0M165.6 272.4h0M141.9 323.1h0M186.7 301.4h0M145.6 327.6h0M189.0 289.4h0" stroke="rgb(85,10,2)" stroke-width="1.0" stroke-linecap="round"/><path d="M143.6 287.0h0M154.3 330.6h0M148.8 276.8h0M192.0 275.1h0M173.8 331.3h0M194.6 294.1h0M195.0 281.0h0M208.2 269.1h0M166.6 272.1h0M191.8 327.9h0M190.3 286.4h0M173.5 317.8h0M198.9 302.3h0M182.6 282.0h0M199.7 292.9h0M171.5 303.9h0M147.3 313.5h0M189.4 277.7h0M210.5 317.3h0M187.8 327.9h0M153.4 320.1h0M180.0 328.6h0M210.8 330.7h0M191.6 299.0h0M204.3 308.6h0M206.1 274.1h0M159.6 333.3h0M195.8 328.3h0M207.1 315.7h0M155.3 274.7h0M173.5 321.7h0M217.0 302.5h0M191.9 270.9h0M142.6 273.7h0" stroke="rgb(145,24,4)" stroke-width="1.3" stroke-linecap="round"/><path d="M167.9 297.8h0M186.3 278.9h0M174.5 285.5h0M192.3 323.9h0M207.3 287.4h0M179.7 308.0h0M176.0 325.3h0M212.5 281.1h0M164.1 276.2h0M146.3 330.7h0M165.7 304.9h0M200.2 295.0h0M165.4 322.4h0M180.6 316.6h0M217.2 275.3h0M186.3 317.0h0M211.6 320.2h0M139.6 309.6h0M138.5 277.1h0M199.7 282.8h0M188.5 309.0h0M144.5 287.2h0M141.4 289.7h0M201.5 274.8h0M145.3 314.4h0M210.1 290.8h0M157.6 324.5h0M162.2 311.4h0M149.7 279.5h0M215.0 322.1h0" stroke="rgb(115,16,3)" stroke-width="1.3" stroke-linecap="round"/><path d="M154.4 300.8h0M160.2 314.1h0M158.7 276.2h0M206.3 282.3h0M215.0 286.1h0M181.9 280.3h0M171.9 306.3h0M216.4 308.4h0M209.1 325.0h0M154.9 321.3h0M141.3 284.1h0M213.7 327.1h0M204.1 304.1h0M198.5 292.8h0M212.0 306.0h0M188.4 322.9h0M151.5 302.4h0M156.9 298.5h0M195.2 300.1h0M185.1 322.6h0M178.2 285.7h0M206.8 285.9h0M189.5 324.5h0M214.0 309.4h0M186.3 293.0h0M174.2 312.1h0M148.6 332.2h0M167.1 331.0h0M142.2 285.9h0M170.3 325.9h0M191.5 285.6h0M165.1 274.8h0M215.0 278.9h0M185.9 301.0h0M190.5 326.1h0M215.3 308.3h0M156.1 283.4h0M210.0 280.4h0M204.1 273.5h0" stroke="rgb(175,32,6)" stroke-width="1.3" stroke-linecap="round"/><path d="M207.3 328.5h0M170.9 294.3h0M167.7 293.6h0M145.1 283.3h0" stroke="rgb(40,150,40)" stroke-width="1.3" stroke-linecap="round"/><path d="M163.5 274.1h0M162.4 273.5h0M163.9 274.4h0M203.7 318.2h0M204.6 317.0h0M203.2 317.3h0M212.3 308.6h0M211.9 307.3h0M211.9 308.4h0M187.9 272.0h0M187.3 272.3h0M187.4 272.5h0M160.6 268.1h0M160.3 268.3h0M161.0 267.7h0" stroke="rgb(200,45,15)" stroke-width="1.9" stroke-linecap="round"/><path d="M147.9 283.2h0M148.4 285.2h0M147.0 285.3h0M148.7 284.2h0M147.3 284.4h0M149.9 284.4h0M147.8 285.0h0M147.8 283.3h0M149.6 284.1h0M148.7 283.4h0M173.1 283.7h0M174.9 284.5h0M173.7 284.5h0M173.1 286.6h0M174.8 284.5h0M174.3 284.4h0M173.1 284.1h0M174.3 283.6h0M173.0 284.1h0M172.3 285.7h0M185.0 280.1h0M186.5 278.2h0M185.6 281.2h0M186.5 279.3h0M185.0 279.0h0M184.3 279.7h0M186.0 277.9h0M185.9 279.5h0M186.7 279.3h0M185.6 278.4h0M172.3 306.2h0M172.3 307.7h0M172.1 305.5h0M171.5 306.9h0M173.7 306.7h0M171.6 307.8h0M171.1 307.2h0M173.9 306.9h0M173.0 304.7h0M173.2 305.6h0M150.5 314.3h0M149.5 313.8h0M148.6 313.1h0M148.7 313.4h0M151.8 313.1h0M149.6 312.7h0M151.7 312.3h0M151.8 314.0h0M151.4 313.0h0M149.4 313.4h0M163.3 323.0h0M163.3 321.9h0M163.7 321.4h0M164.7 321.9h0M162.2 321.3h0M162.5 322.8h0M165.0 322.3h0M164.4 322.1h0M163.4 322.0h0M164.9 322.5h0M185.9 321.8h0M187.4 321.2h0M187.0 319.2h0M186.0 322.4h0M187.5 320.3h0M186.7 321.0h0M188.0 319.1h0M185.5 321.3h0M187.4 320.8h0M187.2 322.2h0" stroke="rgb(215,62,14)" stroke-width="1.6" stroke-linecap="round"/><path d="M147.4 284.0h0M147.7 284.0h0M147.0 284.1h0M158.6 289.9h0M158.6 290.0h0M159.8 290.5h0M173.5 284.4h0M173.2 284.9h0M173.0 285.2h0M185.5 279.4h0M185.5 279.3h0M186.0 280.9h0M172.4 306.5h0M173.5 305.8h0M172.3 306.5h0M150.4 313.0h0M150.5 313.1h0M151.0 313.4h0M162.7 322.0h0M163.2 321.9h0M163.3 321.8h0M186.3 321.7h0M186.5 320.2h0M186.5 320.4h0M211.5 283.7h0M211.5 283.7h0M211.8 283.6h0" stroke="rgb(248,125,24)" stroke-width="1.4" stroke-linecap="round"/><path d="M148.2 283.6h0M173.0 284.8h0M185.2 279.5h0M172.7 306.4h0M150.3 313.1h0M162.7 321.9h0M186.6 321.0h0" stroke="rgb(255,195,55)" stroke-width="1.0" stroke-linecap="round"/><path d="M159.0 291.4h0M157.6 288.6h0M159.3 291.3h0M158.4 289.3h0M158.1 290.6h0M159.2 288.9h0M159.5 289.7h0M160.4 289.5h0M159.5 289.7h0M159.8 290.3h0M211.4 284.2h0M210.2 285.1h0M212.0 282.3h0M211.9 282.4h0M210.1 283.5h0M211.6 282.8h0M211.6 283.5h0M212.0 284.6h0M210.3 284.8h0M212.1 282.4h0" stroke="rgb(215,62,14)" stroke-width="1.5" stroke-linecap="round"/><path d="M158.6 289.7h0M143.3 299.2h0M193.8 314.7h0M194.2 288.6h0M210.7 283.9h0" stroke="rgb(255,195,55)" stroke-width="0.9" stroke-linecap="round"/><path d="M143.5 297.9h0M141.8 297.3h0M142.2 294.9h0M141.0 296.9h0M143.7 294.9h0M143.6 294.4h0M141.0 297.0h0M141.0 297.4h0M141.9 298.2h0M142.3 297.0h0M143.1 295.3h0" stroke="rgb(215,62,14)" stroke-width="1.8" stroke-linecap="round"/><path d="M142.6 295.2h0M142.5 296.7h0M142.5 296.7h0" stroke="rgb(248,125,24)" stroke-width="1.6" stroke-linecap="round"/><path d="M142.2 296.0h0" stroke="rgb(255,195,55)" stroke-width="1.1" stroke-linecap="round"/><path d="M144.1 301.1h0M142.6 299.0h0M142.8 299.4h0M142.5 300.4h0M141.8 299.4h0M142.4 298.4h0M143.9 300.0h0M143.2 299.2h0M144.1 299.0h0M193.8 314.5h0M193.6 314.4h0M194.9 314.8h0M194.8 314.2h0M194.3 314.4h0M192.5 315.5h0M193.4 314.8h0M193.7 313.6h0M193.1 316.0h0M193.6 287.8h0M194.3 288.0h0M193.8 289.7h0M194.1 288.7h0M194.5 289.0h0M193.6 288.5h0M193.3 288.0h0M192.9 288.8h0M193.6 288.6h0M207.2 290.8h0M207.1 291.8h0M208.0 291.7h0M206.6 290.5h0M208.1 290.1h0M206.4 292.0h0M207.1 291.5h0M207.6 291.3h0M207.5 290.6h0" stroke="rgb(215,62,14)" stroke-width="1.4" stroke-linecap="round"/><path d="M143.0 299.3h0M142.6 298.9h0M143.3 299.5h0M194.0 313.9h0M194.1 313.5h0M193.8 314.5h0M192.9 289.4h0M193.8 288.6h0M194.0 288.5h0" stroke="rgb(248,125,24)" stroke-width="1.3" stroke-linecap="round"/><path d="M142.0 317.0h0M141.6 319.5h0M141.6 320.1h0M140.0 317.5h0M142.2 317.8h0M142.0 316.6h0M142.0 317.5h0M139.2 316.0h0M141.3 319.5h0M139.8 320.2h0M139.6 319.5h0" stroke="rgb(215,62,14)" stroke-width="2.0" stroke-linecap="round"/><path d="M140.9 318.6h0M140.8 317.0h0M140.8 316.9h0" stroke="rgb(248,125,24)" stroke-width="1.8" stroke-linecap="round"/><path d="M141.4 317.9h0" stroke="rgb(255,195,55)" stroke-width="1.2" stroke-linecap="round"/><path d="M207.5 291.6h0M207.6 291.2h0M207.7 290.3h0" stroke="rgb(248,125,24)" stroke-width="1.2" stroke-linecap="round"/><path d="M207.7 290.7h0" stroke="rgb(255,195,55)" stroke-width="0.8" stroke-linecap="round"/><path d="M200.1 294.8h0M200.2 297.6h0M199.4 296.1h0M200.1 295.9h0M200.3 297.0h0M201.3 296.1h0M199.6 296.6h0M200.3 295.3h0M180.2 269.4h0M178.5 271.1h0M178.3 269.7h0M179.9 271.1h0M179.6 270.0h0M178.0 270.9h0M179.2 270.0h0M178.9 269.6h0" stroke="rgb(215,62,14)" stroke-width="1.2" stroke-linecap="round"/><path d="M199.9 296.7h0M200.7 295.4h0M199.9 296.8h0M179.8 270.2h0M179.1 270.3h0M179.5 270.2h0" stroke="rgb(248,125,24)" stroke-width="1.0" stroke-linecap="round"/><path d="M200.2 296.5h0M179.4 270.1h0" stroke="rgb(255,195,55)" stroke-width="0.7" stroke-linecap="round"/></g>
<path d="M140.8 330.3V331.7H161.8V330.3" fill="none" stroke="#6f7a68" stroke-width="0.5"/>
<line x1="211.2" y1="332.9" x2="216.2" y2="332.9" stroke="#444" stroke-width="0.5"/>
<rect x="222.90" y="266.90" width="79.30" height="68.00" fill="#000"/>
<g fill="none"><path d="M226.4 314.0h0M262.4 268.7h0M252.8 273.8h0M238.0 271.5h0M284.5 270.8h0M298.2 315.3h0M291.8 316.4h0M255.1 313.3h0M240.8 280.0h0M285.6 299.7h0M246.7 290.3h0M262.4 275.1h0M249.0 323.4h0M277.7 293.7h0M297.8 291.4h0M295.6 273.3h0M297.5 314.7h0M259.4 307.0h0M241.5 318.5h0M251.4 326.7h0M230.3 308.4h0M270.3 285.3h0M283.4 278.7h0M263.5 329.0h0M241.4 313.0h0M228.7 274.8h0M295.2 334.3h0M271.3 270.5h0M293.5 329.8h0M242.3 268.5h0M289.8 293.2h0M301.2 278.1h0M243.7 273.4h0M269.2 285.1h0M299.5 280.5h0M286.6 334.3h0M274.0 274.4h0M234.5 315.1h0M246.7 276.3h0M279.8 268.1h0M243.7 328.6h0M257.2 295.0h0M272.6 282.2h0M279.0 327.5h0M247.1 304.0h0M300.8 323.8h0M267.1 278.4h0M248.6 295.7h0M243.3 292.4h0M265.3 268.6h0M249.2 274.9h0M283.7 309.3h0M296.6 311.3h0M293.2 274.3h0M278.3 292.8h0M245.6 305.3h0M288.5 323.9h0M256.0 273.8h0" stroke="rgb(115,16,3)" stroke-width="1.0" stroke-linecap="round"/><path d="M252.4 314.2h0M293.0 302.4h0M274.6 310.9h0M280.4 312.4h0M232.7 303.1h0M279.2 273.6h0M287.8 293.5h0M228.2 269.2h0M289.7 326.9h0M249.1 284.9h0M244.4 314.3h0M240.9 316.3h0M235.2 305.6h0M257.4 322.0h0M237.7 287.6h0M277.2 310.4h0M294.4 284.9h0M262.6 333.5h0M245.9 312.1h0M287.2 277.8h0M252.1 293.6h0M275.6 303.8h0M251.3 288.0h0M258.2 296.4h0M231.4 288.5h0M284.5 324.9h0M290.6 311.0h0M294.4 284.1h0M258.8 317.4h0M296.5 273.6h0M245.7 285.6h0M236.0 280.7h0M242.0 276.2h0M258.9 320.0h0M261.3 295.6h0M224.0 315.0h0M241.2 325.9h0M297.0 291.5h0M259.1 331.6h0M257.8 281.9h0M223.5 287.4h0M283.1 270.6h0M279.3 315.5h0M245.5 301.1h0M260.8 308.1h0M289.1 316.5h0M270.1 292.8h0M292.0 275.4h0M286.4 324.0h0M260.0 307.1h0M286.7 277.9h0M300.9 303.2h0M223.6 275.2h0M226.3 285.9h0M258.2 284.2h0M271.1 285.3h0M275.4 296.8h0M272.0 302.3h0M243.7 289.2h0M260.7 270.9h0M281.7 289.5h0M286.2 280.7h0M242.0 295.7h0M284.9 329.8h0M277.7 288.8h0M224.9 297.9h0M257.1 329.3h0M262.1 304.8h0M270.9 298.4h0M295.6 303.0h0M281.6 306.2h0" stroke="rgb(145,24,4)" stroke-width="1.0" stroke-linecap="round"/><path d="M272.3 330.9h0M233.5 293.3h0M259.2 310.8h0M233.3 268.5h0M269.9 294.8h0M278.7 332.1h0M228.1 278.8h0M252.0 319.9h0M246.4 310.1h0M263.8 276.4h0M272.4 288.9h0M259.5 275.6h0M299.2 311.3h0M263.2 314.7h0M280.7 319.5h0M278.2 276.5h0M287.6 327.5h0M252.9 289.4h0M254.0 324.5h0M257.5 288.3h0M232.6 320.3h0M280.6 285.5h0M236.2 269.5h0M225.3 272.6h0M269.1 332.4h0M223.5 287.6h0M265.3 305.5h0M253.3 273.8h0M259.2 332.8h0M233.6 305.9h0M229.8 273.1h0M231.1 285.9h0M281.8 313.0h0M254.0 323.4h0M229.8 285.1h0M278.2 301.9h0M265.0 288.7h0M245.1 268.2h0M282.1 317.4h0M299.7 290.9h0" stroke="rgb(115,16,3)" stroke-width="1.3" stroke-linecap="round"/><path d="M254.2 271.3h0M268.4 292.7h0M264.8 314.4h0M270.5 273.0h0M231.9 303.3h0M250.6 279.8h0M297.9 306.2h0M258.5 293.6h0M252.9 274.5h0M235.3 283.7h0M292.8 320.2h0M272.9 305.0h0M224.1 315.5h0M230.3 312.6h0M237.9 309.5h0M240.6 274.4h0M242.6 319.3h0M243.7 294.1h0M237.4 325.5h0M266.9 296.2h0M244.6 324.0h0M251.0 320.6h0M256.0 291.5h0M262.2 301.1h0M228.1 315.1h0M236.9 297.0h0M248.1 330.1h0M241.4 326.9h0M292.1 314.1h0M225.8 333.7h0M294.9 271.3h0M291.2 291.0h0M281.4 316.4h0M236.8 295.3h0M283.2 331.2h0M244.1 330.1h0M259.0 269.6h0M290.9 330.9h0M238.7 322.8h0M281.0 321.3h0M224.3 298.9h0M251.8 320.4h0M256.2 322.0h0M248.2 272.8h0M276.9 288.7h0M231.0 314.5h0M227.5 313.4h0M242.2 320.3h0M266.2 278.2h0M254.9 294.1h0M231.9 322.4h0M262.0 311.4h0M292.6 280.3h0M243.3 318.4h0M244.5 333.1h0M241.9 305.0h0M248.4 331.5h0M243.9 316.9h0M292.2 331.3h0M296.5 273.3h0M234.4 286.5h0M247.6 308.4h0M280.3 311.6h0M269.8 319.4h0M237.0 302.8h0M239.6 333.9h0M251.6 321.5h0M238.6 310.1h0M272.3 313.1h0M290.7 292.6h0M268.6 298.0h0" stroke="rgb(85,10,2)" stroke-width="1.0" stroke-linecap="round"/><path d="M275.3 287.3h0M261.1 297.2h0M266.3 324.0h0M296.3 310.2h0M281.8 310.7h0M238.1 280.6h0M238.0 284.5h0M231.2 269.2h0M273.2 328.4h0M276.6 281.0h0M282.4 272.0h0M251.5 272.8h0M301.2 307.2h0M230.6 304.0h0M273.3 293.0h0M271.4 298.8h0M291.4 306.1h0M223.5 305.5h0M233.0 281.9h0M269.8 317.4h0M282.4 331.5h0M266.4 278.1h0M236.2 331.9h0M282.2 329.7h0M272.4 314.0h0M229.9 270.8h0M246.2 306.5h0M292.7 323.8h0M251.9 300.6h0M296.1 298.5h0M244.4 312.9h0M275.2 288.5h0M275.9 284.8h0" stroke="rgb(145,24,4)" stroke-width="1.3" stroke-linecap="round"/><path d="M234.9 274.5h0M259.1 290.2h0M278.2 275.7h0M278.2 328.0h0M255.9 271.4h0M275.7 321.5h0M270.3 311.3h0M254.5 319.8h0M280.1 268.0h0M280.7 305.6h0M300.4 284.1h0M238.8 297.9h0M281.2 330.3h0M226.7 272.7h0M287.4 316.1h0M228.1 287.8h0M244.9 332.5h0M239.5 302.1h0M273.2 309.5h0M252.2 289.6h0M231.6 311.9h0M256.1 276.4h0M298.3 280.8h0M293.2 333.1h0M231.5 322.1h0M254.6 281.9h0M276.1 307.3h0M292.4 293.0h0M287.3 311.6h0M299.5 268.7h0" stroke="rgb(85,10,2)" stroke-width="1.3" stroke-linecap="round"/><path d="M269.2 316.9h0M263.4 291.6h0M284.5 325.9h0M238.8 271.9h0" stroke="rgb(40,150,40)" stroke-width="1.3" stroke-linecap="round"/><path d="M296.1 300.5h0M295.8 300.7h0M296.3 300.9h0M275.6 327.4h0M274.8 325.9h0M274.6 326.8h0M254.4 279.3h0M253.8 278.2h0M252.5 278.1h0M283.7 280.5h0M284.2 279.7h0M284.8 279.7h0" stroke="rgb(200,45,15)" stroke-width="1.9" stroke-linecap="round"/><path d="M260.4 272.3h0M259.1 273.7h0M261.2 273.6h0M258.7 272.3h0M259.9 273.2h0M258.5 273.5h0M259.1 273.8h0M259.2 274.7h0M257.5 272.9h0M257.6 272.8h0M257.5 271.7h0M258.0 273.4h0" stroke="rgb(215,62,14)" stroke-width="2.2" stroke-linecap="round"/><path d="M258.0 273.1h0M259.5 272.9h0M258.0 273.1h0" stroke="rgb(248,125,24)" stroke-width="1.9" stroke-linecap="round"/><path d="M258.8 272.9h0" stroke="rgb(255,195,55)" stroke-width="1.3" stroke-linecap="round"/><path d="M269.3 281.6h0M268.8 282.9h0M272.2 281.2h0M270.1 281.0h0M272.2 281.6h0M270.3 282.2h0M270.1 281.9h0M270.4 282.1h0M268.9 281.4h0M270.9 282.3h0M269.0 283.1h0M283.5 286.9h0M283.6 286.1h0M284.7 287.3h0M286.6 287.5h0M285.4 288.5h0M286.5 286.3h0M285.0 286.9h0M285.2 287.2h0M284.5 286.2h0M285.7 287.2h0M284.2 286.8h0M272.7 318.4h0M272.6 317.0h0M274.1 320.2h0M274.9 318.3h0M273.3 319.8h0M273.0 318.0h0M273.2 317.4h0M274.7 320.4h0M272.8 318.6h0M271.8 319.5h0M275.4 320.2h0M251.2 325.3h0M249.9 325.7h0M251.1 325.1h0M249.5 323.8h0M249.4 325.8h0M250.4 325.7h0M250.3 323.8h0M248.6 325.2h0M249.5 324.7h0M250.8 323.0h0M250.6 323.9h0" stroke="rgb(215,62,14)" stroke-width="1.8" stroke-linecap="round"/><path d="M270.9 281.6h0M269.5 282.4h0M271.2 281.4h0M284.9 286.7h0M285.5 287.0h0M285.7 287.1h0M272.9 318.8h0M273.0 318.9h0M273.7 319.3h0M250.7 324.4h0M249.4 324.8h0M250.4 324.5h0" stroke="rgb(248,125,24)" stroke-width="1.6" stroke-linecap="round"/><path d="M270.3 282.0h0M284.5 287.0h0M274.0 318.9h0M249.7 324.4h0" stroke="rgb(255,195,55)" stroke-width="1.1" stroke-linecap="round"/><path d="M255.4 267.4h0M256.4 268.1h0M254.5 268.7h0M253.9 269.2h0M253.7 269.5h0M254.5 267.5h0M253.8 269.3h0M254.2 268.9h0M255.1 267.8h0M235.4 308.1h0M234.7 307.0h0M235.4 307.9h0M236.4 307.0h0M234.5 308.6h0M234.8 307.0h0M234.6 307.7h0M235.4 307.3h0M234.2 307.7h0M275.9 323.4h0M275.3 325.0h0M274.8 324.4h0M274.7 322.6h0M274.5 323.0h0M275.7 322.5h0M275.1 324.6h0M274.6 323.8h0M274.9 323.4h0" stroke="rgb(215,62,14)" stroke-width="1.4" stroke-linecap="round"/><path d="M254.1 268.6h0M255.3 267.8h0M255.1 268.0h0M275.4 323.0h0M275.3 323.1h0M275.1 323.8h0" stroke="rgb(248,125,24)" stroke-width="1.3" stroke-linecap="round"/><path d="M254.6 268.0h0M254.2 312.5h0M275.0 323.0h0" stroke="rgb(255,195,55)" stroke-width="0.9" stroke-linecap="round"/><path d="M283.8 291.0h0M284.2 292.9h0M284.4 291.5h0M286.0 292.3h0M283.8 290.9h0M283.2 292.5h0M284.9 292.3h0M283.3 292.4h0M283.1 292.1h0M283.6 292.4h0M247.4 329.0h0M249.0 328.4h0M250.8 326.7h0M248.0 329.3h0M248.8 329.4h0M249.6 328.8h0M250.4 328.9h0M247.2 327.6h0M247.5 329.1h0M249.6 329.0h0M284.3 326.0h0M283.2 325.1h0M284.0 327.8h0M283.8 327.1h0M282.5 325.0h0M283.7 326.5h0M284.0 327.1h0M285.4 327.0h0M283.2 325.5h0M283.9 326.4h0" stroke="rgb(215,62,14)" stroke-width="1.6" stroke-linecap="round"/><path d="M284.7 292.0h0M284.7 292.0h0M283.9 291.6h0M254.9 312.8h0M254.0 311.6h0M253.9 311.5h0M249.1 328.1h0M249.4 328.1h0M249.9 328.0h0M283.7 325.6h0M283.4 325.1h0M283.6 325.5h0" stroke="rgb(248,125,24)" stroke-width="1.4" stroke-linecap="round"/><path d="M284.9 292.5h0M249.2 327.7h0M284.4 326.2h0" stroke="rgb(255,195,55)" stroke-width="1.0" stroke-linecap="round"/><path d="M229.8 305.3h0M229.9 302.8h0M229.1 304.6h0M232.4 303.7h0M230.2 307.7h0M231.7 307.1h0M229.8 307.8h0M229.0 303.8h0M231.9 304.6h0M229.9 307.0h0M232.4 305.5h0M229.6 307.8h0" stroke="rgb(215,62,14)" stroke-width="2.3" stroke-linecap="round"/><path d="M231.0 306.5h0M231.0 306.8h0M230.8 304.4h0" stroke="rgb(248,125,24)" stroke-width="2.1" stroke-linecap="round"/><path d="M231.1 304.8h0" stroke="rgb(255,195,55)" stroke-width="1.4" stroke-linecap="round"/><path d="M235.5 307.7h0M236.3 307.0h0M235.8 307.5h0" stroke="rgb(248,125,24)" stroke-width="1.2" stroke-linecap="round"/><path d="M235.6 307.3h0" stroke="rgb(255,195,55)" stroke-width="0.8" stroke-linecap="round"/><path d="M255.4 311.4h0M253.7 312.8h0M254.1 313.8h0M254.2 313.8h0M253.3 312.5h0M256.0 313.4h0M253.5 312.5h0M254.9 313.7h0M255.5 313.5h0M256.2 313.4h0" stroke="rgb(215,62,14)" stroke-width="1.5" stroke-linecap="round"/><path d="M285.7 314.6h0M286.8 312.4h0M286.5 313.1h0M286.0 315.7h0M286.8 312.6h0M286.1 313.0h0M288.2 311.7h0M286.3 313.9h0M288.7 313.3h0M285.9 315.2h0M286.0 315.3h0" stroke="rgb(215,62,14)" stroke-width="1.9" stroke-linecap="round"/><path d="M286.9 314.0h0M286.7 314.1h0M287.9 313.2h0" stroke="rgb(248,125,24)" stroke-width="1.7" stroke-linecap="round"/><path d="M287.5 313.5h0" stroke="rgb(255,195,55)" stroke-width="1.2" stroke-linecap="round"/></g>
<path d="M226.9 330.3V331.7H247.9V330.3" fill="none" stroke="#6f7a68" stroke-width="0.5"/>
<line x1="295.2" y1="332.9" x2="300.2" y2="332.9" stroke="#444" stroke-width="0.5"/>
<text x="0" y="0" font-size="9.6" text-anchor="middle" fill="#111" textLength="76.5" lengthAdjust="spacingAndGlyphs" transform="translate(340.50,60.25) rotate(-90)">Annexin-V(+)cells/field</text>
<line x1="365.40" y1="23.40" x2="365.40" y2="96.95" stroke="#111" stroke-width="0.95" />
<line x1="364.95" y1="96.50" x2="513.00" y2="96.50" stroke="#111" stroke-width="0.95" />
<line x1="362.40" y1="92.20" x2="365.40" y2="92.20" stroke="#111" stroke-width="0.8" />
<text x="359.50" y="95.10" font-size="8.6" text-anchor="end" font-weight="normal" fill="#111" textLength="4.3" lengthAdjust="spacingAndGlyphs">0</text>
<line x1="362.40" y1="82.94" x2="365.40" y2="82.94" stroke="#111" stroke-width="0.8" />
<text x="359.50" y="85.84" font-size="8.6" text-anchor="end" font-weight="normal" fill="#111" textLength="12.9" lengthAdjust="spacingAndGlyphs">100</text>
<line x1="362.40" y1="73.68" x2="365.40" y2="73.68" stroke="#111" stroke-width="0.8" />
<text x="359.50" y="76.58" font-size="8.6" text-anchor="end" font-weight="normal" fill="#111" textLength="12.9" lengthAdjust="spacingAndGlyphs">200</text>
<line x1="362.40" y1="64.42" x2="365.40" y2="64.42" stroke="#111" stroke-width="0.8" />
<text x="359.50" y="67.32" font-size="8.6" text-anchor="end" font-weight="normal" fill="#111" textLength="12.9" lengthAdjust="spacingAndGlyphs">300</text>
<line x1="362.40" y1="55.16" x2="365.40" y2="55.16" stroke="#111" stroke-width="0.8" />
<text x="359.50" y="58.06" font-size="8.6" text-anchor="end" font-weight="normal" fill="#111" textLength="12.9" lengthAdjust="spacingAndGlyphs">400</text>
<line x1="362.40" y1="45.90" x2="365.40" y2="45.90" stroke="#111" stroke-width="0.8" />
<text x="359.50" y="48.80" font-size="8.6" text-anchor="end" font-weight="normal" fill="#111" textLength="12.9" lengthAdjust="spacingAndGlyphs">500</text>
<line x1="362.40" y1="36.64" x2="365.40" y2="36.64" stroke="#111" stroke-width="0.8" />
<text x="359.50" y="39.54" font-size="8.6" text-anchor="end" font-weight="normal" fill="#111" textLength="12.9" lengthAdjust="spacingAndGlyphs">600</text>
<line x1="362.40" y1="27.38" x2="365.40" y2="27.38" stroke="#111" stroke-width="0.8" />
<text x="359.50" y="30.28" font-size="8.6" text-anchor="end" font-weight="normal" fill="#111" textLength="12.9" lengthAdjust="spacingAndGlyphs">700</text>
<line x1="365.40" y1="96.50" x2="365.40" y2="99.80" stroke="#111" stroke-width="0.95" />
<text x="365.40" y="108.90" font-size="8.6" text-anchor="middle" font-weight="normal" fill="#111" textLength="4.3" lengthAdjust="spacingAndGlyphs">0</text>
<line x1="383.22" y1="96.50" x2="383.22" y2="99.80" stroke="#111" stroke-width="0.95" />
<text x="383.22" y="108.90" font-size="8.6" text-anchor="middle" font-weight="normal" fill="#111" textLength="4.3" lengthAdjust="spacingAndGlyphs">2</text>
<line x1="401.04" y1="96.50" x2="401.04" y2="99.80" stroke="#111" stroke-width="0.95" />
<text x="401.04" y="108.90" font-size="8.6" text-anchor="middle" font-weight="normal" fill="#111" textLength="4.3" lengthAdjust="spacingAndGlyphs">4</text>
<line x1="418.86" y1="96.50" x2="418.86" y2="99.80" stroke="#111" stroke-width="0.95" />
<text x="418.86" y="108.90" font-size="8.6" text-anchor="middle" font-weight="normal" fill="#111" textLength="4.3" lengthAdjust="spacingAndGlyphs">6</text>
<line x1="436.68" y1="96.50" x2="436.68" y2="99.80" stroke="#111" stroke-width="0.95" />
<text x="436.68" y="108.90" font-size="8.6" text-anchor="middle" font-weight="normal" fill="#111" textLength="4.3" lengthAdjust="spacingAndGlyphs">8</text>
<line x1="454.50" y1="96.50" x2="454.50" y2="99.80" stroke="#111" stroke-width="0.95" />
<text x="454.50" y="108.90" font-size="8.6" text-anchor="middle" font-weight="normal" fill="#111" textLength="8.6" lengthAdjust="spacingAndGlyphs">10</text>
<line x1="472.32" y1="96.50" x2="472.32" y2="99.80" stroke="#111" stroke-width="0.95" />
<text x="472.32" y="108.90" font-size="8.6" text-anchor="middle" font-weight="normal" fill="#111" textLength="8.6" lengthAdjust="spacingAndGlyphs">12</text>
<line x1="490.14" y1="96.50" x2="490.14" y2="99.80" stroke="#111" stroke-width="0.95" />
<text x="490.14" y="108.90" font-size="8.6" text-anchor="middle" font-weight="normal" fill="#111" textLength="8.6" lengthAdjust="spacingAndGlyphs">14</text>
<line x1="507.96" y1="96.50" x2="507.96" y2="99.80" stroke="#111" stroke-width="0.95" />
<text x="507.96" y="108.90" font-size="8.6" text-anchor="middle" font-weight="normal" fill="#111" textLength="8.6" lengthAdjust="spacingAndGlyphs">16</text>
<text x="439.00" y="121.80" font-size="9.2" text-anchor="middle" font-weight="normal" fill="#111" textLength="42.5" lengthAdjust="spacingAndGlyphs">Time (hours)</text>
<line x1="366.40" y1="92.80" x2="513.00" y2="92.80" stroke="#222" stroke-width="0.6" stroke-dasharray="0.8 1.2"/>
<path d="M365.4 91.3L372.1 91.1L378.8 91.0L385.4 90.9L392.1 90.7L398.8 90.6L405.5 90.6L412.2 90.5L418.9 90.4L425.5 90.4L432.2 90.3L438.9 90.2L445.6 90.1L452.3 90.1L459.0 90.0L465.6 89.9L472.3 89.9L479.0 89.8L485.7 89.7L492.4 89.6L499.0 89.6L505.7 89.5L512.4 89.4" fill="none" stroke="#ff9010" stroke-width="0.9"/>
<path d="M365.4 91.3h0M372.1 91.1h0M378.8 91.0h0M385.4 90.9h0M392.1 90.7h0M398.8 90.6h0M405.5 90.6h0M412.2 90.5h0M418.9 90.4h0M425.5 90.4h0M432.2 90.3h0M438.9 90.2h0M445.6 90.1h0M452.3 90.1h0M459.0 90.0h0M465.6 89.9h0M472.3 89.9h0M479.0 89.8h0M485.7 89.7h0M492.4 89.6h0M499.0 89.6h0M505.7 89.5h0M512.4 89.4h0" fill="none" stroke="#ff9010" stroke-width="2.50" stroke-linecap="round"/>
<path d="M365.4 91.1L372.1 90.9L378.8 90.8L385.4 90.7L392.1 90.5L398.8 90.5L405.5 90.4L412.2 90.4L418.9 90.3L425.5 90.3L432.2 90.2L438.9 90.2L445.6 90.1L452.3 90.1L459.0 90.0L465.6 90.0L472.3 89.9L479.0 89.9L485.7 89.8L492.4 89.8L499.0 89.7L505.7 89.7L512.4 89.6" fill="none" stroke="#4b0f6e" stroke-width="0.9"/>
<path d="M365.4 91.1h0M372.1 90.9h0M378.8 90.8h0M385.4 90.7h0M392.1 90.5h0M398.8 90.5h0M405.5 90.4h0M412.2 90.4h0M418.9 90.3h0M425.5 90.3h0M432.2 90.2h0M438.9 90.2h0M445.6 90.1h0M452.3 90.1h0M459.0 90.0h0M465.6 90.0h0M472.3 89.9h0M479.0 89.9h0M485.7 89.8h0M492.4 89.8h0M499.0 89.7h0M505.7 89.7h0M512.4 89.6h0" fill="none" stroke="#4b0f6e" stroke-width="2.50" stroke-linecap="round"/>
<path d="M365.4 91.5L372.1 91.4L378.8 91.3L385.4 91.2L392.1 91.1L398.8 91.1L405.5 91.0L412.2 91.0L418.9 90.9L425.5 90.9L432.2 90.9L438.9 90.8L445.6 90.8L452.3 90.8L459.0 90.7L465.6 90.7L472.3 90.7L479.0 90.6L485.7 90.6L492.4 90.5L499.0 90.5L505.7 90.5L512.4 90.4" fill="none" stroke="#22a83c" stroke-width="0.9"/>
<path d="M365.4 91.5h0M372.1 91.4h0M378.8 91.3h0M385.4 91.2h0M392.1 91.1h0M398.8 91.1h0M405.5 91.0h0M412.2 91.0h0M418.9 90.9h0M425.5 90.9h0M432.2 90.9h0M438.9 90.8h0M445.6 90.8h0M452.3 90.8h0M459.0 90.7h0M465.6 90.7h0M472.3 90.7h0M479.0 90.6h0M485.7 90.6h0M492.4 90.5h0M499.0 90.5h0M505.7 90.5h0M512.4 90.4h0" fill="none" stroke="#22a83c" stroke-width="2.50" stroke-linecap="round"/>
<path d="M365.4 90.1V90.8M364.1 90.1h2.6M364.1 90.8h2.6M372.1 89.9V90.6M370.8 89.9h2.6M370.8 90.6h2.6M378.8 89.6V90.4M377.5 89.6h2.6M377.5 90.4h2.6M385.4 89.4V90.2M384.1 89.4h2.6M384.1 90.2h2.6M392.1 89.2V90.1M390.8 89.2h2.6M390.8 90.1h2.6M398.8 88.7V89.7M397.5 88.7h2.6M397.5 89.7h2.6M405.5 88.3V89.3M404.2 88.3h2.6M404.2 89.3h2.6M412.2 87.8V89.0M410.9 87.8h2.6M410.9 89.0h2.6M418.9 87.4V88.6M417.6 87.4h2.6M417.6 88.6h2.6M425.5 86.9V88.2M424.2 86.9h2.6M424.2 88.2h2.6M432.2 86.9V88.2M430.9 86.9h2.6M430.9 88.2h2.6M438.9 86.9V88.2M437.6 86.9h2.6M437.6 88.2h2.6M445.6 86.9V88.2M444.3 86.9h2.6M444.3 88.2h2.6M452.3 86.8V88.1M451.0 86.8h2.6M451.0 88.1h2.6M459.0 86.6V88.0M457.7 86.6h2.6M457.7 88.0h2.6M465.6 86.5V87.8M464.3 86.5h2.6M464.3 87.8h2.6M472.3 86.3V87.7M471.0 86.3h2.6M471.0 87.7h2.6M479.0 85.6V87.2M477.7 85.6h2.6M477.7 87.2h2.6M485.7 85.3V86.9M484.4 85.3h2.6M484.4 86.9h2.6M492.4 85.1V86.7M491.1 85.1h2.6M491.1 86.7h2.6M499.0 84.9V86.6M497.7 84.9h2.6M497.7 86.6h2.6M505.7 84.8V86.4M504.4 84.8h2.6M504.4 86.4h2.6M512.4 84.6V86.3M511.1 84.6h2.6M511.1 86.3h2.6" fill="none" stroke="#1a5a9a" stroke-width="0.7"/>
<path d="M365.4 90.4L372.1 90.2L378.8 90.0L385.4 89.8L392.1 89.6L398.8 89.2L405.5 88.8L412.2 88.4L418.9 88.0L425.5 87.6L432.2 87.6L438.9 87.6L445.6 87.6L452.3 87.4L459.0 87.3L465.6 87.2L472.3 87.0L479.0 86.4L485.7 86.1L492.4 85.9L499.0 85.8L505.7 85.6L512.4 85.4" fill="none" stroke="#1a5a9a" stroke-width="0.9"/>
<path d="M365.4 90.4h0M372.1 90.2h0M378.8 90.0h0M385.4 89.8h0M392.1 89.6h0M398.8 89.2h0M405.5 88.8h0M412.2 88.4h0M418.9 88.0h0M425.5 87.6h0M432.2 87.6h0M438.9 87.6h0M445.6 87.6h0M452.3 87.4h0M459.0 87.3h0M465.6 87.2h0M472.3 87.0h0M479.0 86.4h0M485.7 86.1h0M492.4 85.9h0M499.0 85.8h0M505.7 85.6h0M512.4 85.4h0" fill="none" stroke="#1a5a9a" stroke-width="2.50" stroke-linecap="round"/>
<path d="M365.4 88.5V89.4M364.1 88.5h2.6M364.1 89.4h2.6M372.1 84.4V85.6M370.8 84.4h2.6M370.8 85.6h2.6M378.8 81.0V82.4M377.5 81.0h2.6M377.5 82.4h2.6M385.4 79.0V80.6M384.1 79.0h2.6M384.1 80.6h2.6M392.1 76.5V78.4M390.8 76.5h2.6M390.8 78.4h2.6M398.8 75.6V77.5M397.5 75.6h2.6M397.5 77.5h2.6M405.5 72.9V75.2M404.2 72.9h2.6M404.2 75.2h2.6M412.2 70.3V73.0M410.9 70.3h2.6M410.9 73.0h2.6M418.9 68.2V71.3M417.6 68.2h2.6M417.6 71.3h2.6M425.5 67.2V70.5M424.2 67.2h2.6M424.2 70.5h2.6M432.2 63.8V67.8M430.9 63.8h2.6M430.9 67.8h2.6M438.9 64.3V68.1M437.6 64.3h2.6M437.6 68.1h2.6M445.6 61.3V65.7M444.3 61.3h2.6M444.3 65.7h2.6M452.3 59.0V64.0M451.0 59.0h2.6M451.0 64.0h2.6M459.0 58.4V63.6M457.7 58.4h2.6M457.7 63.6h2.6M465.6 58.0V63.2M464.3 58.0h2.6M464.3 63.2h2.6M472.3 56.6V62.2M471.0 56.6h2.6M471.0 62.2h2.6M479.0 53.4V59.8M477.7 53.4h2.6M477.7 59.8h2.6M485.7 51.2V58.2M484.4 51.2h2.6M484.4 58.2h2.6M492.4 48.9V56.6M491.1 48.9h2.6M491.1 56.6h2.6M499.0 46.8V55.0M497.7 46.8h2.6M497.7 55.0h2.6M505.7 45.6V54.2M504.4 45.6h2.6M504.4 54.2h2.6M512.4 43.6V52.9M511.1 43.6h2.6M511.1 52.9h2.6" fill="none" stroke="#c8102e" stroke-width="0.7"/>
<path d="M365.4 89.0L372.1 85.0L378.8 81.7L385.4 79.8L392.1 77.5L398.8 76.6L405.5 74.1L412.2 71.6L418.9 69.8L425.5 68.9L432.2 65.8L438.9 66.2L445.6 63.5L452.3 61.5L459.0 61.0L465.6 60.6L472.3 59.4L479.0 56.6L485.7 54.7L492.4 52.8L499.0 50.9L505.7 49.9L512.4 48.2" fill="none" stroke="#c8102e" stroke-width="0.9"/>
<path d="M365.4 89.0h0M372.1 85.0h0M378.8 81.7h0M385.4 79.8h0M392.1 77.5h0M398.8 76.6h0M405.5 74.1h0M412.2 71.6h0M418.9 69.8h0M425.5 68.9h0M432.2 65.8h0M438.9 66.2h0M445.6 63.5h0M452.3 61.5h0M459.0 61.0h0M465.6 60.6h0M472.3 59.4h0M479.0 56.6h0M485.7 54.7h0M492.4 52.8h0M499.0 50.9h0M505.7 49.9h0M512.4 48.2h0" fill="none" stroke="#c8102e" stroke-width="2.50" stroke-linecap="round"/>
<line x1="368.50" y1="26.90" x2="376.90" y2="26.90" stroke="#22a83c" stroke-width="1.0" stroke-opacity="0.6"/>
<circle cx="372.70" cy="26.90" r="1.2" fill="#22a83c"/>
<text x="379.60" y="29.60" font-size="7.6" text-anchor="start" font-weight="normal" fill="#111" textLength="36.0" lengthAdjust="spacingAndGlyphs">OCI-AML3</text>
<line x1="368.50" y1="34.65" x2="376.90" y2="34.65" stroke="#4b0f6e" stroke-width="1.0" stroke-opacity="0.6"/>
<circle cx="372.70" cy="34.65" r="1.2" fill="#4b0f6e"/>
<text x="379.60" y="37.35" font-size="7.6" text-anchor="start" font-weight="normal" fill="#111" textLength="16.2" lengthAdjust="spacingAndGlyphs">IgG1</text>
<line x1="368.50" y1="42.40" x2="376.90" y2="42.40" stroke="#1a5a9a" stroke-width="1.0" stroke-opacity="0.6"/>
<circle cx="372.70" cy="42.40" r="1.2" fill="#1a5a9a"/>
<text x="379.60" y="45.10" font-size="7.6" text-anchor="start" font-weight="normal" fill="#111" textLength="30.6" lengthAdjust="spacingAndGlyphs">NK+IgG1</text>
<line x1="368.50" y1="50.15" x2="376.90" y2="50.15" stroke="#ff9010" stroke-width="1.0" stroke-opacity="0.6"/>
<circle cx="372.70" cy="50.15" r="1.2" fill="#ff9010"/>
<text x="379.60" y="52.85" font-size="7.6" text-anchor="start" font-weight="normal" fill="#111" textLength="19.8" lengthAdjust="spacingAndGlyphs">T-1A5</text>
<line x1="368.50" y1="57.90" x2="376.90" y2="57.90" stroke="#c8102e" stroke-width="1.0" stroke-opacity="0.6"/>
<circle cx="372.70" cy="57.90" r="1.2" fill="#c8102e"/>
<text x="379.60" y="60.60" font-size="7.6" text-anchor="start" font-weight="normal" fill="#111" textLength="34.3" lengthAdjust="spacingAndGlyphs">NK+T-1A5</text>
<text x="0" y="0" font-size="9.6" text-anchor="middle" fill="#111" textLength="75.0" lengthAdjust="spacingAndGlyphs" transform="translate(340.50,175.20) rotate(-90)">Annexin-V(+)cells/field</text>
<line x1="365.40" y1="138.00" x2="365.40" y2="211.45" stroke="#111" stroke-width="0.95" />
<line x1="364.95" y1="211.00" x2="513.00" y2="211.00" stroke="#111" stroke-width="0.95" />
<line x1="362.40" y1="208.10" x2="365.40" y2="208.10" stroke="#111" stroke-width="0.8" />
<text x="359.50" y="211.00" font-size="8.6" text-anchor="end" font-weight="normal" fill="#111" textLength="4.3" lengthAdjust="spacingAndGlyphs">0</text>
<line x1="362.40" y1="194.90" x2="365.40" y2="194.90" stroke="#111" stroke-width="0.8" />
<text x="359.50" y="197.80" font-size="8.6" text-anchor="end" font-weight="normal" fill="#111" textLength="8.6" lengthAdjust="spacingAndGlyphs">50</text>
<line x1="362.40" y1="181.70" x2="365.40" y2="181.70" stroke="#111" stroke-width="0.8" />
<text x="359.50" y="184.60" font-size="8.6" text-anchor="end" font-weight="normal" fill="#111" textLength="12.9" lengthAdjust="spacingAndGlyphs">100</text>
<line x1="362.40" y1="168.50" x2="365.40" y2="168.50" stroke="#111" stroke-width="0.8" />
<text x="359.50" y="171.40" font-size="8.6" text-anchor="end" font-weight="normal" fill="#111" textLength="12.9" lengthAdjust="spacingAndGlyphs">150</text>
<line x1="362.40" y1="155.30" x2="365.40" y2="155.30" stroke="#111" stroke-width="0.8" />
<text x="359.50" y="158.20" font-size="8.6" text-anchor="end" font-weight="normal" fill="#111" textLength="12.9" lengthAdjust="spacingAndGlyphs">200</text>
<line x1="362.40" y1="142.10" x2="365.40" y2="142.10" stroke="#111" stroke-width="0.8" />
<text x="359.50" y="145.00" font-size="8.6" text-anchor="end" font-weight="normal" fill="#111" textLength="12.9" lengthAdjust="spacingAndGlyphs">250</text>
<line x1="365.40" y1="211.00" x2="365.40" y2="214.30" stroke="#111" stroke-width="0.95" />
<text x="365.40" y="223.40" font-size="8.6" text-anchor="middle" font-weight="normal" fill="#111" textLength="4.3" lengthAdjust="spacingAndGlyphs">0</text>
<line x1="383.22" y1="211.00" x2="383.22" y2="214.30" stroke="#111" stroke-width="0.95" />
<text x="383.22" y="223.40" font-size="8.6" text-anchor="middle" font-weight="normal" fill="#111" textLength="4.3" lengthAdjust="spacingAndGlyphs">2</text>
<line x1="401.04" y1="211.00" x2="401.04" y2="214.30" stroke="#111" stroke-width="0.95" />
<text x="401.04" y="223.40" font-size="8.6" text-anchor="middle" font-weight="normal" fill="#111" textLength="4.3" lengthAdjust="spacingAndGlyphs">4</text>
<line x1="418.86" y1="211.00" x2="418.86" y2="214.30" stroke="#111" stroke-width="0.95" />
<text x="418.86" y="223.40" font-size="8.6" text-anchor="middle" font-weight="normal" fill="#111" textLength="4.3" lengthAdjust="spacingAndGlyphs">6</text>
<line x1="436.68" y1="211.00" x2="436.68" y2="214.30" stroke="#111" stroke-width="0.95" />
<text x="436.68" y="223.40" font-size="8.6" text-anchor="middle" font-weight="normal" fill="#111" textLength="4.3" lengthAdjust="spacingAndGlyphs">8</text>
<line x1="454.50" y1="211.00" x2="454.50" y2="214.30" stroke="#111" stroke-width="0.95" />
<text x="454.50" y="223.40" font-size="8.6" text-anchor="middle" font-weight="normal" fill="#111" textLength="8.6" lengthAdjust="spacingAndGlyphs">10</text>
<line x1="472.32" y1="211.00" x2="472.32" y2="214.30" stroke="#111" stroke-width="0.95" />
<text x="472.32" y="223.40" font-size="8.6" text-anchor="middle" font-weight="normal" fill="#111" textLength="8.6" lengthAdjust="spacingAndGlyphs">12</text>
<line x1="490.14" y1="211.00" x2="490.14" y2="214.30" stroke="#111" stroke-width="0.95" />
<text x="490.14" y="223.40" font-size="8.6" text-anchor="middle" font-weight="normal" fill="#111" textLength="8.6" lengthAdjust="spacingAndGlyphs">14</text>
<line x1="507.96" y1="211.00" x2="507.96" y2="214.30" stroke="#111" stroke-width="0.95" />
<text x="507.96" y="223.40" font-size="8.6" text-anchor="middle" font-weight="normal" fill="#111" textLength="8.6" lengthAdjust="spacingAndGlyphs">16</text>
<text x="439.00" y="236.30" font-size="9.2" text-anchor="middle" font-weight="normal" fill="#111" textLength="42.5" lengthAdjust="spacingAndGlyphs">Time (hours)</text>
<line x1="366.40" y1="208.70" x2="513.00" y2="208.70" stroke="#222" stroke-width="0.6" stroke-dasharray="0.8 1.2"/>
<path d="M365.4 206.3L372.1 205.9L378.8 205.5L385.4 205.1L392.1 204.7L398.8 204.5L405.5 204.4L412.2 204.2L418.9 204.0L425.5 203.9L432.2 203.7L438.9 203.6L445.6 203.5L452.3 203.3L459.0 203.2L465.6 203.1L472.3 203.0L479.0 202.9L485.7 202.8L492.4 202.6L499.0 202.5L505.7 202.4L512.4 202.3" fill="none" stroke="#ff9010" stroke-width="0.9"/>
<path d="M365.4 206.3h0M372.1 205.9h0M378.8 205.5h0M385.4 205.1h0M392.1 204.7h0M398.8 204.5h0M405.5 204.4h0M412.2 204.2h0M418.9 204.0h0M425.5 203.9h0M432.2 203.7h0M438.9 203.6h0M445.6 203.5h0M452.3 203.3h0M459.0 203.2h0M465.6 203.1h0M472.3 203.0h0M479.0 202.9h0M485.7 202.8h0M492.4 202.6h0M499.0 202.5h0M505.7 202.4h0M512.4 202.3h0" fill="none" stroke="#ff9010" stroke-width="2.50" stroke-linecap="round"/>
<path d="M365.4 207.3L372.1 206.8L378.8 206.4L385.4 205.9L392.1 205.5L398.8 205.3L405.5 205.2L412.2 205.1L418.9 205.0L425.5 204.9L432.2 204.7L438.9 204.6L445.6 204.5L452.3 204.4L459.0 204.3L465.6 204.2L472.3 204.0L479.0 203.9L485.7 203.8L492.4 203.7L499.0 203.6L505.7 203.5L512.4 203.3" fill="none" stroke="#22a83c" stroke-width="0.9"/>
<path d="M365.4 207.3h0M372.1 206.8h0M378.8 206.4h0M385.4 205.9h0M392.1 205.5h0M398.8 205.3h0M405.5 205.2h0M412.2 205.1h0M418.9 205.0h0M425.5 204.9h0M432.2 204.7h0M438.9 204.6h0M445.6 204.5h0M452.3 204.4h0M459.0 204.3h0M465.6 204.2h0M472.3 204.0h0M479.0 203.9h0M485.7 203.8h0M492.4 203.7h0M499.0 203.6h0M505.7 203.5h0M512.4 203.3h0" fill="none" stroke="#22a83c" stroke-width="2.50" stroke-linecap="round"/>
<path d="M365.4 204.7V206.3M364.1 204.7h2.6M364.1 206.3h2.6M372.1 204.1V205.8M370.8 204.1h2.6M370.8 205.8h2.6M378.8 203.5V205.3M377.5 203.5h2.6M377.5 205.3h2.6M385.4 202.9V204.8M384.1 202.9h2.6M384.1 204.8h2.6M392.1 202.3V204.4M390.8 202.3h2.6M390.8 204.4h2.6M398.8 202.3V204.3M397.5 202.3h2.6M397.5 204.3h2.6M405.5 202.2V204.2M404.2 202.2h2.6M404.2 204.2h2.6M412.2 202.1V204.1M410.9 202.1h2.6M410.9 204.1h2.6M418.9 202.0V204.1M417.6 202.0h2.6M417.6 204.1h2.6M425.5 201.9V204.0M424.2 201.9h2.6M424.2 204.0h2.6M432.2 201.8V203.9M430.9 201.8h2.6M430.9 203.9h2.6M438.9 201.7V203.8M437.6 201.7h2.6M437.6 203.8h2.6M445.6 201.5V203.7M444.3 201.5h2.6M444.3 203.7h2.6M452.3 201.3V203.5M451.0 201.3h2.6M451.0 203.5h2.6M459.0 201.2V203.4M457.7 201.2h2.6M457.7 203.4h2.6M465.6 201.0V203.2M464.3 201.0h2.6M464.3 203.2h2.6M472.3 200.8V203.1M471.0 200.8h2.6M471.0 203.1h2.6M479.0 200.6V202.9M477.7 200.6h2.6M477.7 202.9h2.6M485.7 200.4V202.8M484.4 200.4h2.6M484.4 202.8h2.6M492.4 200.3V202.7M491.1 200.3h2.6M491.1 202.7h2.6M499.0 200.1V202.5M497.7 200.1h2.6M497.7 202.5h2.6M505.7 199.9V202.4M504.4 199.9h2.6M504.4 202.4h2.6M512.4 199.7V202.2M511.1 199.7h2.6M511.1 202.2h2.6" fill="none" stroke="#4b0f6e" stroke-width="0.7"/>
<path d="M365.4 205.5L372.1 204.9L378.8 204.4L385.4 203.9L392.1 203.3L398.8 203.3L405.5 203.2L412.2 203.1L418.9 203.0L425.5 203.0L432.2 202.9L438.9 202.8L445.6 202.6L452.3 202.4L459.0 202.3L465.6 202.1L472.3 202.0L479.0 201.8L485.7 201.6L492.4 201.5L499.0 201.3L505.7 201.1L512.4 201.0" fill="none" stroke="#4b0f6e" stroke-width="0.9"/>
<path d="M365.4 205.5h0M372.1 204.9h0M378.8 204.4h0M385.4 203.9h0M392.1 203.3h0M398.8 203.3h0M405.5 203.2h0M412.2 203.1h0M418.9 203.0h0M425.5 203.0h0M432.2 202.9h0M438.9 202.8h0M445.6 202.6h0M452.3 202.4h0M459.0 202.3h0M465.6 202.1h0M472.3 202.0h0M479.0 201.8h0M485.7 201.6h0M492.4 201.5h0M499.0 201.3h0M505.7 201.1h0M512.4 201.0h0" fill="none" stroke="#4b0f6e" stroke-width="2.50" stroke-linecap="round"/>
<path d="M365.4 203.0V205.3M364.1 203.0h2.6M364.1 205.3h2.6M372.1 200.9V203.7M370.8 200.9h2.6M370.8 203.7h2.6M378.8 200.3V203.2M377.5 200.3h2.6M377.5 203.2h2.6M385.4 199.5V202.5M384.1 199.5h2.6M384.1 202.5h2.6M392.1 198.9V202.0M390.8 198.9h2.6M390.8 202.0h2.6M398.8 198.3V201.5M397.5 198.3h2.6M397.5 201.5h2.6M405.5 196.9V200.3M404.2 196.9h2.6M404.2 200.3h2.6M412.2 195.7V199.4M410.9 195.7h2.6M410.9 199.4h2.6M418.9 195.1V198.9M417.6 195.1h2.6M417.6 198.9h2.6M425.5 194.5V198.4M424.2 194.5h2.6M424.2 198.4h2.6M432.2 195.1V198.9M430.9 195.1h2.6M430.9 198.9h2.6M438.9 195.7V199.4M437.6 195.7h2.6M437.6 199.4h2.6M445.6 193.7V197.7M444.3 193.7h2.6M444.3 197.7h2.6M452.3 192.8V197.0M451.0 192.8h2.6M451.0 197.0h2.6M459.0 192.8V197.0M457.7 192.8h2.6M457.7 197.0h2.6M465.6 192.8V197.0M464.3 192.8h2.6M464.3 197.0h2.6M472.3 190.5V195.1M471.0 190.5h2.6M471.0 195.1h2.6M479.0 189.3V194.2M477.7 189.3h2.6M477.7 194.2h2.6M485.7 189.6V194.4M484.4 189.6h2.6M484.4 194.4h2.6M492.4 189.0V193.9M491.1 189.0h2.6M491.1 193.9h2.6M499.0 189.0V193.9M497.7 189.0h2.6M497.7 193.9h2.6M505.7 187.6V192.7M504.4 187.6h2.6M504.4 192.7h2.6M512.4 187.3V192.5M511.1 187.3h2.6M511.1 192.5h2.6" fill="none" stroke="#1a5a9a" stroke-width="0.7"/>
<path d="M365.4 204.1L372.1 202.3L378.8 201.8L385.4 201.0L392.1 200.4L398.8 199.9L405.5 198.6L412.2 197.5L418.9 197.0L425.5 196.5L432.2 197.0L438.9 197.5L445.6 195.7L452.3 194.9L459.0 194.9L465.6 194.9L472.3 192.8L479.0 191.7L485.7 192.0L492.4 191.5L499.0 191.5L505.7 190.1L512.4 189.9" fill="none" stroke="#1a5a9a" stroke-width="0.9"/>
<path d="M365.4 204.1h0M372.1 202.3h0M378.8 201.8h0M385.4 201.0h0M392.1 200.4h0M398.8 199.9h0M405.5 198.6h0M412.2 197.5h0M418.9 197.0h0M425.5 196.5h0M432.2 197.0h0M438.9 197.5h0M445.6 195.7h0M452.3 194.9h0M459.0 194.9h0M465.6 194.9h0M472.3 192.8h0M479.0 191.7h0M485.7 192.0h0M492.4 191.5h0M499.0 191.5h0M505.7 190.1h0M512.4 189.9h0" fill="none" stroke="#1a5a9a" stroke-width="2.50" stroke-linecap="round"/>
<path d="M365.4 199.2V200.6M364.1 199.2h2.6M364.1 200.6h2.6M372.1 196.7V198.4M370.8 196.7h2.6M370.8 198.4h2.6M378.8 192.8V194.9M377.5 192.8h2.6M377.5 194.9h2.6M385.4 190.2V192.7M384.1 190.2h2.6M384.1 192.7h2.6M392.1 187.9V190.8M390.8 187.9h2.6M390.8 190.8h2.6M398.8 185.6V188.9M397.5 185.6h2.6M397.5 188.9h2.6M405.5 183.2V187.1M404.2 183.2h2.6M404.2 187.1h2.6M412.2 181.7V185.9M410.9 181.7h2.6M410.9 185.9h2.6M418.9 180.8V185.2M417.6 180.8h2.6M417.6 185.2h2.6M425.5 178.7V183.6M424.2 178.7h2.6M424.2 183.6h2.6M432.2 179.3V184.1M430.9 179.3h2.6M430.9 184.1h2.6M438.9 173.8V180.0M437.6 173.8h2.6M437.6 180.0h2.6M445.6 172.0V178.7M444.3 172.0h2.6M444.3 178.7h2.6M452.3 170.8V177.9M451.0 170.8h2.6M451.0 177.9h2.6M459.0 167.3V175.5M457.7 167.3h2.6M457.7 175.5h2.6M465.6 165.4V174.2M464.3 165.4h2.6M464.3 174.2h2.6M472.3 162.2V172.1M471.0 162.2h2.6M471.0 172.1h2.6M479.0 159.3V170.3M477.7 159.3h2.6M477.7 170.3h2.6M485.7 157.4V169.1M484.4 157.4h2.6M484.4 169.1h2.6M492.4 153.7V166.9M491.1 153.7h2.6M491.1 166.9h2.6M499.0 149.1V164.2M497.7 149.1h2.6M497.7 164.2h2.6M505.7 148.1V163.6M504.4 148.1h2.6M504.4 163.6h2.6M512.4 144.0V161.3M511.1 144.0h2.6M511.1 161.3h2.6" fill="none" stroke="#c8102e" stroke-width="0.7"/>
<path d="M365.4 199.9L372.1 197.5L378.8 193.8L385.4 191.5L392.1 189.4L398.8 187.2L405.5 185.1L412.2 183.8L418.9 183.0L425.5 181.2L432.2 181.7L438.9 176.9L445.6 175.4L452.3 174.3L459.0 171.4L465.6 169.8L472.3 167.2L479.0 164.8L485.7 163.2L492.4 160.3L499.0 156.6L505.7 155.8L512.4 152.7" fill="none" stroke="#c8102e" stroke-width="0.9"/>
<path d="M365.4 199.9h0M372.1 197.5h0M378.8 193.8h0M385.4 191.5h0M392.1 189.4h0M398.8 187.2h0M405.5 185.1h0M412.2 183.8h0M418.9 183.0h0M425.5 181.2h0M432.2 181.7h0M438.9 176.9h0M445.6 175.4h0M452.3 174.3h0M459.0 171.4h0M465.6 169.8h0M472.3 167.2h0M479.0 164.8h0M485.7 163.2h0M492.4 160.3h0M499.0 156.6h0M505.7 155.8h0M512.4 152.7h0" fill="none" stroke="#c8102e" stroke-width="2.50" stroke-linecap="round"/>
<line x1="368.50" y1="139.60" x2="376.90" y2="139.60" stroke="#22a83c" stroke-width="1.0" stroke-opacity="0.6"/>
<circle cx="372.70" cy="139.60" r="1.2" fill="#22a83c"/>
<text x="379.60" y="142.30" font-size="7.6" text-anchor="start" font-weight="normal" fill="#111" textLength="36.0" lengthAdjust="spacingAndGlyphs">OCI-AML3</text>
<line x1="368.50" y1="147.35" x2="376.90" y2="147.35" stroke="#4b0f6e" stroke-width="1.0" stroke-opacity="0.6"/>
<circle cx="372.70" cy="147.35" r="1.2" fill="#4b0f6e"/>
<text x="379.60" y="150.05" font-size="7.6" text-anchor="start" font-weight="normal" fill="#111" textLength="16.2" lengthAdjust="spacingAndGlyphs">IgG1</text>
<line x1="368.50" y1="155.10" x2="376.90" y2="155.10" stroke="#1a5a9a" stroke-width="1.0" stroke-opacity="0.6"/>
<circle cx="372.70" cy="155.10" r="1.2" fill="#1a5a9a"/>
<text x="379.60" y="157.80" font-size="7.6" text-anchor="start" font-weight="normal" fill="#111" textLength="30.6" lengthAdjust="spacingAndGlyphs">NK+IgG1</text>
<line x1="368.50" y1="162.85" x2="376.90" y2="162.85" stroke="#ff9010" stroke-width="1.0" stroke-opacity="0.6"/>
<circle cx="372.70" cy="162.85" r="1.2" fill="#ff9010"/>
<text x="379.60" y="165.55" font-size="7.6" text-anchor="start" font-weight="normal" fill="#111" textLength="34.9" lengthAdjust="spacingAndGlyphs">HEK5-1B3</text>
<line x1="368.50" y1="170.60" x2="376.90" y2="170.60" stroke="#c8102e" stroke-width="1.0" stroke-opacity="0.6"/>
<circle cx="372.70" cy="170.60" r="1.2" fill="#c8102e"/>
<text x="379.60" y="173.30" font-size="7.6" text-anchor="start" font-weight="normal" fill="#111" textLength="49.3" lengthAdjust="spacingAndGlyphs">NK+HEK5-1B3</text>
<text x="0" y="0" font-size="9.6" text-anchor="middle" fill="#111" textLength="74.5" lengthAdjust="spacingAndGlyphs" transform="translate(340.50,289.75) rotate(-90)">Annexin-V(+)cells/field</text>
<line x1="365.40" y1="251.90" x2="365.40" y2="325.85" stroke="#111" stroke-width="0.95" />
<line x1="364.95" y1="325.40" x2="513.00" y2="325.40" stroke="#111" stroke-width="0.95" />
<line x1="362.40" y1="323.60" x2="365.40" y2="323.60" stroke="#111" stroke-width="0.8" />
<text x="359.50" y="326.50" font-size="8.6" text-anchor="end" font-weight="normal" fill="#111" textLength="4.3" lengthAdjust="spacingAndGlyphs">0</text>
<line x1="362.40" y1="313.96" x2="365.40" y2="313.96" stroke="#111" stroke-width="0.8" />
<text x="359.50" y="316.86" font-size="8.6" text-anchor="end" font-weight="normal" fill="#111" textLength="12.9" lengthAdjust="spacingAndGlyphs">100</text>
<line x1="362.40" y1="304.32" x2="365.40" y2="304.32" stroke="#111" stroke-width="0.8" />
<text x="359.50" y="307.22" font-size="8.6" text-anchor="end" font-weight="normal" fill="#111" textLength="12.9" lengthAdjust="spacingAndGlyphs">200</text>
<line x1="362.40" y1="294.68" x2="365.40" y2="294.68" stroke="#111" stroke-width="0.8" />
<text x="359.50" y="297.58" font-size="8.6" text-anchor="end" font-weight="normal" fill="#111" textLength="12.9" lengthAdjust="spacingAndGlyphs">300</text>
<line x1="362.40" y1="285.04" x2="365.40" y2="285.04" stroke="#111" stroke-width="0.8" />
<text x="359.50" y="287.94" font-size="8.6" text-anchor="end" font-weight="normal" fill="#111" textLength="12.9" lengthAdjust="spacingAndGlyphs">400</text>
<line x1="362.40" y1="275.40" x2="365.40" y2="275.40" stroke="#111" stroke-width="0.8" />
<text x="359.50" y="278.30" font-size="8.6" text-anchor="end" font-weight="normal" fill="#111" textLength="12.9" lengthAdjust="spacingAndGlyphs">500</text>
<line x1="362.40" y1="265.76" x2="365.40" y2="265.76" stroke="#111" stroke-width="0.8" />
<text x="359.50" y="268.66" font-size="8.6" text-anchor="end" font-weight="normal" fill="#111" textLength="12.9" lengthAdjust="spacingAndGlyphs">600</text>
<line x1="362.40" y1="256.12" x2="365.40" y2="256.12" stroke="#111" stroke-width="0.8" />
<text x="359.50" y="259.02" font-size="8.6" text-anchor="end" font-weight="normal" fill="#111" textLength="12.9" lengthAdjust="spacingAndGlyphs">700</text>
<line x1="365.40" y1="325.40" x2="365.40" y2="328.70" stroke="#111" stroke-width="0.95" />
<text x="365.40" y="337.80" font-size="8.6" text-anchor="middle" font-weight="normal" fill="#111" textLength="4.3" lengthAdjust="spacingAndGlyphs">0</text>
<line x1="383.22" y1="325.40" x2="383.22" y2="328.70" stroke="#111" stroke-width="0.95" />
<text x="383.22" y="337.80" font-size="8.6" text-anchor="middle" font-weight="normal" fill="#111" textLength="4.3" lengthAdjust="spacingAndGlyphs">2</text>
<line x1="401.04" y1="325.40" x2="401.04" y2="328.70" stroke="#111" stroke-width="0.95" />
<text x="401.04" y="337.80" font-size="8.6" text-anchor="middle" font-weight="normal" fill="#111" textLength="4.3" lengthAdjust="spacingAndGlyphs">4</text>
<line x1="418.86" y1="325.40" x2="418.86" y2="328.70" stroke="#111" stroke-width="0.95" />
<text x="418.86" y="337.80" font-size="8.6" text-anchor="middle" font-weight="normal" fill="#111" textLength="4.3" lengthAdjust="spacingAndGlyphs">6</text>
<line x1="436.68" y1="325.40" x2="436.68" y2="328.70" stroke="#111" stroke-width="0.95" />
<text x="436.68" y="337.80" font-size="8.6" text-anchor="middle" font-weight="normal" fill="#111" textLength="4.3" lengthAdjust="spacingAndGlyphs">8</text>
<line x1="454.50" y1="325.40" x2="454.50" y2="328.70" stroke="#111" stroke-width="0.95" />
<text x="454.50" y="337.80" font-size="8.6" text-anchor="middle" font-weight="normal" fill="#111" textLength="8.6" lengthAdjust="spacingAndGlyphs">10</text>
<line x1="472.32" y1="325.40" x2="472.32" y2="328.70" stroke="#111" stroke-width="0.95" />
<text x="472.32" y="337.80" font-size="8.6" text-anchor="middle" font-weight="normal" fill="#111" textLength="8.6" lengthAdjust="spacingAndGlyphs">12</text>
<line x1="490.14" y1="325.40" x2="490.14" y2="328.70" stroke="#111" stroke-width="0.95" />
<text x="490.14" y="337.80" font-size="8.6" text-anchor="middle" font-weight="normal" fill="#111" textLength="8.6" lengthAdjust="spacingAndGlyphs">14</text>
<line x1="507.96" y1="325.40" x2="507.96" y2="328.70" stroke="#111" stroke-width="0.95" />
<text x="507.96" y="337.80" font-size="8.6" text-anchor="middle" font-weight="normal" fill="#111" textLength="8.6" lengthAdjust="spacingAndGlyphs">16</text>
<text x="439.00" y="350.70" font-size="9.2" text-anchor="middle" font-weight="normal" fill="#111" textLength="42.5" lengthAdjust="spacingAndGlyphs">Time (hours)</text>
<line x1="366.40" y1="324.20" x2="513.00" y2="324.20" stroke="#222" stroke-width="0.6" stroke-dasharray="0.8 1.2"/>
<path d="M365.4 323.0L372.1 322.9L378.8 322.7L385.4 322.6L392.1 322.4L398.8 322.4L405.5 322.3L412.2 322.3L418.9 322.2L425.5 322.1L432.2 322.1L438.9 322.0L445.6 321.9L452.3 321.9L459.0 321.8L465.6 321.7L472.3 321.7L479.0 321.6L485.7 321.5L492.4 321.5L499.0 321.4L505.7 321.4L512.4 321.3" fill="none" stroke="#ff9010" stroke-width="0.9"/>
<path d="M365.4 323.0h0M372.1 322.9h0M378.8 322.7h0M385.4 322.6h0M392.1 322.4h0M398.8 322.4h0M405.5 322.3h0M412.2 322.3h0M418.9 322.2h0M425.5 322.1h0M432.2 322.1h0M438.9 322.0h0M445.6 321.9h0M452.3 321.9h0M459.0 321.8h0M465.6 321.7h0M472.3 321.7h0M479.0 321.6h0M485.7 321.5h0M492.4 321.5h0M499.0 321.4h0M505.7 321.4h0M512.4 321.3h0" fill="none" stroke="#ff9010" stroke-width="2.50" stroke-linecap="round"/>
<path d="M365.4 322.6L372.1 322.4L378.8 322.3L385.4 322.1L392.1 321.9L398.8 321.8L405.5 321.7L412.2 321.7L418.9 321.6L425.5 321.5L432.2 321.4L438.9 321.4L445.6 321.3L452.3 321.2L459.0 321.2L465.6 321.1L472.3 321.0L479.0 321.0L485.7 320.9L492.4 320.8L499.0 320.8L505.7 320.7L512.4 320.6" fill="none" stroke="#4b0f6e" stroke-width="0.9"/>
<path d="M365.4 322.6h0M372.1 322.4h0M378.8 322.3h0M385.4 322.1h0M392.1 321.9h0M398.8 321.8h0M405.5 321.7h0M412.2 321.7h0M418.9 321.6h0M425.5 321.5h0M432.2 321.4h0M438.9 321.4h0M445.6 321.3h0M452.3 321.2h0M459.0 321.2h0M465.6 321.1h0M472.3 321.0h0M479.0 321.0h0M485.7 320.9h0M492.4 320.8h0M499.0 320.8h0M505.7 320.7h0M512.4 320.6h0" fill="none" stroke="#4b0f6e" stroke-width="2.50" stroke-linecap="round"/>
<path d="M365.4 323.1L372.1 323.0L378.8 322.9L385.4 322.8L392.1 322.6L398.8 322.6L405.5 322.6L412.2 322.6L418.9 322.6L425.5 322.5L432.2 322.5L438.9 322.5L445.6 322.5L452.3 322.4L459.0 322.4L465.6 322.4L472.3 322.4L479.0 322.4L485.7 322.3L492.4 322.3L499.0 322.3L505.7 322.3L512.4 322.3" fill="none" stroke="#22a83c" stroke-width="0.9"/>
<path d="M365.4 323.1h0M372.1 323.0h0M378.8 322.9h0M385.4 322.8h0M392.1 322.6h0M398.8 322.6h0M405.5 322.6h0M412.2 322.6h0M418.9 322.6h0M425.5 322.5h0M432.2 322.5h0M438.9 322.5h0M445.6 322.5h0M452.3 322.4h0M459.0 322.4h0M465.6 322.4h0M472.3 322.4h0M479.0 322.4h0M485.7 322.3h0M492.4 322.3h0M499.0 322.3h0M505.7 322.3h0M512.4 322.3h0" fill="none" stroke="#22a83c" stroke-width="2.50" stroke-linecap="round"/>
<path d="M365.4 321.2V322.0M364.1 321.2h2.6M364.1 322.0h2.6M372.1 320.9V321.7M370.8 320.9h2.6M370.8 321.7h2.6M378.8 320.5V321.5M377.5 320.5h2.6M377.5 321.5h2.6M385.4 320.2V321.2M384.1 320.2h2.6M384.1 321.2h2.6M392.1 319.9V320.9M390.8 319.9h2.6M390.8 320.9h2.6M398.8 319.8V320.8M397.5 319.8h2.6M397.5 320.8h2.6M405.5 319.7V320.8M404.2 319.7h2.6M404.2 320.8h2.6M412.2 319.6V320.7M410.9 319.6h2.6M410.9 320.7h2.6M418.9 319.5V320.6M417.6 319.5h2.6M417.6 320.6h2.6M425.5 319.4V320.5M424.2 319.4h2.6M424.2 320.5h2.6M432.2 319.3V320.4M430.9 319.3h2.6M430.9 320.4h2.6M438.9 319.2V320.3M437.6 319.2h2.6M437.6 320.3h2.6M445.6 319.1V320.2M444.3 319.1h2.6M444.3 320.2h2.6M452.3 318.8V320.0M451.0 318.8h2.6M451.0 320.0h2.6M459.0 318.6V319.8M457.7 318.6h2.6M457.7 319.8h2.6M465.6 318.3V319.6M464.3 318.3h2.6M464.3 319.6h2.6M472.3 317.7V319.1M471.0 317.7h2.6M471.0 319.1h2.6M479.0 317.4V318.9M477.7 317.4h2.6M477.7 318.9h2.6M485.7 317.1V318.6M484.4 317.1h2.6M484.4 318.6h2.6M492.4 316.8V318.4M491.1 316.8h2.6M491.1 318.4h2.6M499.0 316.5V318.2M497.7 316.5h2.6M497.7 318.2h2.6M505.7 316.3V318.0M504.4 316.3h2.6M504.4 318.0h2.6M512.4 316.0V317.7M511.1 316.0h2.6M511.1 317.7h2.6" fill="none" stroke="#1a5a9a" stroke-width="0.7"/>
<path d="M365.4 321.6L372.1 321.3L378.8 321.0L385.4 320.7L392.1 320.4L398.8 320.3L405.5 320.2L412.2 320.1L418.9 320.0L425.5 319.9L432.2 319.8L438.9 319.7L445.6 319.6L452.3 319.4L459.0 319.2L465.6 319.0L472.3 318.4L479.0 318.1L485.7 317.9L492.4 317.6L499.0 317.4L505.7 317.1L512.4 316.9" fill="none" stroke="#1a5a9a" stroke-width="0.9"/>
<path d="M365.4 321.6h0M372.1 321.3h0M378.8 321.0h0M385.4 320.7h0M392.1 320.4h0M398.8 320.3h0M405.5 320.2h0M412.2 320.1h0M418.9 320.0h0M425.5 319.9h0M432.2 319.8h0M438.9 319.7h0M445.6 319.6h0M452.3 319.4h0M459.0 319.2h0M465.6 319.0h0M472.3 318.4h0M479.0 318.1h0M485.7 317.9h0M492.4 317.6h0M499.0 317.4h0M505.7 317.1h0M512.4 316.9h0" fill="none" stroke="#1a5a9a" stroke-width="2.50" stroke-linecap="round"/>
<path d="M365.4 317.7V318.8M364.1 317.7h2.6M364.1 318.8h2.6M372.1 315.8V317.0M370.8 315.8h2.6M370.8 317.0h2.6M378.8 312.1V313.7M377.5 312.1h2.6M377.5 313.7h2.6M385.4 307.2V309.3M384.1 307.2h2.6M384.1 309.3h2.6M392.1 305.6V307.9M390.8 305.6h2.6M390.8 307.9h2.6M398.8 303.1V305.8M397.5 303.1h2.6M397.5 305.8h2.6M405.5 300.3V303.5M404.2 300.3h2.6M404.2 303.5h2.6M412.2 298.3V301.9M410.9 298.3h2.6M410.9 301.9h2.6M418.9 296.8V300.7M417.6 296.8h2.6M417.6 300.7h2.6M425.5 295.0V299.3M424.2 295.0h2.6M424.2 299.3h2.6M432.2 293.3V298.0M430.9 293.3h2.6M430.9 298.0h2.6M438.9 290.8V296.1M437.6 290.8h2.6M437.6 296.1h2.6M445.6 287.9V294.0M444.3 287.9h2.6M444.3 294.0h2.6M452.3 283.4V290.7M451.0 283.4h2.6M451.0 290.7h2.6M459.0 283.4V290.7M457.7 283.4h2.6M457.7 290.7h2.6M465.6 281.8V289.6M464.3 281.8h2.6M464.3 289.6h2.6M472.3 280.2V288.5M471.0 280.2h2.6M471.0 288.5h2.6M479.0 277.2V286.5M477.7 277.2h2.6M477.7 286.5h2.6M485.7 273.4V284.0M484.4 273.4h2.6M484.4 284.0h2.6M492.4 273.4V284.0M491.1 273.4h2.6M491.1 284.0h2.6M499.0 270.3V282.0M497.7 270.3h2.6M497.7 282.0h2.6M505.7 269.1V281.3M504.4 269.1h2.6M504.4 281.3h2.6M512.4 267.6V280.3M511.1 267.6h2.6M511.1 280.3h2.6" fill="none" stroke="#c8102e" stroke-width="0.7"/>
<path d="M365.4 318.2L372.1 316.4L378.8 312.9L385.4 308.3L392.1 306.7L398.8 304.4L405.5 301.9L412.2 300.1L418.9 298.7L425.5 297.2L432.2 295.6L438.9 293.4L445.6 290.9L452.3 287.1L459.0 287.1L465.6 285.7L472.3 284.4L479.0 281.9L485.7 278.7L492.4 278.7L499.0 276.2L505.7 275.2L512.4 274.0" fill="none" stroke="#c8102e" stroke-width="0.9"/>
<path d="M365.4 318.2h0M372.1 316.4h0M378.8 312.9h0M385.4 308.3h0M392.1 306.7h0M398.8 304.4h0M405.5 301.9h0M412.2 300.1h0M418.9 298.7h0M425.5 297.2h0M432.2 295.6h0M438.9 293.4h0M445.6 290.9h0M452.3 287.1h0M459.0 287.1h0M465.6 285.7h0M472.3 284.4h0M479.0 281.9h0M485.7 278.7h0M492.4 278.7h0M499.0 276.2h0M505.7 275.2h0M512.4 274.0h0" fill="none" stroke="#c8102e" stroke-width="2.50" stroke-linecap="round"/>
<line x1="368.50" y1="254.60" x2="376.90" y2="254.60" stroke="#22a83c" stroke-width="1.0" stroke-opacity="0.6"/>
<circle cx="372.70" cy="254.60" r="1.2" fill="#22a83c"/>
<text x="379.60" y="257.30" font-size="7.6" text-anchor="start" font-weight="normal" fill="#111" textLength="36.0" lengthAdjust="spacingAndGlyphs">OCI-AML3</text>
<line x1="368.50" y1="262.35" x2="376.90" y2="262.35" stroke="#4b0f6e" stroke-width="1.0" stroke-opacity="0.6"/>
<circle cx="372.70" cy="262.35" r="1.2" fill="#4b0f6e"/>
<text x="379.60" y="265.05" font-size="7.6" text-anchor="start" font-weight="normal" fill="#111" textLength="16.2" lengthAdjust="spacingAndGlyphs">IgG1</text>
<line x1="368.50" y1="270.10" x2="376.90" y2="270.10" stroke="#1a5a9a" stroke-width="1.0" stroke-opacity="0.6"/>
<circle cx="372.70" cy="270.10" r="1.2" fill="#1a5a9a"/>
<text x="379.60" y="272.80" font-size="7.6" text-anchor="start" font-weight="normal" fill="#111" textLength="30.6" lengthAdjust="spacingAndGlyphs">NK+IgG1</text>
<line x1="368.50" y1="277.85" x2="376.90" y2="277.85" stroke="#ff9010" stroke-width="1.0" stroke-opacity="0.6"/>
<circle cx="372.70" cy="277.85" r="1.2" fill="#ff9010"/>
<text x="379.60" y="280.55" font-size="7.6" text-anchor="start" font-weight="normal" fill="#111" textLength="17.3" lengthAdjust="spacingAndGlyphs">58B1</text>
<line x1="368.50" y1="285.60" x2="376.90" y2="285.60" stroke="#c8102e" stroke-width="1.0" stroke-opacity="0.6"/>
<circle cx="372.70" cy="285.60" r="1.2" fill="#c8102e"/>
<text x="379.60" y="288.30" font-size="7.6" text-anchor="start" font-weight="normal" fill="#111" textLength="31.8" lengthAdjust="spacingAndGlyphs">NK+58B1</text>
<text x="0" y="0" font-size="9.6" text-anchor="middle" fill="#111" textLength="74.5" lengthAdjust="spacingAndGlyphs" transform="translate(340.50,415.25) rotate(-90)">Annexin-V(+)cells/field</text>
<line x1="365.40" y1="379.20" x2="365.40" y2="452.85" stroke="#111" stroke-width="0.95" />
<line x1="364.95" y1="452.40" x2="513.00" y2="452.40" stroke="#111" stroke-width="0.95" />
<line x1="362.40" y1="452.00" x2="365.40" y2="452.00" stroke="#111" stroke-width="0.8" />
<text x="359.50" y="454.90" font-size="8.6" text-anchor="end" font-weight="normal" fill="#111" textLength="4.3" lengthAdjust="spacingAndGlyphs">0</text>
<line x1="362.40" y1="438.30" x2="365.40" y2="438.30" stroke="#111" stroke-width="0.8" />
<text x="359.50" y="441.20" font-size="8.6" text-anchor="end" font-weight="normal" fill="#111" textLength="8.6" lengthAdjust="spacingAndGlyphs">50</text>
<line x1="362.40" y1="424.60" x2="365.40" y2="424.60" stroke="#111" stroke-width="0.8" />
<text x="359.50" y="427.50" font-size="8.6" text-anchor="end" font-weight="normal" fill="#111" textLength="12.9" lengthAdjust="spacingAndGlyphs">100</text>
<line x1="362.40" y1="410.90" x2="365.40" y2="410.90" stroke="#111" stroke-width="0.8" />
<text x="359.50" y="413.80" font-size="8.6" text-anchor="end" font-weight="normal" fill="#111" textLength="12.9" lengthAdjust="spacingAndGlyphs">150</text>
<line x1="362.40" y1="397.20" x2="365.40" y2="397.20" stroke="#111" stroke-width="0.8" />
<text x="359.50" y="400.10" font-size="8.6" text-anchor="end" font-weight="normal" fill="#111" textLength="12.9" lengthAdjust="spacingAndGlyphs">200</text>
<line x1="362.40" y1="383.50" x2="365.40" y2="383.50" stroke="#111" stroke-width="0.8" />
<text x="359.50" y="386.40" font-size="8.6" text-anchor="end" font-weight="normal" fill="#111" textLength="12.9" lengthAdjust="spacingAndGlyphs">250</text>
<line x1="365.40" y1="452.40" x2="365.40" y2="455.70" stroke="#111" stroke-width="0.95" />
<text x="365.40" y="464.80" font-size="8.6" text-anchor="middle" font-weight="normal" fill="#111" textLength="4.3" lengthAdjust="spacingAndGlyphs">0</text>
<line x1="383.20" y1="452.40" x2="383.20" y2="455.70" stroke="#111" stroke-width="0.95" />
<text x="383.20" y="464.80" font-size="8.6" text-anchor="middle" font-weight="normal" fill="#111" textLength="4.3" lengthAdjust="spacingAndGlyphs">1</text>
<line x1="401.00" y1="452.40" x2="401.00" y2="455.70" stroke="#111" stroke-width="0.95" />
<text x="401.00" y="464.80" font-size="8.6" text-anchor="middle" font-weight="normal" fill="#111" textLength="4.3" lengthAdjust="spacingAndGlyphs">2</text>
<line x1="418.80" y1="452.40" x2="418.80" y2="455.70" stroke="#111" stroke-width="0.95" />
<text x="418.80" y="464.80" font-size="8.6" text-anchor="middle" font-weight="normal" fill="#111" textLength="4.3" lengthAdjust="spacingAndGlyphs">3</text>
<line x1="436.60" y1="452.40" x2="436.60" y2="455.70" stroke="#111" stroke-width="0.95" />
<text x="436.60" y="464.80" font-size="8.6" text-anchor="middle" font-weight="normal" fill="#111" textLength="4.3" lengthAdjust="spacingAndGlyphs">4</text>
<line x1="454.40" y1="452.40" x2="454.40" y2="455.70" stroke="#111" stroke-width="0.95" />
<text x="454.40" y="464.80" font-size="8.6" text-anchor="middle" font-weight="normal" fill="#111" textLength="4.3" lengthAdjust="spacingAndGlyphs">5</text>
<line x1="472.20" y1="452.40" x2="472.20" y2="455.70" stroke="#111" stroke-width="0.95" />
<text x="472.20" y="464.80" font-size="8.6" text-anchor="middle" font-weight="normal" fill="#111" textLength="4.3" lengthAdjust="spacingAndGlyphs">6</text>
<line x1="490.00" y1="452.40" x2="490.00" y2="455.70" stroke="#111" stroke-width="0.95" />
<text x="490.00" y="464.80" font-size="8.6" text-anchor="middle" font-weight="normal" fill="#111" textLength="4.3" lengthAdjust="spacingAndGlyphs">7</text>
<line x1="507.80" y1="452.40" x2="507.80" y2="455.70" stroke="#111" stroke-width="0.95" />
<text x="507.80" y="464.80" font-size="8.6" text-anchor="middle" font-weight="normal" fill="#111" textLength="4.3" lengthAdjust="spacingAndGlyphs">8</text>
<text x="439.00" y="477.50" font-size="9.2" text-anchor="middle" font-weight="normal" fill="#111" textLength="42.5" lengthAdjust="spacingAndGlyphs">Time (hours)</text>
<path d="M365.4 451.7V452.3M364.1 451.7h2.6M364.1 452.3h2.6M383.2 451.4V452.0M381.9 451.4h2.6M381.9 452.0h2.6M401.0 451.2V451.8M399.7 451.2h2.6M399.7 451.8h2.6M418.8 451.2V451.8M417.5 451.2h2.6M417.5 451.8h2.6M436.6 450.9V451.5M435.3 450.9h2.6M435.3 451.5h2.6M454.4 448.6V449.4M453.1 448.6h2.6M453.1 449.4h2.6M472.2 447.1V448.1M470.9 447.1h2.6M470.9 448.1h2.6M490.0 445.1V446.3M488.7 445.1h2.6M488.7 446.3h2.6M507.8 443.4V444.7M506.5 443.4h2.6M506.5 444.7h2.6" fill="none" stroke="#4b0f6e" stroke-width="0.7"/>
<path d="M365.4 452.0L383.2 451.7L401.0 451.5L418.8 451.5L436.6 451.2L454.4 449.0L472.2 447.6L490.0 445.7L507.8 444.1" fill="none" stroke="#4b0f6e" stroke-width="0.9"/>
<path d="M365.4 452.0h0M383.2 451.7h0M401.0 451.5h0M418.8 451.5h0M436.6 451.2h0M454.4 449.0h0M472.2 447.6h0M490.0 445.7h0M507.8 444.1h0" fill="none" stroke="#4b0f6e" stroke-width="2.50" stroke-linecap="round"/>
<path d="M365.4 451.7V452.3M364.1 451.7h2.6M364.1 452.3h2.6M383.2 450.9V451.5M381.9 450.9h2.6M381.9 451.5h2.6M401.0 450.3V451.0M399.7 450.3h2.6M399.7 451.0h2.6M418.8 449.7V450.5M417.5 449.7h2.6M417.5 450.5h2.6M436.6 449.1V449.9M435.3 449.1h2.6M435.3 449.9h2.6M454.4 448.3V449.2M453.1 448.3h2.6M453.1 449.2h2.6M472.2 445.1V446.3M470.9 445.1h2.6M470.9 446.3h2.6M490.0 442.8V444.2M488.7 442.8h2.6M488.7 444.2h2.6M507.8 440.2V441.9M506.5 440.2h2.6M506.5 441.9h2.6" fill="none" stroke="#22a83c" stroke-width="0.7"/>
<path d="M365.4 452.0L383.2 451.2L401.0 450.6L418.8 450.1L436.6 449.5L454.4 448.7L472.2 445.7L490.0 443.5L507.8 441.0" fill="none" stroke="#22a83c" stroke-width="0.9"/>
<path d="M365.4 452.0h0M383.2 451.2h0M401.0 450.6h0M418.8 450.1h0M436.6 449.5h0M454.4 448.7h0M472.2 445.7h0M490.0 443.5h0M507.8 441.0h0" fill="none" stroke="#22a83c" stroke-width="2.50" stroke-linecap="round"/>
<path d="M365.4 451.0V451.9M364.1 451.0h2.6M364.1 451.9h2.6M383.2 449.1V450.5M381.9 449.1h2.6M381.9 450.5h2.6M401.0 447.9V449.5M399.7 447.9h2.6M399.7 449.5h2.6M418.8 447.3V449.0M417.5 447.3h2.6M417.5 449.0h2.6M436.6 445.5V447.6M435.3 445.5h2.6M435.3 447.6h2.6M454.4 444.2V446.6M453.1 444.2h2.6M453.1 446.6h2.6M472.2 442.7V445.4M470.9 442.7h2.6M470.9 445.4h2.6M490.0 441.8V444.7M488.7 441.8h2.6M488.7 444.7h2.6M507.8 440.2V443.5M506.5 440.2h2.6M506.5 443.5h2.6" fill="none" stroke="#1a5a9a" stroke-width="0.7"/>
<path d="M365.4 451.5L383.2 449.8L401.0 448.7L418.8 448.2L436.6 446.5L454.4 445.4L472.2 444.1L490.0 443.2L507.8 441.9" fill="none" stroke="#1a5a9a" stroke-width="0.9"/>
<path d="M365.4 451.5h0M383.2 449.8h0M401.0 448.7h0M418.8 448.2h0M436.6 446.5h0M454.4 445.4h0M472.2 444.1h0M490.0 443.2h0M507.8 441.9h0" fill="none" stroke="#1a5a9a" stroke-width="2.50" stroke-linecap="round"/>
<path d="M365.4 449.1V451.1M364.1 449.1h2.6M364.1 451.1h2.6M383.2 440.3V443.9M381.9 440.3h2.6M381.9 443.9h2.6M401.0 431.9V437.0M399.7 431.9h2.6M399.7 437.0h2.6M418.8 428.0V433.8M417.5 428.0h2.6M417.5 433.8h2.6M436.6 424.7V431.1M435.3 424.7h2.6M435.3 431.1h2.6M454.4 422.2V429.1M453.1 422.2h2.6M453.1 429.1h2.6M472.2 420.1V427.4M470.9 420.1h2.6M470.9 427.4h2.6M490.0 418.9V426.4M488.7 418.9h2.6M488.7 426.4h2.6M507.8 418.0V425.7M506.5 418.0h2.6M506.5 425.7h2.6" fill="none" stroke="#ff9010" stroke-width="0.7"/>
<path d="M365.4 450.1L383.2 442.1L401.0 434.5L418.8 430.9L436.6 427.9L454.4 425.7L472.2 423.8L490.0 422.7L507.8 421.9" fill="none" stroke="#ff9010" stroke-width="0.9"/>
<path d="M365.4 450.1h0M383.2 442.1h0M401.0 434.5h0M418.8 430.9h0M436.6 427.9h0M454.4 425.7h0M472.2 423.8h0M490.0 422.7h0M507.8 421.9h0" fill="none" stroke="#ff9010" stroke-width="2.50" stroke-linecap="round"/>
<path d="M365.4 446.5V449.3M364.1 446.5h2.6M364.1 449.3h2.6M383.2 429.6V434.4M381.9 429.6h2.6M381.9 434.4h2.6M401.0 417.9V424.1M399.7 417.9h2.6M399.7 424.1h2.6M418.8 407.1V414.7M417.5 407.1h2.6M417.5 414.7h2.6M436.6 403.3V411.3M435.3 403.3h2.6M435.3 411.3h2.6M454.4 398.4V407.0M453.1 398.4h2.6M453.1 407.0h2.6M472.2 396.9V405.7M470.9 396.9h2.6M470.9 405.7h2.6M490.0 394.3V403.4M488.7 394.3h2.6M488.7 403.4h2.6M507.8 391.4V400.8M506.5 391.4h2.6M506.5 400.8h2.6" fill="none" stroke="#c8102e" stroke-width="0.7"/>
<path d="M365.4 447.9L383.2 432.0L401.0 421.0L418.8 410.9L436.6 407.3L454.4 402.7L472.2 401.3L490.0 398.8L507.8 396.1" fill="none" stroke="#c8102e" stroke-width="0.9"/>
<path d="M365.4 447.9h0M383.2 432.0h0M401.0 421.0h0M418.8 410.9h0M436.6 407.3h0M454.4 402.7h0M472.2 401.3h0M490.0 398.8h0M507.8 396.1h0" fill="none" stroke="#c8102e" stroke-width="2.50" stroke-linecap="round"/>
<line x1="368.50" y1="374.00" x2="376.90" y2="374.00" stroke="#22a83c" stroke-width="1.0" stroke-opacity="0.6"/>
<circle cx="372.70" cy="374.00" r="1.2" fill="#22a83c"/>
<text x="379.60" y="376.70" font-size="7.6" text-anchor="start" font-weight="normal" fill="#111" textLength="41.3" lengthAdjust="spacingAndGlyphs">Primary cells</text>
<line x1="368.50" y1="381.75" x2="376.90" y2="381.75" stroke="#4b0f6e" stroke-width="1.0" stroke-opacity="0.6"/>
<circle cx="372.70" cy="381.75" r="1.2" fill="#4b0f6e"/>
<text x="379.60" y="384.45" font-size="7.6" text-anchor="start" font-weight="normal" fill="#111" textLength="16.2" lengthAdjust="spacingAndGlyphs">IgG1</text>
<line x1="368.50" y1="389.50" x2="376.90" y2="389.50" stroke="#ff9010" stroke-width="1.0" stroke-opacity="0.6"/>
<circle cx="372.70" cy="389.50" r="1.2" fill="#ff9010"/>
<text x="379.60" y="392.20" font-size="7.6" text-anchor="start" font-weight="normal" fill="#111" textLength="30.6" lengthAdjust="spacingAndGlyphs">NK+IgG1</text>
<line x1="368.50" y1="397.25" x2="376.90" y2="397.25" stroke="#1a5a9a" stroke-width="1.0" stroke-opacity="0.6"/>
<circle cx="372.70" cy="397.25" r="1.2" fill="#1a5a9a"/>
<text x="379.60" y="399.95" font-size="7.6" text-anchor="start" font-weight="normal" fill="#111" textLength="19.8" lengthAdjust="spacingAndGlyphs">T-1A5</text>
<line x1="368.50" y1="405.00" x2="376.90" y2="405.00" stroke="#c8102e" stroke-width="1.0" stroke-opacity="0.6"/>
<circle cx="372.70" cy="405.00" r="1.2" fill="#c8102e"/>
<text x="379.60" y="407.70" font-size="7.6" text-anchor="start" font-weight="normal" fill="#111" textLength="34.3" lengthAdjust="spacingAndGlyphs">NK+T-1A5</text>
<text x="0" y="0" font-size="9.6" text-anchor="middle" fill="#111" textLength="75.0" lengthAdjust="spacingAndGlyphs" transform="translate(340.50,529.00) rotate(-90)">Annexin-V(+)cells/field</text>
<line x1="365.40" y1="494.00" x2="365.40" y2="567.45" stroke="#111" stroke-width="0.95" />
<line x1="364.95" y1="567.00" x2="513.00" y2="567.00" stroke="#111" stroke-width="0.95" />
<line x1="362.40" y1="567.00" x2="365.40" y2="567.00" stroke="#111" stroke-width="0.8" />
<text x="359.50" y="569.90" font-size="8.6" text-anchor="end" font-weight="normal" fill="#111" textLength="4.3" lengthAdjust="spacingAndGlyphs">0</text>
<line x1="362.40" y1="549.70" x2="365.40" y2="549.70" stroke="#111" stroke-width="0.8" />
<text x="359.50" y="552.60" font-size="8.6" text-anchor="end" font-weight="normal" fill="#111" textLength="8.6" lengthAdjust="spacingAndGlyphs">50</text>
<line x1="362.40" y1="532.40" x2="365.40" y2="532.40" stroke="#111" stroke-width="0.8" />
<text x="359.50" y="535.30" font-size="8.6" text-anchor="end" font-weight="normal" fill="#111" textLength="12.9" lengthAdjust="spacingAndGlyphs">100</text>
<line x1="362.40" y1="515.10" x2="365.40" y2="515.10" stroke="#111" stroke-width="0.8" />
<text x="359.50" y="518.00" font-size="8.6" text-anchor="end" font-weight="normal" fill="#111" textLength="12.9" lengthAdjust="spacingAndGlyphs">150</text>
<line x1="362.40" y1="497.80" x2="365.40" y2="497.80" stroke="#111" stroke-width="0.8" />
<text x="359.50" y="500.70" font-size="8.6" text-anchor="end" font-weight="normal" fill="#111" textLength="12.9" lengthAdjust="spacingAndGlyphs">200</text>
<line x1="365.40" y1="567.00" x2="365.40" y2="570.30" stroke="#111" stroke-width="0.95" />
<text x="365.40" y="579.40" font-size="8.6" text-anchor="middle" font-weight="normal" fill="#111" textLength="4.3" lengthAdjust="spacingAndGlyphs">0</text>
<line x1="383.20" y1="567.00" x2="383.20" y2="570.30" stroke="#111" stroke-width="0.95" />
<text x="383.20" y="579.40" font-size="8.6" text-anchor="middle" font-weight="normal" fill="#111" textLength="4.3" lengthAdjust="spacingAndGlyphs">1</text>
<line x1="401.00" y1="567.00" x2="401.00" y2="570.30" stroke="#111" stroke-width="0.95" />
<text x="401.00" y="579.40" font-size="8.6" text-anchor="middle" font-weight="normal" fill="#111" textLength="4.3" lengthAdjust="spacingAndGlyphs">2</text>
<line x1="418.80" y1="567.00" x2="418.80" y2="570.30" stroke="#111" stroke-width="0.95" />
<text x="418.80" y="579.40" font-size="8.6" text-anchor="middle" font-weight="normal" fill="#111" textLength="4.3" lengthAdjust="spacingAndGlyphs">3</text>
<line x1="436.60" y1="567.00" x2="436.60" y2="570.30" stroke="#111" stroke-width="0.95" />
<text x="436.60" y="579.40" font-size="8.6" text-anchor="middle" font-weight="normal" fill="#111" textLength="4.3" lengthAdjust="spacingAndGlyphs">4</text>
<line x1="454.40" y1="567.00" x2="454.40" y2="570.30" stroke="#111" stroke-width="0.95" />
<text x="454.40" y="579.40" font-size="8.6" text-anchor="middle" font-weight="normal" fill="#111" textLength="4.3" lengthAdjust="spacingAndGlyphs">5</text>
<line x1="472.20" y1="567.00" x2="472.20" y2="570.30" stroke="#111" stroke-width="0.95" />
<text x="472.20" y="579.40" font-size="8.6" text-anchor="middle" font-weight="normal" fill="#111" textLength="4.3" lengthAdjust="spacingAndGlyphs">6</text>
<line x1="490.00" y1="567.00" x2="490.00" y2="570.30" stroke="#111" stroke-width="0.95" />
<text x="490.00" y="579.40" font-size="8.6" text-anchor="middle" font-weight="normal" fill="#111" textLength="4.3" lengthAdjust="spacingAndGlyphs">7</text>
<line x1="507.80" y1="567.00" x2="507.80" y2="570.30" stroke="#111" stroke-width="0.95" />
<text x="507.80" y="579.40" font-size="8.6" text-anchor="middle" font-weight="normal" fill="#111" textLength="4.3" lengthAdjust="spacingAndGlyphs">8</text>
<text x="439.00" y="591.90" font-size="9.2" text-anchor="middle" font-weight="normal" fill="#111" textLength="42.5" lengthAdjust="spacingAndGlyphs">Time (hours)</text>
<path d="M365.4 566.3V567.0M364.1 566.3h2.6M364.1 567.0h2.6M383.2 564.1V565.0M381.9 564.1h2.6M381.9 565.0h2.6M401.0 563.0V564.1M399.7 563.0h2.6M399.7 564.1h2.6M418.8 561.9V563.1M417.5 561.9h2.6M417.5 563.1h2.6M436.6 561.2V562.4M435.3 561.2h2.6M435.3 562.4h2.6M454.4 559.0V560.4M453.1 559.0h2.6M453.1 560.4h2.6M472.2 557.2V558.8M470.9 557.2h2.6M470.9 558.8h2.6M490.0 555.4V557.2M488.7 555.4h2.6M488.7 557.2h2.6M507.8 553.9V555.8M506.5 553.9h2.6M506.5 555.8h2.6" fill="none" stroke="#4b0f6e" stroke-width="0.7"/>
<path d="M365.4 566.7L383.2 564.6L401.0 563.5L418.8 562.5L436.6 561.8L454.4 559.7L472.2 558.0L490.0 556.3L507.8 554.9" fill="none" stroke="#4b0f6e" stroke-width="0.9"/>
<path d="M365.4 566.7h0M383.2 564.6h0M401.0 563.5h0M418.8 562.5h0M436.6 561.8h0M454.4 559.7h0M472.2 558.0h0M490.0 556.3h0M507.8 554.9h0" fill="none" stroke="#4b0f6e" stroke-width="2.50" stroke-linecap="round"/>
<path d="M365.4 566.3V567.0M364.1 566.3h2.6M364.1 567.0h2.6M383.2 564.5V565.4M381.9 564.5h2.6M381.9 565.4h2.6M401.0 563.7V564.7M399.7 563.7h2.6M399.7 564.7h2.6M418.8 562.7V563.7M417.5 562.7h2.6M417.5 563.7h2.6M436.6 561.9V563.1M435.3 561.9h2.6M435.3 563.1h2.6M454.4 559.4V560.8M453.1 559.4h2.6M453.1 560.8h2.6M472.2 558.3V559.8M470.9 558.3h2.6M470.9 559.8h2.6M490.0 556.5V558.1M488.7 556.5h2.6M488.7 558.1h2.6M507.8 555.4V557.2M506.5 555.4h2.6M506.5 557.2h2.6" fill="none" stroke="#22a83c" stroke-width="0.7"/>
<path d="M365.4 566.7L383.2 564.9L401.0 564.2L418.8 563.2L436.6 562.5L454.4 560.1L472.2 559.0L490.0 557.3L507.8 556.3" fill="none" stroke="#22a83c" stroke-width="0.9"/>
<path d="M365.4 566.7h0M383.2 564.9h0M401.0 564.2h0M418.8 563.2h0M436.6 562.5h0M454.4 560.1h0M472.2 559.0h0M490.0 557.3h0M507.8 556.3h0" fill="none" stroke="#22a83c" stroke-width="2.50" stroke-linecap="round"/>
<path d="M365.4 565.7V566.9M364.1 565.7h2.6M364.1 566.9h2.6M383.2 563.2V564.6M381.9 563.2h2.6M381.9 564.6h2.6M401.0 562.4V564.0M399.7 562.4h2.6M399.7 564.0h2.6M418.8 561.3V563.0M417.5 561.3h2.6M417.5 563.0h2.6M436.6 559.8V561.7M435.3 559.8h2.6M435.3 561.7h2.6M454.4 558.0V560.1M453.1 558.0h2.6M453.1 560.1h2.6M472.2 556.2V558.5M470.9 556.2h2.6M470.9 558.5h2.6M490.0 553.9V556.5M488.7 553.9h2.6M488.7 556.5h2.6M507.8 552.8V555.6M506.5 552.8h2.6M506.5 555.6h2.6" fill="none" stroke="#1a5a9a" stroke-width="0.7"/>
<path d="M365.4 566.3L383.2 563.9L401.0 563.2L418.8 562.2L436.6 560.8L454.4 559.0L472.2 557.3L490.0 555.2L507.8 554.2" fill="none" stroke="#1a5a9a" stroke-width="0.9"/>
<path d="M365.4 566.3h0M383.2 563.9h0M401.0 563.2h0M418.8 562.2h0M436.6 560.8h0M454.4 559.0h0M472.2 557.3h0M490.0 555.2h0M507.8 554.2h0" fill="none" stroke="#1a5a9a" stroke-width="2.50" stroke-linecap="round"/>
<path d="M365.4 562.8V564.3M364.1 562.8h2.6M364.1 564.3h2.6M383.2 552.2V554.8M381.9 552.2h2.6M381.9 554.8h2.6M401.0 546.7V549.9M399.7 546.7h2.6M399.7 549.9h2.6M418.8 541.2V545.0M417.5 541.2h2.6M417.5 545.0h2.6M436.6 538.3V542.4M435.3 538.3h2.6M435.3 542.4h2.6M454.4 535.4V539.8M453.1 535.4h2.6M453.1 539.8h2.6M472.2 532.8V537.5M470.9 532.8h2.6M470.9 537.5h2.6M490.0 530.3V535.2M488.7 530.3h2.6M488.7 535.2h2.6M507.8 527.7V532.9M506.5 527.7h2.6M506.5 532.9h2.6" fill="none" stroke="#ff9010" stroke-width="0.7"/>
<path d="M365.4 563.5L383.2 553.5L401.0 548.3L418.8 543.1L436.6 540.4L454.4 537.6L472.2 535.2L490.0 532.7L507.8 530.3" fill="none" stroke="#ff9010" stroke-width="0.9"/>
<path d="M365.4 563.5h0M383.2 553.5h0M401.0 548.3h0M418.8 543.1h0M436.6 540.4h0M454.4 537.6h0M472.2 535.2h0M490.0 532.7h0M507.8 530.3h0" fill="none" stroke="#ff9010" stroke-width="2.50" stroke-linecap="round"/>
<path d="M365.4 554.8V557.1M364.1 554.8h2.6M364.1 557.1h2.6M383.2 537.2V540.7M381.9 537.2h2.6M381.9 540.7h2.6M401.0 527.9V532.1M399.7 527.9h2.6M399.7 532.1h2.6M418.8 520.0V524.7M417.5 520.0h2.6M417.5 524.7h2.6M436.6 514.3V519.4M435.3 514.3h2.6M435.3 519.4h2.6M454.4 508.9V514.4M453.1 508.9h2.6M453.1 514.4h2.6M472.2 505.0V510.7M470.9 505.0h2.6M470.9 510.7h2.6M490.0 501.7V507.7M488.7 501.7h2.6M488.7 507.7h2.6M507.8 498.9V505.0M506.5 498.9h2.6M506.5 505.0h2.6" fill="none" stroke="#c8102e" stroke-width="0.7"/>
<path d="M365.4 555.9L383.2 539.0L401.0 530.0L418.8 522.4L436.6 516.8L454.4 511.6L472.2 507.8L490.0 504.7L507.8 502.0" fill="none" stroke="#c8102e" stroke-width="0.9"/>
<path d="M365.4 555.9h0M383.2 539.0h0M401.0 530.0h0M418.8 522.4h0M436.6 516.8h0M454.4 511.6h0M472.2 507.8h0M490.0 504.7h0M507.8 502.0h0" fill="none" stroke="#c8102e" stroke-width="2.50" stroke-linecap="round"/>
<line x1="368.50" y1="484.20" x2="376.90" y2="484.20" stroke="#22a83c" stroke-width="1.0" stroke-opacity="0.6"/>
<circle cx="372.70" cy="484.20" r="1.2" fill="#22a83c"/>
<text x="379.60" y="486.90" font-size="7.6" text-anchor="start" font-weight="normal" fill="#111" textLength="41.3" lengthAdjust="spacingAndGlyphs">Primary cells</text>
<line x1="368.50" y1="491.95" x2="376.90" y2="491.95" stroke="#4b0f6e" stroke-width="1.0" stroke-opacity="0.6"/>
<circle cx="372.70" cy="491.95" r="1.2" fill="#4b0f6e"/>
<text x="379.60" y="494.65" font-size="7.6" text-anchor="start" font-weight="normal" fill="#111" textLength="16.2" lengthAdjust="spacingAndGlyphs">IgG1</text>
<line x1="368.50" y1="499.70" x2="376.90" y2="499.70" stroke="#ff9010" stroke-width="1.0" stroke-opacity="0.6"/>
<circle cx="372.70" cy="499.70" r="1.2" fill="#ff9010"/>
<text x="379.60" y="502.40" font-size="7.6" text-anchor="start" font-weight="normal" fill="#111" textLength="30.6" lengthAdjust="spacingAndGlyphs">NK+IgG1</text>
<line x1="368.50" y1="507.45" x2="376.90" y2="507.45" stroke="#1a5a9a" stroke-width="1.0" stroke-opacity="0.6"/>
<circle cx="372.70" cy="507.45" r="1.2" fill="#1a5a9a"/>
<text x="379.60" y="510.15" font-size="7.6" text-anchor="start" font-weight="normal" fill="#111" textLength="34.9" lengthAdjust="spacingAndGlyphs">HEK5-1B3</text>
<line x1="368.50" y1="515.20" x2="376.90" y2="515.20" stroke="#c8102e" stroke-width="1.0" stroke-opacity="0.6"/>
<circle cx="372.70" cy="515.20" r="1.2" fill="#c8102e"/>
<text x="379.60" y="517.90" font-size="7.6" text-anchor="start" font-weight="normal" fill="#111" textLength="49.3" lengthAdjust="spacingAndGlyphs">NK+HEK5-1B3</text>
<text x="0" y="0" font-size="9.6" text-anchor="middle" fill="#111" textLength="75.0" lengthAdjust="spacingAndGlyphs" transform="translate(340.50,643.50) rotate(-90)">Annexin-V(+)cells/field</text>
<line x1="365.40" y1="608.50" x2="365.40" y2="681.45" stroke="#111" stroke-width="0.95" />
<line x1="364.95" y1="681.00" x2="513.00" y2="681.00" stroke="#111" stroke-width="0.95" />
<line x1="362.40" y1="681.00" x2="365.40" y2="681.00" stroke="#111" stroke-width="0.8" />
<text x="359.50" y="683.90" font-size="8.6" text-anchor="end" font-weight="normal" fill="#111" textLength="4.3" lengthAdjust="spacingAndGlyphs">0</text>
<line x1="362.40" y1="663.50" x2="365.40" y2="663.50" stroke="#111" stroke-width="0.8" />
<text x="359.50" y="666.40" font-size="8.6" text-anchor="end" font-weight="normal" fill="#111" textLength="8.6" lengthAdjust="spacingAndGlyphs">50</text>
<line x1="362.40" y1="646.00" x2="365.40" y2="646.00" stroke="#111" stroke-width="0.8" />
<text x="359.50" y="648.90" font-size="8.6" text-anchor="end" font-weight="normal" fill="#111" textLength="12.9" lengthAdjust="spacingAndGlyphs">100</text>
<line x1="362.40" y1="628.50" x2="365.40" y2="628.50" stroke="#111" stroke-width="0.8" />
<text x="359.50" y="631.40" font-size="8.6" text-anchor="end" font-weight="normal" fill="#111" textLength="12.9" lengthAdjust="spacingAndGlyphs">150</text>
<line x1="362.40" y1="611.00" x2="365.40" y2="611.00" stroke="#111" stroke-width="0.8" />
<text x="359.50" y="613.90" font-size="8.6" text-anchor="end" font-weight="normal" fill="#111" textLength="12.9" lengthAdjust="spacingAndGlyphs">200</text>
<line x1="365.40" y1="681.00" x2="365.40" y2="684.30" stroke="#111" stroke-width="0.95" />
<text x="365.40" y="693.40" font-size="8.6" text-anchor="middle" font-weight="normal" fill="#111" textLength="4.3" lengthAdjust="spacingAndGlyphs">0</text>
<line x1="383.20" y1="681.00" x2="383.20" y2="684.30" stroke="#111" stroke-width="0.95" />
<text x="383.20" y="693.40" font-size="8.6" text-anchor="middle" font-weight="normal" fill="#111" textLength="4.3" lengthAdjust="spacingAndGlyphs">1</text>
<line x1="401.00" y1="681.00" x2="401.00" y2="684.30" stroke="#111" stroke-width="0.95" />
<text x="401.00" y="693.40" font-size="8.6" text-anchor="middle" font-weight="normal" fill="#111" textLength="4.3" lengthAdjust="spacingAndGlyphs">2</text>
<line x1="418.80" y1="681.00" x2="418.80" y2="684.30" stroke="#111" stroke-width="0.95" />
<text x="418.80" y="693.40" font-size="8.6" text-anchor="middle" font-weight="normal" fill="#111" textLength="4.3" lengthAdjust="spacingAndGlyphs">3</text>
<line x1="436.60" y1="681.00" x2="436.60" y2="684.30" stroke="#111" stroke-width="0.95" />
<text x="436.60" y="693.40" font-size="8.6" text-anchor="middle" font-weight="normal" fill="#111" textLength="4.3" lengthAdjust="spacingAndGlyphs">4</text>
<line x1="454.40" y1="681.00" x2="454.40" y2="684.30" stroke="#111" stroke-width="0.95" />
<text x="454.40" y="693.40" font-size="8.6" text-anchor="middle" font-weight="normal" fill="#111" textLength="4.3" lengthAdjust="spacingAndGlyphs">5</text>
<line x1="472.20" y1="681.00" x2="472.20" y2="684.30" stroke="#111" stroke-width="0.95" />
<text x="472.20" y="693.40" font-size="8.6" text-anchor="middle" font-weight="normal" fill="#111" textLength="4.3" lengthAdjust="spacingAndGlyphs">6</text>
<line x1="490.00" y1="681.00" x2="490.00" y2="684.30" stroke="#111" stroke-width="0.95" />
<text x="490.00" y="693.40" font-size="8.6" text-anchor="middle" font-weight="normal" fill="#111" textLength="4.3" lengthAdjust="spacingAndGlyphs">7</text>
<line x1="507.80" y1="681.00" x2="507.80" y2="684.30" stroke="#111" stroke-width="0.95" />
<text x="507.80" y="693.40" font-size="8.6" text-anchor="middle" font-weight="normal" fill="#111" textLength="4.3" lengthAdjust="spacingAndGlyphs">8</text>
<text x="439.00" y="705.90" font-size="9.2" text-anchor="middle" font-weight="normal" fill="#111" textLength="42.5" lengthAdjust="spacingAndGlyphs">Time (hours)</text>
<path d="M365.4 679.9V680.7M364.1 679.9h2.6M364.1 680.7h2.6M383.2 678.1V679.0M381.9 678.1h2.6M381.9 679.0h2.6M401.0 677.0V678.0M399.7 677.0h2.6M399.7 678.0h2.6M418.8 675.9V677.0M417.5 675.9h2.6M417.5 677.0h2.6M436.6 675.1V676.4M435.3 675.1h2.6M435.3 676.4h2.6M454.4 673.7V675.0M453.1 673.7h2.6M453.1 675.0h2.6M472.2 672.2V673.7M470.9 672.2h2.6M470.9 673.7h2.6M490.0 670.7V672.4M488.7 670.7h2.6M488.7 672.4h2.6M507.8 669.6V671.4M506.5 669.6h2.6M506.5 671.4h2.6" fill="none" stroke="#4b0f6e" stroke-width="0.7"/>
<path d="M365.4 680.3L383.2 678.5L401.0 677.5L418.8 676.5L436.6 675.8L454.4 674.4L472.2 673.0L490.0 671.5L507.8 670.5" fill="none" stroke="#4b0f6e" stroke-width="0.9"/>
<path d="M365.4 680.3h0M383.2 678.5h0M401.0 677.5h0M418.8 676.5h0M436.6 675.8h0M454.4 674.4h0M472.2 673.0h0M490.0 671.5h0M507.8 670.5h0" fill="none" stroke="#4b0f6e" stroke-width="2.50" stroke-linecap="round"/>
<path d="M365.4 680.3V681.0M364.1 680.3h2.6M364.1 681.0h2.6M383.2 678.4V679.4M381.9 678.4h2.6M381.9 679.4h2.6M401.0 677.7V678.7M399.7 677.7h2.6M399.7 678.7h2.6M418.8 676.6V677.7M417.5 676.6h2.6M417.5 677.7h2.6M436.6 675.9V677.0M435.3 675.9h2.6M435.3 677.0h2.6M454.4 674.0V675.4M453.1 674.0h2.6M453.1 675.4h2.6M472.2 672.6V674.0M470.9 672.6h2.6M470.9 674.0h2.6M490.0 670.7V672.4M488.7 670.7h2.6M488.7 672.4h2.6M507.8 670.0V671.7M506.5 670.0h2.6M506.5 671.7h2.6" fill="none" stroke="#22a83c" stroke-width="0.7"/>
<path d="M365.4 680.6L383.2 678.9L401.0 678.2L418.8 677.1L436.6 676.5L454.4 674.7L472.2 673.3L490.0 671.5L507.8 670.9" fill="none" stroke="#22a83c" stroke-width="0.9"/>
<path d="M365.4 680.6h0M383.2 678.9h0M401.0 678.2h0M418.8 677.1h0M436.6 676.5h0M454.4 674.7h0M472.2 673.3h0M490.0 671.5h0M507.8 670.9h0" fill="none" stroke="#22a83c" stroke-width="2.50" stroke-linecap="round"/>
<path d="M365.4 679.0V680.2M364.1 679.0h2.6M364.1 680.2h2.6M383.2 676.7V678.3M381.9 676.7h2.6M381.9 678.3h2.6M401.0 675.2V677.0M399.7 675.2h2.6M399.7 677.0h2.6M418.8 673.7V675.7M417.5 673.7h2.6M417.5 675.7h2.6M436.6 672.2V674.4M435.3 672.2h2.6M435.3 674.4h2.6M454.4 670.3V672.8M453.1 670.3h2.6M453.1 672.8h2.6M472.2 668.8V671.5M470.9 668.8h2.6M470.9 671.5h2.6M490.0 667.3V670.2M488.7 667.3h2.6M488.7 670.2h2.6M507.8 666.5V669.6M506.5 666.5h2.6M506.5 669.6h2.6" fill="none" stroke="#1a5a9a" stroke-width="0.7"/>
<path d="M365.4 679.6L383.2 677.5L401.0 676.1L418.8 674.7L436.6 673.3L454.4 671.5L472.2 670.1L490.0 668.8L507.8 668.0" fill="none" stroke="#1a5a9a" stroke-width="0.9"/>
<path d="M365.4 679.6h0M383.2 677.5h0M401.0 676.1h0M418.8 674.7h0M436.6 673.3h0M454.4 671.5h0M472.2 670.1h0M490.0 668.8h0M507.8 668.0h0" fill="none" stroke="#1a5a9a" stroke-width="2.50" stroke-linecap="round"/>
<path d="M365.4 676.6V678.4M364.1 676.6h2.6M364.1 678.4h2.6M383.2 665.8V668.9M381.9 665.8h2.6M381.9 668.9h2.6M401.0 660.2V664.0M399.7 660.2h2.6M399.7 664.0h2.6M418.8 655.3V659.8M417.5 655.3h2.6M417.5 659.8h2.6M436.6 651.6V656.5M435.3 651.6h2.6M435.3 656.5h2.6M454.4 649.0V654.2M453.1 649.0h2.6M453.1 654.2h2.6M472.2 646.0V651.6M470.9 646.0h2.6M470.9 651.6h2.6M490.0 643.4V649.3M488.7 643.4h2.6M488.7 649.3h2.6M507.8 641.2V647.3M506.5 641.2h2.6M506.5 647.3h2.6" fill="none" stroke="#ff9010" stroke-width="0.7"/>
<path d="M365.4 677.5L383.2 667.4L401.0 662.1L418.8 657.5L436.6 654.0L454.4 651.6L472.2 648.8L490.0 646.4L507.8 644.2" fill="none" stroke="#ff9010" stroke-width="0.9"/>
<path d="M365.4 677.5h0M383.2 667.4h0M401.0 662.1h0M418.8 657.5h0M436.6 654.0h0M454.4 651.6h0M472.2 648.8h0M490.0 646.4h0M507.8 644.2h0" fill="none" stroke="#ff9010" stroke-width="2.50" stroke-linecap="round"/>
<path d="M365.4 671.0V673.5M364.1 671.0h2.6M364.1 673.5h2.6M383.2 646.9V651.4M381.9 646.9h2.6M381.9 651.4h2.6M401.0 637.8V643.0M399.7 637.8h2.6M399.7 643.0h2.6M418.8 631.6V637.3M417.5 631.6h2.6M417.5 637.3h2.6M436.6 626.5V632.6M435.3 626.5h2.6M435.3 632.6h2.6M454.4 622.1V628.6M453.1 622.1h2.6M453.1 628.6h2.6M472.2 617.7V624.6M470.9 617.7h2.6M470.9 624.6h2.6M490.0 614.4V621.6M488.7 614.4h2.6M488.7 621.6h2.6M507.8 610.8V618.2M506.5 610.8h2.6M506.5 618.2h2.6" fill="none" stroke="#c8102e" stroke-width="0.7"/>
<path d="M365.4 672.2L383.2 649.1L401.0 640.4L418.8 634.5L436.6 629.5L454.4 625.4L472.2 621.1L490.0 618.0L507.8 614.5" fill="none" stroke="#c8102e" stroke-width="0.9"/>
<path d="M365.4 672.2h0M383.2 649.1h0M401.0 640.4h0M418.8 634.5h0M436.6 629.5h0M454.4 625.4h0M472.2 621.1h0M490.0 618.0h0M507.8 614.5h0" fill="none" stroke="#c8102e" stroke-width="2.50" stroke-linecap="round"/>
<line x1="368.50" y1="601.50" x2="376.90" y2="601.50" stroke="#22a83c" stroke-width="1.0" stroke-opacity="0.6"/>
<circle cx="372.70" cy="601.50" r="1.2" fill="#22a83c"/>
<text x="379.60" y="604.20" font-size="7.6" text-anchor="start" font-weight="normal" fill="#111" textLength="41.3" lengthAdjust="spacingAndGlyphs">Primary cells</text>
<line x1="368.50" y1="609.25" x2="376.90" y2="609.25" stroke="#4b0f6e" stroke-width="1.0" stroke-opacity="0.6"/>
<circle cx="372.70" cy="609.25" r="1.2" fill="#4b0f6e"/>
<text x="379.60" y="611.95" font-size="7.6" text-anchor="start" font-weight="normal" fill="#111" textLength="16.2" lengthAdjust="spacingAndGlyphs">IgG1</text>
<line x1="368.50" y1="617.00" x2="376.90" y2="617.00" stroke="#ff9010" stroke-width="1.0" stroke-opacity="0.6"/>
<circle cx="372.70" cy="617.00" r="1.2" fill="#ff9010"/>
<text x="379.60" y="619.70" font-size="7.6" text-anchor="start" font-weight="normal" fill="#111" textLength="30.6" lengthAdjust="spacingAndGlyphs">NK+IgG1</text>
<line x1="368.50" y1="624.75" x2="376.90" y2="624.75" stroke="#1a5a9a" stroke-width="1.0" stroke-opacity="0.6"/>
<circle cx="372.70" cy="624.75" r="1.2" fill="#1a5a9a"/>
<text x="379.60" y="627.45" font-size="7.6" text-anchor="start" font-weight="normal" fill="#111" textLength="17.3" lengthAdjust="spacingAndGlyphs">58B1</text>
<line x1="368.50" y1="632.50" x2="376.90" y2="632.50" stroke="#c8102e" stroke-width="1.0" stroke-opacity="0.6"/>
<circle cx="372.70" cy="632.50" r="1.2" fill="#c8102e"/>
<text x="379.60" y="635.20" font-size="7.6" text-anchor="start" font-weight="normal" fill="#111" textLength="31.8" lengthAdjust="spacingAndGlyphs">NK+58B1</text>
<text x="438.60" y="364.40" font-size="9.4" text-anchor="middle" font-weight="normal" fill="#111" textLength="40.1" lengthAdjust="spacingAndGlyphs">Patient -1</text>
<text x="0" y="0" font-size="9.6" text-anchor="middle" fill="#111" textLength="76.0" lengthAdjust="spacingAndGlyphs" transform="translate(12.30,416.00) rotate(-90)">Annexin-V(+)cells/field</text>
<line x1="48.10" y1="443.25" x2="48.10" y2="445.53" stroke="#111" stroke-width="0.9" />
<line x1="46.20" y1="443.25" x2="50.00" y2="443.25" stroke="#111" stroke-width="0.9" />
<rect x="44.15" y="445.53" width="7.9" height="6.87" fill="#3bb54a"/>
<line x1="48.10" y1="452.40" x2="48.10" y2="455.70" stroke="#111" stroke-width="0.95" />
<text x="0" y="0" font-size="7.75" text-anchor="end" fill="#111" transform="translate(51.10,463.10) rotate(-45)">OCI-AML3</text>
<line x1="61.26" y1="439.91" x2="61.26" y2="442.02" stroke="#111" stroke-width="0.9" />
<line x1="59.36" y1="439.91" x2="63.16" y2="439.91" stroke="#111" stroke-width="0.9" />
<rect x="57.31" y="442.02" width="7.9" height="10.38" fill="#5c2a7c"/>
<line x1="61.26" y1="452.40" x2="61.26" y2="455.70" stroke="#111" stroke-width="0.95" />
<text x="0" y="0" font-size="7.75" text-anchor="end" fill="#111" transform="translate(64.26,463.10) rotate(-45)">IgG1</text>
<line x1="74.42" y1="436.76" x2="74.42" y2="439.91" stroke="#111" stroke-width="0.9" />
<line x1="72.52" y1="436.76" x2="76.32" y2="436.76" stroke="#111" stroke-width="0.9" />
<rect x="70.47" y="439.91" width="7.9" height="12.49" fill="#ff8c00"/>
<line x1="74.42" y1="452.40" x2="74.42" y2="455.70" stroke="#111" stroke-width="0.95" />
<text x="0" y="0" font-size="7.75" text-anchor="end" fill="#111" transform="translate(77.42,463.10) rotate(-45)">58B1</text>
<line x1="87.58" y1="442.02" x2="87.58" y2="443.78" stroke="#111" stroke-width="0.9" />
<line x1="85.68" y1="442.02" x2="89.48" y2="442.02" stroke="#111" stroke-width="0.9" />
<rect x="83.63" y="443.78" width="7.9" height="8.62" fill="#ff8c00"/>
<line x1="87.58" y1="452.40" x2="87.58" y2="455.70" stroke="#111" stroke-width="0.95" />
<text x="0" y="0" font-size="7.75" text-anchor="end" fill="#111" transform="translate(90.58,463.10) rotate(-45)">HEK5-1B</text>
<line x1="100.74" y1="440.06" x2="100.74" y2="442.51" stroke="#111" stroke-width="0.9" />
<line x1="98.84" y1="440.06" x2="102.64" y2="440.06" stroke="#111" stroke-width="0.9" />
<rect x="96.79" y="442.51" width="7.9" height="9.89" fill="#ff8c00"/>
<line x1="100.74" y1="452.40" x2="100.74" y2="455.70" stroke="#111" stroke-width="0.95" />
<text x="0" y="0" font-size="7.75" text-anchor="end" fill="#111" transform="translate(103.74,463.10) rotate(-45)">T-1A5</text>
<line x1="113.90" y1="424.26" x2="113.90" y2="427.98" stroke="#111" stroke-width="0.9" />
<line x1="112.00" y1="424.26" x2="115.80" y2="424.26" stroke="#111" stroke-width="0.9" />
<rect x="109.95" y="427.98" width="7.9" height="24.42" fill="#0f4e8a"/>
<line x1="113.90" y1="452.40" x2="113.90" y2="455.70" stroke="#111" stroke-width="0.95" />
<text x="0" y="0" font-size="7.75" text-anchor="end" fill="#111" transform="translate(116.90,463.10) rotate(-45)">NK+IgG1</text>
<line x1="127.06" y1="409.43" x2="127.06" y2="411.92" stroke="#111" stroke-width="0.9" />
<line x1="125.16" y1="409.43" x2="128.96" y2="409.43" stroke="#111" stroke-width="0.9" />
<rect x="123.11" y="420.60" width="7.9" height="31.80" fill="#c8102e"/>
<rect x="123.11" y="411.92" width="7.9" height="3.08" fill="#c8102e"/>
<line x1="127.06" y1="452.40" x2="127.06" y2="455.70" stroke="#111" stroke-width="0.95" />
<text x="0" y="0" font-size="7.75" text-anchor="end" fill="#111" transform="translate(130.06,463.10) rotate(-45)">NK+HEK5-1B3</text>
<line x1="140.22" y1="390.99" x2="140.22" y2="395.01" stroke="#111" stroke-width="0.9" />
<line x1="138.32" y1="390.99" x2="142.12" y2="390.99" stroke="#111" stroke-width="0.9" />
<rect x="136.27" y="420.60" width="7.9" height="31.80" fill="#c8102e"/>
<rect x="136.27" y="395.01" width="7.9" height="19.99" fill="#c8102e"/>
<line x1="140.22" y1="452.40" x2="140.22" y2="455.70" stroke="#111" stroke-width="0.95" />
<text x="0" y="0" font-size="7.75" text-anchor="end" fill="#111" transform="translate(143.22,463.10) rotate(-45)">NK+58B1</text>
<line x1="153.38" y1="393.48" x2="153.38" y2="396.92" stroke="#111" stroke-width="0.9" />
<line x1="151.48" y1="393.48" x2="155.28" y2="393.48" stroke="#111" stroke-width="0.9" />
<rect x="149.43" y="420.60" width="7.9" height="31.80" fill="#c8102e"/>
<rect x="149.43" y="396.92" width="7.9" height="18.08" fill="#c8102e"/>
<line x1="153.38" y1="452.40" x2="153.38" y2="455.70" stroke="#111" stroke-width="0.95" />
<text x="0" y="0" font-size="7.75" text-anchor="end" fill="#111" transform="translate(156.38,463.10) rotate(-45)">NK+T-1A5</text>
<line x1="39.60" y1="379.60" x2="39.60" y2="415.60" stroke="#111" stroke-width="0.95" />
<line x1="39.60" y1="420.00" x2="39.60" y2="452.85" stroke="#111" stroke-width="0.95" />
<line x1="37.20" y1="414.20" x2="41.90" y2="417.50" stroke="#111" stroke-width="0.95" />
<line x1="37.20" y1="418.30" x2="41.90" y2="421.60" stroke="#111" stroke-width="0.95" />
<line x1="39.15" y1="452.40" x2="162.50" y2="452.40" stroke="#111" stroke-width="0.95" />
<line x1="36.60" y1="452.20" x2="39.60" y2="452.20" stroke="#111" stroke-width="0.8" />
<text x="33.00" y="455.10" font-size="8.6" text-anchor="end" font-weight="normal" fill="#111" textLength="4.3" lengthAdjust="spacingAndGlyphs">0</text>
<line x1="36.60" y1="441.67" x2="39.60" y2="441.67" stroke="#111" stroke-width="0.8" />
<text x="33.00" y="444.57" font-size="8.6" text-anchor="end" font-weight="normal" fill="#111" textLength="8.6" lengthAdjust="spacingAndGlyphs">30</text>
<line x1="36.60" y1="431.14" x2="39.60" y2="431.14" stroke="#111" stroke-width="0.8" />
<text x="33.00" y="434.04" font-size="8.6" text-anchor="end" font-weight="normal" fill="#111" textLength="8.6" lengthAdjust="spacingAndGlyphs">60</text>
<text x="33.00" y="422.61" font-size="8.6" text-anchor="end" font-weight="normal" fill="#111" textLength="8.6" lengthAdjust="spacingAndGlyphs">90</text>
<text x="33.00" y="415.80" font-size="8.6" text-anchor="end" font-weight="normal" fill="#111" textLength="12.9" lengthAdjust="spacingAndGlyphs">200</text>
<line x1="36.60" y1="404.50" x2="39.60" y2="404.50" stroke="#111" stroke-width="0.8" />
<text x="33.00" y="407.40" font-size="8.6" text-anchor="end" font-weight="normal" fill="#111" textLength="12.9" lengthAdjust="spacingAndGlyphs">400</text>
<line x1="36.60" y1="393.90" x2="39.60" y2="393.90" stroke="#111" stroke-width="0.8" />
<text x="33.00" y="396.80" font-size="8.6" text-anchor="end" font-weight="normal" fill="#111" textLength="12.9" lengthAdjust="spacingAndGlyphs">600</text>
<line x1="36.60" y1="383.30" x2="39.60" y2="383.30" stroke="#111" stroke-width="0.8" />
<text x="33.00" y="386.20" font-size="8.6" text-anchor="end" font-weight="normal" fill="#111" textLength="12.9" lengthAdjust="spacingAndGlyphs">800</text>
<path d="M113.90 376.90H153.38M113.90 375.20V378.60M153.38 375.20V378.60" fill="none" stroke="#3a3a3a" stroke-width="0.95"/>
<text x="134.04" y="375.90" font-size="7.5" text-anchor="middle" font-weight="bold" fill="#222" letter-spacing="0.7">***</text>
<path d="M113.90 386.00H140.22M113.90 384.30V387.70M140.22 384.30V387.70" fill="none" stroke="#3a3a3a" stroke-width="0.95"/>
<text x="127.46" y="385.00" font-size="7.5" text-anchor="middle" font-weight="bold" fill="#222" letter-spacing="0.7">***</text>
<path d="M113.90 402.80H127.06M113.90 401.10V404.50M127.06 401.10V404.50" fill="none" stroke="#3a3a3a" stroke-width="0.95"/>
<text x="120.88" y="401.80" font-size="7.5" text-anchor="middle" font-weight="bold" fill="#222" letter-spacing="0.7">**</text>
<text x="101.30" y="367.50" font-size="9.5" text-anchor="middle" font-weight="normal" fill="#111" textLength="46.0" lengthAdjust="spacingAndGlyphs">OCI-AML3</text>
<text x="0" y="0" font-size="9.6" text-anchor="middle" fill="#111" textLength="77.0" lengthAdjust="spacingAndGlyphs" transform="translate(175.60,416.20) rotate(-90)">Annexin-V(+)cells/field</text>
<line x1="209.10" y1="435.25" x2="209.10" y2="438.19" stroke="#111" stroke-width="0.9" />
<line x1="207.20" y1="435.25" x2="211.00" y2="435.25" stroke="#111" stroke-width="0.9" />
<rect x="205.15" y="438.19" width="7.9" height="14.21" fill="#3bb54a"/>
<line x1="209.10" y1="452.40" x2="209.10" y2="455.70" stroke="#111" stroke-width="0.95" />
<text x="0" y="0" font-size="7.75" text-anchor="end" fill="#111" transform="translate(212.10,463.10) rotate(-45)">U937 cells</text>
<line x1="222.32" y1="433.17" x2="222.32" y2="433.59" stroke="#111" stroke-width="0.9" />
<line x1="220.42" y1="433.17" x2="224.22" y2="433.17" stroke="#111" stroke-width="0.9" />
<rect x="218.37" y="433.59" width="7.9" height="18.81" fill="#5c2a7c"/>
<line x1="222.32" y1="452.40" x2="222.32" y2="455.70" stroke="#111" stroke-width="0.95" />
<text x="0" y="0" font-size="7.75" text-anchor="end" fill="#111" transform="translate(225.32,463.10) rotate(-45)">IgG1</text>
<line x1="235.54" y1="429.88" x2="235.54" y2="430.40" stroke="#111" stroke-width="0.9" />
<line x1="233.64" y1="429.88" x2="237.44" y2="429.88" stroke="#111" stroke-width="0.9" />
<rect x="231.59" y="430.40" width="7.9" height="22.00" fill="#ff8c00"/>
<line x1="235.54" y1="452.40" x2="235.54" y2="455.70" stroke="#111" stroke-width="0.95" />
<text x="0" y="0" font-size="7.75" text-anchor="end" fill="#111" transform="translate(238.54,463.10) rotate(-45)">58B1</text>
<line x1="248.76" y1="422.97" x2="248.76" y2="425.80" stroke="#111" stroke-width="0.9" />
<line x1="246.86" y1="422.97" x2="250.66" y2="422.97" stroke="#111" stroke-width="0.9" />
<rect x="244.81" y="425.80" width="7.9" height="26.60" fill="#ff8c00"/>
<line x1="248.76" y1="452.40" x2="248.76" y2="455.70" stroke="#111" stroke-width="0.95" />
<text x="0" y="0" font-size="7.75" text-anchor="end" fill="#111" transform="translate(251.76,463.10) rotate(-45)">HEK5-1B</text>
<line x1="261.98" y1="422.97" x2="261.98" y2="425.80" stroke="#111" stroke-width="0.9" />
<line x1="260.08" y1="422.97" x2="263.88" y2="422.97" stroke="#111" stroke-width="0.9" />
<rect x="258.03" y="425.80" width="7.9" height="26.60" fill="#ff8c00"/>
<line x1="261.98" y1="452.40" x2="261.98" y2="455.70" stroke="#111" stroke-width="0.95" />
<text x="0" y="0" font-size="7.75" text-anchor="end" fill="#111" transform="translate(264.98,463.10) rotate(-45)">T-1A5</text>
<line x1="275.20" y1="426.58" x2="275.20" y2="428.05" stroke="#111" stroke-width="0.9" />
<line x1="273.30" y1="426.58" x2="277.10" y2="426.58" stroke="#111" stroke-width="0.9" />
<rect x="271.25" y="428.05" width="7.9" height="24.35" fill="#0f4e8a"/>
<line x1="275.20" y1="452.40" x2="275.20" y2="455.70" stroke="#111" stroke-width="0.95" />
<text x="0" y="0" font-size="7.75" text-anchor="end" fill="#111" transform="translate(278.20,463.10) rotate(-45)">NK+IgG1</text>
<line x1="288.42" y1="404.04" x2="288.42" y2="408.41" stroke="#111" stroke-width="0.9" />
<line x1="286.52" y1="404.04" x2="290.32" y2="404.04" stroke="#111" stroke-width="0.9" />
<rect x="284.47" y="420.60" width="7.9" height="31.80" fill="#c8102e"/>
<rect x="284.47" y="408.41" width="7.9" height="6.49" fill="#c8102e"/>
<line x1="288.42" y1="452.40" x2="288.42" y2="455.70" stroke="#111" stroke-width="0.95" />
<text x="0" y="0" font-size="7.75" text-anchor="end" fill="#111" transform="translate(291.42,463.10) rotate(-45)">NK+HEK5-1B3</text>
<line x1="301.64" y1="407.21" x2="301.64" y2="410.29" stroke="#111" stroke-width="0.9" />
<line x1="299.74" y1="407.21" x2="303.54" y2="407.21" stroke="#111" stroke-width="0.9" />
<rect x="297.69" y="420.60" width="7.9" height="31.80" fill="#c8102e"/>
<rect x="297.69" y="410.29" width="7.9" height="4.61" fill="#c8102e"/>
<line x1="301.64" y1="452.40" x2="301.64" y2="455.70" stroke="#111" stroke-width="0.95" />
<text x="0" y="0" font-size="7.75" text-anchor="end" fill="#111" transform="translate(304.64,463.10) rotate(-45)">NK+58B1</text>
<line x1="314.86" y1="400.15" x2="314.86" y2="407.92" stroke="#111" stroke-width="0.9" />
<line x1="312.96" y1="400.15" x2="316.76" y2="400.15" stroke="#111" stroke-width="0.9" />
<rect x="310.91" y="420.60" width="7.9" height="31.80" fill="#c8102e"/>
<rect x="310.91" y="407.92" width="7.9" height="6.98" fill="#c8102e"/>
<line x1="314.86" y1="452.40" x2="314.86" y2="455.70" stroke="#111" stroke-width="0.95" />
<text x="0" y="0" font-size="7.75" text-anchor="end" fill="#111" transform="translate(317.86,463.10) rotate(-45)">NK+T-1A5</text>
<line x1="200.50" y1="379.80" x2="200.50" y2="415.60" stroke="#111" stroke-width="0.95" />
<line x1="200.50" y1="420.00" x2="200.50" y2="452.85" stroke="#111" stroke-width="0.95" />
<line x1="198.10" y1="414.20" x2="202.80" y2="417.50" stroke="#111" stroke-width="0.95" />
<line x1="198.10" y1="418.30" x2="202.80" y2="421.60" stroke="#111" stroke-width="0.95" />
<line x1="200.05" y1="452.40" x2="323.70" y2="452.40" stroke="#111" stroke-width="0.95" />
<line x1="197.50" y1="452.20" x2="200.50" y2="452.20" stroke="#111" stroke-width="0.8" />
<text x="193.90" y="455.10" font-size="8.6" text-anchor="end" font-weight="normal" fill="#111" textLength="4.3" lengthAdjust="spacingAndGlyphs">0</text>
<line x1="197.50" y1="441.70" x2="200.50" y2="441.70" stroke="#111" stroke-width="0.8" />
<text x="193.90" y="444.60" font-size="8.6" text-anchor="end" font-weight="normal" fill="#111" textLength="8.6" lengthAdjust="spacingAndGlyphs">50</text>
<line x1="197.50" y1="431.20" x2="200.50" y2="431.20" stroke="#111" stroke-width="0.8" />
<text x="193.90" y="434.10" font-size="8.6" text-anchor="end" font-weight="normal" fill="#111" textLength="12.9" lengthAdjust="spacingAndGlyphs">100</text>
<text x="193.90" y="421.80" font-size="8.6" text-anchor="end" font-weight="normal" fill="#111" textLength="12.9" lengthAdjust="spacingAndGlyphs">150</text>
<text x="193.90" y="414.60" font-size="8.6" text-anchor="end" font-weight="normal" fill="#111" textLength="12.9" lengthAdjust="spacingAndGlyphs">200</text>
<line x1="197.50" y1="399.50" x2="200.50" y2="399.50" stroke="#111" stroke-width="0.8" />
<text x="193.90" y="402.40" font-size="8.6" text-anchor="end" font-weight="normal" fill="#111" textLength="12.9" lengthAdjust="spacingAndGlyphs">250</text>
<line x1="197.50" y1="383.30" x2="200.50" y2="383.30" stroke="#111" stroke-width="0.8" />
<text x="193.90" y="386.20" font-size="8.6" text-anchor="end" font-weight="normal" fill="#111" textLength="12.9" lengthAdjust="spacingAndGlyphs">300</text>
<path d="M275.20 378.80H314.86M275.20 377.10V380.50M314.86 377.10V380.50" fill="none" stroke="#3a3a3a" stroke-width="0.95"/>
<text x="295.43" y="377.80" font-size="7.5" text-anchor="middle" font-weight="bold" fill="#222" letter-spacing="0.7">**</text>
<path d="M275.20 388.00H301.64M275.20 386.30V389.70M301.64 386.30V389.70" fill="none" stroke="#3a3a3a" stroke-width="0.95"/>
<text x="288.82" y="387.00" font-size="7.5" text-anchor="middle" font-weight="bold" fill="#222" letter-spacing="0.7">**</text>
<path d="M275.20 397.80H288.42M275.20 396.10V399.50M288.42 396.10V399.50" fill="none" stroke="#3a3a3a" stroke-width="0.95"/>
<text x="282.21" y="396.80" font-size="7.5" text-anchor="middle" font-weight="bold" fill="#222" letter-spacing="0.7">**</text>
<text x="261.90" y="367.60" font-size="9.5" text-anchor="middle" font-weight="normal" fill="#111" textLength="22.6" lengthAdjust="spacingAndGlyphs">U937</text>
<text x="0" y="0" font-size="9.6" text-anchor="middle" fill="#111" textLength="76.0" lengthAdjust="spacingAndGlyphs" transform="translate(13.50,603.00) rotate(-90)">Annexin-V(+)cells/field</text>
<line x1="48.10" y1="638.21" x2="48.10" y2="638.58" stroke="#111" stroke-width="0.9" />
<line x1="46.20" y1="638.21" x2="50.00" y2="638.21" stroke="#111" stroke-width="0.9" />
<rect x="44.15" y="638.58" width="7.9" height="0.82" fill="#3bb54a"/>
<line x1="48.10" y1="639.40" x2="48.10" y2="642.70" stroke="#111" stroke-width="0.95" />
<text x="0" y="0" font-size="7.75" text-anchor="end" fill="#111" transform="translate(51.10,650.10) rotate(-45)">Primary cells</text>
<line x1="61.26" y1="638.76" x2="61.26" y2="639.04" stroke="#111" stroke-width="0.9" />
<line x1="59.36" y1="638.76" x2="63.16" y2="638.76" stroke="#111" stroke-width="0.9" />
<rect x="57.31" y="639.04" width="7.9" height="0.36" fill="#5c2a7c"/>
<line x1="61.26" y1="639.40" x2="61.26" y2="642.70" stroke="#111" stroke-width="0.95" />
<text x="0" y="0" font-size="7.75" text-anchor="end" fill="#111" transform="translate(64.26,650.10) rotate(-45)">IgG1</text>
<line x1="74.42" y1="629.44" x2="74.42" y2="630.00" stroke="#111" stroke-width="0.9" />
<line x1="72.52" y1="629.44" x2="76.32" y2="629.44" stroke="#111" stroke-width="0.9" />
<rect x="70.47" y="630.00" width="7.9" height="9.40" fill="#ff8c00"/>
<line x1="74.42" y1="639.40" x2="74.42" y2="642.70" stroke="#111" stroke-width="0.95" />
<text x="0" y="0" font-size="7.75" text-anchor="end" fill="#111" transform="translate(77.42,650.10) rotate(-45)">58B1</text>
<line x1="87.58" y1="627.37" x2="87.58" y2="627.92" stroke="#111" stroke-width="0.9" />
<line x1="85.68" y1="627.37" x2="89.48" y2="627.37" stroke="#111" stroke-width="0.9" />
<rect x="83.63" y="627.92" width="7.9" height="11.48" fill="#ff8c00"/>
<line x1="87.58" y1="639.40" x2="87.58" y2="642.70" stroke="#111" stroke-width="0.95" />
<text x="0" y="0" font-size="7.75" text-anchor="end" fill="#111" transform="translate(90.58,650.10) rotate(-45)">HEK5-1B</text>
<line x1="100.74" y1="637.61" x2="100.74" y2="637.98" stroke="#111" stroke-width="0.9" />
<line x1="98.84" y1="637.61" x2="102.64" y2="637.61" stroke="#111" stroke-width="0.9" />
<rect x="96.79" y="637.98" width="7.9" height="1.42" fill="#ff8c00"/>
<line x1="100.74" y1="639.40" x2="100.74" y2="642.70" stroke="#111" stroke-width="0.95" />
<text x="0" y="0" font-size="7.75" text-anchor="end" fill="#111" transform="translate(103.74,650.10) rotate(-45)">T-1A5</text>
<line x1="113.90" y1="612.10" x2="113.90" y2="613.81" stroke="#111" stroke-width="0.9" />
<line x1="112.00" y1="612.10" x2="115.80" y2="612.10" stroke="#111" stroke-width="0.9" />
<rect x="109.95" y="613.81" width="7.9" height="25.59" fill="#0f4e8a"/>
<line x1="113.90" y1="639.40" x2="113.90" y2="642.70" stroke="#111" stroke-width="0.95" />
<text x="0" y="0" font-size="7.75" text-anchor="end" fill="#111" transform="translate(116.90,650.10) rotate(-45)">NK+IgG1</text>
<line x1="127.06" y1="600.29" x2="127.06" y2="601.67" stroke="#111" stroke-width="0.9" />
<line x1="125.16" y1="600.29" x2="128.96" y2="600.29" stroke="#111" stroke-width="0.9" />
<rect x="123.11" y="601.67" width="7.9" height="37.73" fill="#c8102e"/>
<line x1="127.06" y1="639.40" x2="127.06" y2="642.70" stroke="#111" stroke-width="0.95" />
<text x="0" y="0" font-size="7.75" text-anchor="end" fill="#111" transform="translate(130.06,650.10) rotate(-45)">NK+HEK5-1B3</text>
<line x1="140.22" y1="599.60" x2="140.22" y2="602.00" stroke="#111" stroke-width="0.9" />
<line x1="138.32" y1="599.60" x2="142.12" y2="599.60" stroke="#111" stroke-width="0.9" />
<rect x="136.27" y="602.00" width="7.9" height="37.40" fill="#c8102e"/>
<line x1="140.22" y1="639.40" x2="140.22" y2="642.70" stroke="#111" stroke-width="0.95" />
<text x="0" y="0" font-size="7.75" text-anchor="end" fill="#111" transform="translate(143.22,650.10) rotate(-45)">NK+58B1</text>
<line x1="153.38" y1="580.08" x2="153.38" y2="582.67" stroke="#111" stroke-width="0.9" />
<line x1="151.48" y1="580.08" x2="155.28" y2="580.08" stroke="#111" stroke-width="0.9" />
<rect x="149.43" y="582.67" width="7.9" height="56.73" fill="#c8102e"/>
<line x1="153.38" y1="639.40" x2="153.38" y2="642.70" stroke="#111" stroke-width="0.95" />
<text x="0" y="0" font-size="7.75" text-anchor="end" fill="#111" transform="translate(156.38,650.10) rotate(-45)">NK+T-1A5</text>
<line x1="39.80" y1="566.80" x2="39.80" y2="639.85" stroke="#111" stroke-width="0.95" />
<line x1="39.35" y1="639.40" x2="162.40" y2="639.40" stroke="#111" stroke-width="0.95" />
<line x1="36.80" y1="639.50" x2="39.80" y2="639.50" stroke="#111" stroke-width="0.8" />
<text x="33.20" y="642.40" font-size="8.6" text-anchor="end" font-weight="normal" fill="#111" textLength="4.3" lengthAdjust="spacingAndGlyphs">0</text>
<line x1="36.80" y1="616.43" x2="39.80" y2="616.43" stroke="#111" stroke-width="0.8" />
<text x="33.20" y="619.33" font-size="8.6" text-anchor="end" font-weight="normal" fill="#111" textLength="12.9" lengthAdjust="spacingAndGlyphs">500</text>
<line x1="36.80" y1="593.37" x2="39.80" y2="593.37" stroke="#111" stroke-width="0.8" />
<text x="33.20" y="596.27" font-size="8.6" text-anchor="end" font-weight="normal" fill="#111" textLength="17.2" lengthAdjust="spacingAndGlyphs">1000</text>
<line x1="36.80" y1="570.31" x2="39.80" y2="570.31" stroke="#111" stroke-width="0.8" />
<text x="33.20" y="573.21" font-size="8.6" text-anchor="end" font-weight="normal" fill="#111" textLength="17.2" lengthAdjust="spacingAndGlyphs">1500</text>
<path d="M113.90 572.80H153.38M113.90 571.10V574.50M153.38 571.10V574.50" fill="none" stroke="#3a3a3a" stroke-width="0.95"/>
<text x="134.04" y="571.80" font-size="7.5" text-anchor="middle" font-weight="bold" fill="#222" letter-spacing="0.7">**</text>
<path d="M113.90 581.50H140.22M113.90 579.80V583.20M140.22 579.80V583.20" fill="none" stroke="#3a3a3a" stroke-width="0.95"/>
<text x="127.46" y="580.50" font-size="7.5" text-anchor="middle" font-weight="bold" fill="#222" letter-spacing="0.7">*</text>
<path d="M113.90 592.20H127.06M113.90 590.50V593.90M127.06 590.50V593.90" fill="none" stroke="#3a3a3a" stroke-width="0.95"/>
<text x="120.88" y="591.20" font-size="7.5" text-anchor="middle" font-weight="bold" fill="#222" letter-spacing="0.7">*</text>
<text x="100.70" y="553.60" font-size="9.5" text-anchor="middle" font-weight="normal" fill="#111" textLength="40.3" lengthAdjust="spacingAndGlyphs">Patient -1</text>
<text x="0" y="0" font-size="9.6" text-anchor="middle" fill="#111" textLength="76.0" lengthAdjust="spacingAndGlyphs" transform="translate(175.60,603.00) rotate(-90)">Annexin-V(+)cells/field</text>
<line x1="209.10" y1="630.09" x2="209.10" y2="630.92" stroke="#111" stroke-width="0.9" />
<line x1="207.20" y1="630.09" x2="211.00" y2="630.09" stroke="#111" stroke-width="0.9" />
<rect x="205.15" y="630.92" width="7.9" height="8.48" fill="#3bb54a"/>
<line x1="209.10" y1="639.40" x2="209.10" y2="642.70" stroke="#111" stroke-width="0.95" />
<text x="0" y="0" font-size="7.75" text-anchor="end" fill="#111" transform="translate(212.10,650.10) rotate(-45)">Primary cells</text>
<line x1="222.32" y1="630.64" x2="222.32" y2="631.20" stroke="#111" stroke-width="0.9" />
<line x1="220.42" y1="630.64" x2="224.22" y2="630.64" stroke="#111" stroke-width="0.9" />
<rect x="218.37" y="631.20" width="7.9" height="8.20" fill="#5c2a7c"/>
<line x1="222.32" y1="639.40" x2="222.32" y2="642.70" stroke="#111" stroke-width="0.95" />
<text x="0" y="0" font-size="7.75" text-anchor="end" fill="#111" transform="translate(225.32,650.10) rotate(-45)">IgG1</text>
<line x1="235.54" y1="626.21" x2="235.54" y2="628.98" stroke="#111" stroke-width="0.9" />
<line x1="233.64" y1="626.21" x2="237.44" y2="626.21" stroke="#111" stroke-width="0.9" />
<rect x="231.59" y="628.98" width="7.9" height="10.42" fill="#ff8c00"/>
<line x1="235.54" y1="639.40" x2="235.54" y2="642.70" stroke="#111" stroke-width="0.95" />
<text x="0" y="0" font-size="7.75" text-anchor="end" fill="#111" transform="translate(238.54,650.10) rotate(-45)">58B1</text>
<line x1="248.76" y1="626.49" x2="248.76" y2="629.26" stroke="#111" stroke-width="0.9" />
<line x1="246.86" y1="626.49" x2="250.66" y2="626.49" stroke="#111" stroke-width="0.9" />
<rect x="244.81" y="629.26" width="7.9" height="10.14" fill="#ff8c00"/>
<line x1="248.76" y1="639.40" x2="248.76" y2="642.70" stroke="#111" stroke-width="0.95" />
<text x="0" y="0" font-size="7.75" text-anchor="end" fill="#111" transform="translate(251.76,650.10) rotate(-45)">HEK5-1B</text>
<line x1="261.98" y1="628.98" x2="261.98" y2="629.81" stroke="#111" stroke-width="0.9" />
<line x1="260.08" y1="628.98" x2="263.88" y2="628.98" stroke="#111" stroke-width="0.9" />
<rect x="258.03" y="629.81" width="7.9" height="9.59" fill="#ff8c00"/>
<line x1="261.98" y1="639.40" x2="261.98" y2="642.70" stroke="#111" stroke-width="0.95" />
<text x="0" y="0" font-size="7.75" text-anchor="end" fill="#111" transform="translate(264.98,650.10) rotate(-45)">T-1A5</text>
<line x1="275.20" y1="608.22" x2="275.20" y2="610.44" stroke="#111" stroke-width="0.9" />
<line x1="273.30" y1="608.22" x2="277.10" y2="608.22" stroke="#111" stroke-width="0.9" />
<rect x="271.25" y="610.44" width="7.9" height="28.96" fill="#0f4e8a"/>
<line x1="275.20" y1="639.40" x2="275.20" y2="642.70" stroke="#111" stroke-width="0.95" />
<text x="0" y="0" font-size="7.75" text-anchor="end" fill="#111" transform="translate(278.20,650.10) rotate(-45)">NK+IgG1</text>
<line x1="288.42" y1="585.52" x2="288.42" y2="588.02" stroke="#111" stroke-width="0.9" />
<line x1="286.52" y1="585.52" x2="290.32" y2="585.52" stroke="#111" stroke-width="0.9" />
<rect x="284.47" y="588.02" width="7.9" height="51.38" fill="#c8102e"/>
<line x1="288.42" y1="639.40" x2="288.42" y2="642.70" stroke="#111" stroke-width="0.95" />
<text x="0" y="0" font-size="7.75" text-anchor="end" fill="#111" transform="translate(291.42,650.10) rotate(-45)">NK+HEK5-1B3</text>
<line x1="301.64" y1="584.69" x2="301.64" y2="587.46" stroke="#111" stroke-width="0.9" />
<line x1="299.74" y1="584.69" x2="303.54" y2="584.69" stroke="#111" stroke-width="0.9" />
<rect x="297.69" y="587.46" width="7.9" height="51.94" fill="#c8102e"/>
<line x1="301.64" y1="639.40" x2="301.64" y2="642.70" stroke="#111" stroke-width="0.95" />
<text x="0" y="0" font-size="7.75" text-anchor="end" fill="#111" transform="translate(304.64,650.10) rotate(-45)">NK+58B1</text>
<line x1="314.86" y1="577.22" x2="314.86" y2="582.76" stroke="#111" stroke-width="0.9" />
<line x1="312.96" y1="577.22" x2="316.76" y2="577.22" stroke="#111" stroke-width="0.9" />
<rect x="310.91" y="582.76" width="7.9" height="56.64" fill="#c8102e"/>
<line x1="314.86" y1="639.40" x2="314.86" y2="642.70" stroke="#111" stroke-width="0.95" />
<text x="0" y="0" font-size="7.75" text-anchor="end" fill="#111" transform="translate(317.86,650.10) rotate(-45)">NK+T-1A5</text>
<line x1="200.50" y1="566.80" x2="200.50" y2="639.85" stroke="#111" stroke-width="0.95" />
<line x1="200.05" y1="639.40" x2="323.90" y2="639.40" stroke="#111" stroke-width="0.95" />
<line x1="197.50" y1="639.50" x2="200.50" y2="639.50" stroke="#111" stroke-width="0.8" />
<text x="193.90" y="642.40" font-size="8.6" text-anchor="end" font-weight="normal" fill="#111" textLength="4.3" lengthAdjust="spacingAndGlyphs">0</text>
<line x1="197.50" y1="625.66" x2="200.50" y2="625.66" stroke="#111" stroke-width="0.8" />
<text x="193.90" y="628.56" font-size="8.6" text-anchor="end" font-weight="normal" fill="#111" textLength="8.6" lengthAdjust="spacingAndGlyphs">50</text>
<line x1="197.50" y1="611.82" x2="200.50" y2="611.82" stroke="#111" stroke-width="0.8" />
<text x="193.90" y="614.72" font-size="8.6" text-anchor="end" font-weight="normal" fill="#111" textLength="12.9" lengthAdjust="spacingAndGlyphs">100</text>
<line x1="197.50" y1="597.98" x2="200.50" y2="597.98" stroke="#111" stroke-width="0.8" />
<text x="193.90" y="600.88" font-size="8.6" text-anchor="end" font-weight="normal" fill="#111" textLength="12.9" lengthAdjust="spacingAndGlyphs">150</text>
<line x1="197.50" y1="584.14" x2="200.50" y2="584.14" stroke="#111" stroke-width="0.8" />
<text x="193.90" y="587.04" font-size="8.6" text-anchor="end" font-weight="normal" fill="#111" textLength="12.9" lengthAdjust="spacingAndGlyphs">200</text>
<line x1="197.50" y1="570.30" x2="200.50" y2="570.30" stroke="#111" stroke-width="0.8" />
<text x="193.90" y="573.20" font-size="8.6" text-anchor="end" font-weight="normal" fill="#111" textLength="12.9" lengthAdjust="spacingAndGlyphs">250</text>
<path d="M275.20 562.40H314.86M275.20 560.70V564.10M314.86 560.70V564.10" fill="none" stroke="#3a3a3a" stroke-width="0.95"/>
<text x="295.43" y="561.40" font-size="7.5" text-anchor="middle" font-weight="bold" fill="#222" letter-spacing="0.7">**</text>
<path d="M275.20 570.90H301.64M275.20 569.20V572.60M301.64 569.20V572.60" fill="none" stroke="#3a3a3a" stroke-width="0.95"/>
<text x="288.82" y="569.90" font-size="7.5" text-anchor="middle" font-weight="bold" fill="#222" letter-spacing="0.7">**</text>
<path d="M275.20 579.20H288.42M275.20 577.50V580.90M288.42 577.50V580.90" fill="none" stroke="#3a3a3a" stroke-width="0.95"/>
<text x="282.21" y="578.20" font-size="7.5" text-anchor="middle" font-weight="bold" fill="#222" letter-spacing="0.7">**</text>
<text x="262.20" y="553.60" font-size="9.5" text-anchor="middle" font-weight="normal" fill="#111" textLength="41.3" lengthAdjust="spacingAndGlyphs">Patient -2</text>
</svg></div></body></html>
